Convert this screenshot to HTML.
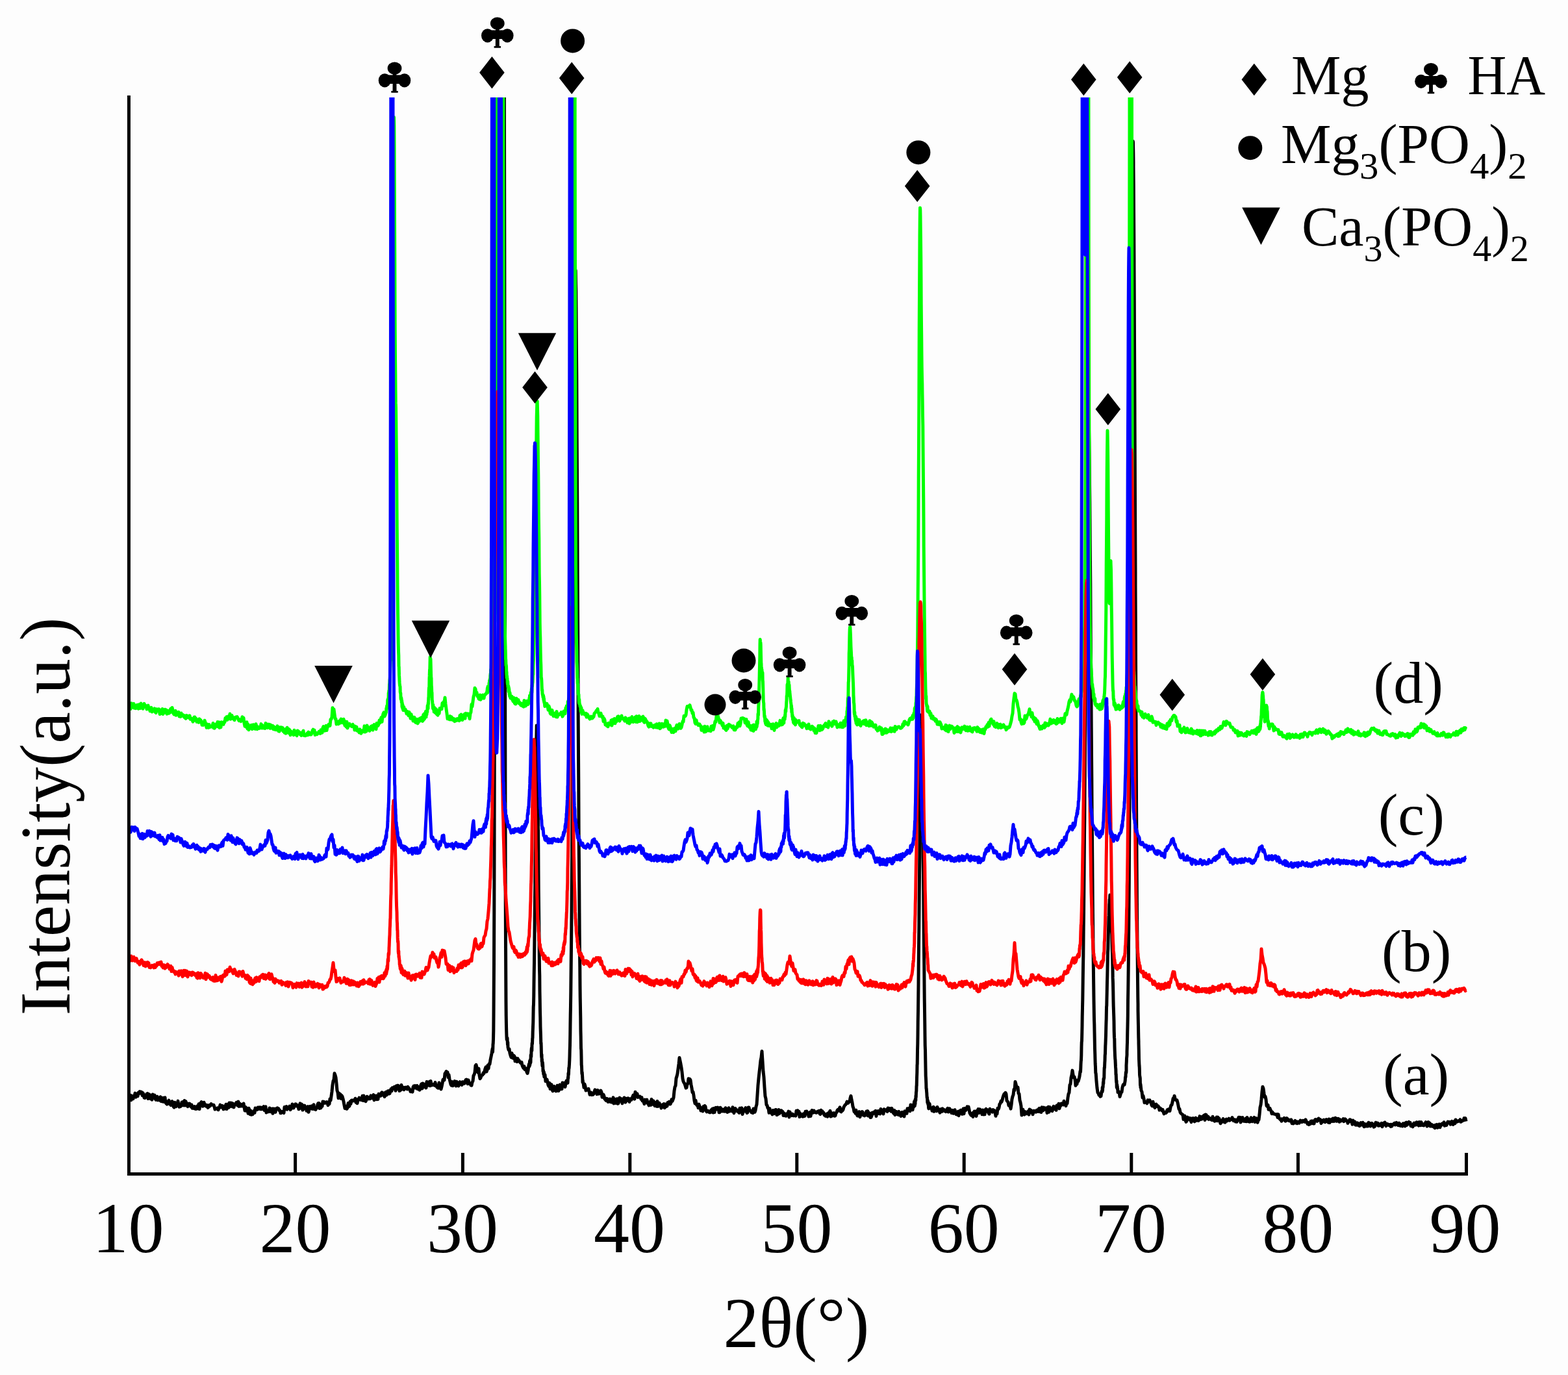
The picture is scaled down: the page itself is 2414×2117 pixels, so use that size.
<!DOCTYPE html>
<html><head><meta charset="utf-8"><title>XRD patterns</title>
<style>
html,body{margin:0;padding:0;background:#fdfdfd;}
svg{display:block;}
text{font-family:"Liberation Serif","Times New Roman",serif;fill:#000;}
</style></head><body>
<svg width="2414" height="2117" viewBox="0 0 2414 2117">
<rect width="2414" height="2117" fill="#fdfdfd"/>
<defs><clipPath id="pc"><rect x="190" y="150" width="2070" height="1655"/></clipPath>
</defs>

<g clip-path="url(#pc)" fill="none" stroke-width="5.0" stroke-linejoin="round" stroke-linecap="butt">
<path stroke="#000" d="M199.0,1690.6 200.0,1693.9 201.0,1686.2 202.0,1693.7 203.0,1687.1 204.0,1687.9 205.0,1691.8 206.0,1687.3 207.0,1688.2 208.0,1683.1 209.0,1689.2 210.0,1686.8 211.0,1684.1 212.0,1687.8 213.0,1682.4 214.0,1683.7 215.0,1680.6 216.0,1682.9 217.0,1681.1 218.0,1681.6 219.0,1686.6 220.0,1682.7 221.0,1685.0 222.0,1690.1 223.0,1690.5 224.0,1687.9 225.0,1686.1 226.0,1684.2 227.0,1683.6 228.0,1691.6 229.0,1688.6 230.0,1684.9 231.0,1689.8 232.0,1691.8 233.0,1690.2 234.0,1693.1 235.0,1685.0 236.0,1690.0 237.0,1688.9 238.0,1686.0 239.0,1691.5 240.0,1693.4 241.0,1691.3 242.0,1688.2 243.0,1693.9 244.0,1691.3 245.0,1691.8 246.0,1694.1 247.0,1688.8 248.0,1695.6 249.0,1694.3 250.0,1695.8 251.0,1690.2 252.0,1696.4 253.0,1690.2 254.0,1689.8 255.0,1697.6 256.0,1699.1 257.0,1700.1 258.0,1697.2 259.0,1696.0 260.0,1694.1 261.0,1699.7 262.0,1699.7 263.0,1701.6 264.0,1696.6 265.0,1695.7 266.0,1700.7 267.0,1703.7 268.0,1705.0 269.0,1697.2 270.0,1700.3 271.0,1703.8 272.0,1698.9 273.0,1700.8 274.0,1695.1 275.0,1701.7 276.0,1704.2 277.0,1702.9 278.0,1703.5 279.0,1701.0 280.0,1697.0 281.0,1701.7 282.0,1696.4 283.0,1701.9 284.0,1694.6 285.0,1701.9 286.0,1695.7 287.0,1698.7 288.0,1699.2 289.0,1703.7 290.0,1699.2 291.0,1701.6 292.0,1699.2 293.0,1702.4 294.0,1704.1 295.0,1701.0 296.0,1706.2 297.0,1703.5 298.0,1706.4 299.0,1705.7 300.0,1703.7 301.0,1707.4 302.0,1704.7 303.0,1707.2 304.0,1702.8 305.0,1703.9 306.0,1699.9 307.0,1707.6 308.0,1699.0 309.0,1698.7 310.0,1696.6 311.0,1698.2 312.0,1703.2 313.0,1702.7 314.0,1697.3 315.0,1700.2 316.0,1701.1 317.0,1703.1 318.0,1701.3 319.0,1702.7 320.0,1705.3 321.0,1704.5 322.0,1701.7 323.0,1703.0 324.0,1702.2 325.0,1699.6 326.0,1700.9 327.0,1700.9 328.0,1701.4 329.0,1701.2 330.0,1704.2 331.0,1708.0 332.0,1706.8 333.0,1707.1 334.0,1707.3 335.0,1705.9 336.0,1708.8 337.0,1706.2 338.0,1704.8 339.0,1701.1 340.0,1704.9 341.0,1703.1 342.0,1702.4 343.0,1705.4 344.0,1707.8 345.0,1703.2 346.0,1707.1 347.0,1704.2 348.0,1700.2 349.0,1707.5 350.0,1701.7 351.0,1700.2 352.0,1705.4 353.0,1697.9 354.0,1703.8 355.0,1698.0 356.0,1699.8 357.0,1698.3 358.0,1704.0 359.0,1699.2 360.0,1704.9 361.0,1701.0 362.0,1701.3 363.0,1700.0 364.0,1697.2 365.0,1697.4 366.0,1702.3 367.0,1696.1 368.0,1703.5 369.0,1702.3 370.0,1699.6 371.0,1703.1 372.0,1700.7 373.0,1701.7 374.0,1703.2 375.0,1699.0 376.0,1704.7 377.0,1710.0 378.0,1704.4 379.0,1710.2 380.0,1708.4 381.0,1706.4 382.0,1714.2 383.0,1706.2 384.0,1708.9 385.0,1715.7 386.0,1710.0 387.0,1716.3 388.0,1713.2 389.0,1715.6 390.0,1713.7 391.0,1710.3 392.0,1713.3 393.0,1706.1 394.0,1709.0 395.0,1707.9 396.0,1708.4 397.0,1704.9 398.0,1705.0 399.0,1707.3 400.0,1704.9 401.0,1707.8 402.0,1705.2 403.0,1707.6 404.0,1707.0 405.0,1706.4 406.0,1703.7 407.0,1709.5 408.0,1704.7 409.0,1704.0 410.0,1713.1 411.0,1709.7 412.0,1711.8 413.0,1710.4 414.0,1711.5 415.0,1706.0 416.0,1707.5 417.0,1711.8 418.0,1710.7 419.0,1707.0 420.0,1714.3 421.0,1706.9 422.0,1710.8 423.0,1707.2 424.0,1712.4 425.0,1708.1 426.0,1706.4 427.0,1705.8 428.0,1706.7 429.0,1707.0 430.0,1709.8 431.0,1709.6 432.0,1713.8 433.0,1713.5 434.0,1711.8 435.0,1711.4 436.0,1712.5 437.0,1713.5 438.0,1704.5 439.0,1704.7 440.0,1706.3 441.0,1703.6 442.0,1708.2 443.0,1704.6 444.0,1704.9 445.0,1705.2 446.0,1703.2 447.0,1708.6 448.0,1707.1 449.0,1706.2 450.0,1699.9 451.0,1703.6 452.0,1705.9 453.0,1701.3 454.0,1703.3 455.0,1699.8 456.0,1700.3 457.0,1701.7 458.0,1703.7 459.0,1703.8 460.0,1707.8 461.0,1702.1 462.0,1698.9 463.0,1706.3 464.0,1700.0 465.0,1700.6 466.0,1709.1 467.0,1707.6 468.0,1704.3 469.0,1702.2 470.0,1704.5 471.0,1704.7 472.0,1710.2 473.0,1706.1 474.0,1703.7 475.0,1712.2 476.0,1708.7 477.0,1703.6 478.0,1703.5 479.0,1706.3 480.0,1702.9 481.0,1707.4 482.0,1706.9 483.0,1700.8 484.0,1707.8 485.0,1706.8 486.0,1708.4 487.0,1705.8 488.0,1706.0 489.0,1700.4 490.0,1698.5 491.0,1698.4 492.0,1706.5 493.0,1702.8 494.0,1705.8 495.0,1700.0 496.0,1703.3 497.0,1695.9 498.0,1696.5 499.0,1696.4 500.0,1698.4 501.0,1698.2 502.0,1697.8 503.0,1696.6 504.0,1697.8 505.0,1701.7 506.0,1696.9 507.0,1699.6 508.0,1691.9 509.0,1694.2 510.0,1687.8 511.0,1680.6 512.0,1670.3 513.0,1664.4 514.0,1662.3 515.0,1652.6 516.0,1655.1 517.0,1658.8 518.0,1668.0 519.0,1678.9 520.0,1682.0 521.0,1690.8 522.0,1683.2 523.0,1686.9 524.0,1684.7 525.0,1691.5 526.0,1686.8 527.0,1688.2 528.0,1691.6 529.0,1696.0 530.0,1701.6 531.0,1706.5 532.0,1703.5 533.0,1703.1 534.0,1707.3 535.0,1705.5 536.0,1698.6 537.0,1703.7 538.0,1702.9 539.0,1696.0 540.0,1699.6 541.0,1694.2 542.0,1694.0 543.0,1695.2 544.0,1694.6 545.0,1693.6 546.0,1694.7 547.0,1691.2 548.0,1697.4 549.0,1692.9 550.0,1698.8 551.0,1694.0 552.0,1691.9 553.0,1690.2 554.0,1692.8 555.0,1691.2 556.0,1693.6 557.0,1691.8 558.0,1687.2 559.0,1694.4 560.0,1687.1 561.0,1694.6 562.0,1694.4 563.0,1695.7 564.0,1693.7 565.0,1688.3 566.0,1690.4 567.0,1690.4 568.0,1691.8 569.0,1689.2 570.0,1691.6 571.0,1686.9 572.0,1688.7 573.0,1690.6 574.0,1688.9 575.0,1685.6 576.0,1693.8 577.0,1690.6 578.0,1691.6 579.0,1687.0 580.0,1692.7 581.0,1691.4 582.0,1692.3 583.0,1684.2 584.0,1686.3 585.0,1685.0 586.0,1687.3 587.0,1683.2 588.0,1681.8 589.0,1685.1 590.0,1686.2 591.0,1683.0 592.0,1688.6 593.0,1682.3 594.0,1681.5 595.0,1686.1 596.0,1682.2 597.0,1679.9 598.0,1679.5 599.0,1684.1 600.0,1683.6 601.0,1679.8 602.0,1676.5 603.0,1679.8 604.0,1674.7 605.0,1674.8 606.0,1675.9 607.0,1673.5 608.0,1673.2 609.0,1679.3 610.0,1672.1 611.0,1676.7 612.0,1671.2 613.0,1671.5 614.0,1672.4 615.0,1679.6 616.0,1677.5 617.0,1678.3 618.0,1670.4 619.0,1676.9 620.0,1674.7 621.0,1674.3 622.0,1677.8 623.0,1674.3 624.0,1675.7 625.0,1674.1 626.0,1675.3 627.0,1677.0 628.0,1673.3 629.0,1675.2 630.0,1676.1 631.0,1677.8 632.0,1680.8 633.0,1679.0 634.0,1678.2 635.0,1681.2 636.0,1673.7 637.0,1672.1 638.0,1674.7 639.0,1671.6 640.0,1675.3 641.0,1675.3 642.0,1671.5 643.0,1676.7 644.0,1675.4 645.0,1673.7 646.0,1678.2 647.0,1676.7 648.0,1670.3 649.0,1668.8 650.0,1675.9 651.0,1668.1 652.0,1673.9 653.0,1669.2 654.0,1670.6 655.0,1671.6 656.0,1674.9 657.0,1665.4 658.0,1667.0 659.0,1671.1 660.0,1667.5 661.0,1665.6 662.0,1671.8 663.0,1664.4 664.0,1668.5 665.0,1670.9 666.0,1669.8 667.0,1669.6 668.0,1670.4 669.0,1671.1 670.0,1666.5 671.0,1670.9 672.0,1672.9 673.0,1674.0 674.0,1675.0 675.0,1675.2 676.0,1667.1 677.0,1670.5 678.0,1671.6 679.0,1677.0 680.0,1673.0 681.0,1668.0 682.0,1662.3 683.0,1661.5 684.0,1662.9 685.0,1652.7 686.0,1651.7 687.0,1649.6 688.0,1650.3 689.0,1650.9 690.0,1658.8 691.0,1654.7 692.0,1661.2 693.0,1665.5 694.0,1669.5 695.0,1671.0 696.0,1665.5 697.0,1671.7 698.0,1670.9 699.0,1668.3 700.0,1664.6 701.0,1665.7 702.0,1672.1 703.0,1665.2 704.0,1667.2 705.0,1667.2 706.0,1672.0 707.0,1667.8 708.0,1665.7 709.0,1669.2 710.0,1667.5 711.0,1670.5 712.0,1665.8 713.0,1668.7 714.0,1665.9 715.0,1668.1 716.0,1666.1 717.0,1662.8 718.0,1662.0 719.0,1663.1 720.0,1668.8 721.0,1662.9 722.0,1666.2 723.0,1668.3 724.0,1668.7 725.0,1671.1 726.0,1671.2 727.0,1666.3 728.0,1664.4 729.0,1656.1 730.0,1654.4 731.0,1651.3 732.0,1640.8 733.0,1639.4 734.0,1643.4 735.0,1647.4 736.0,1651.4 737.0,1645.3 738.0,1655.6 739.0,1660.8 740.0,1659.4 741.0,1656.5 742.0,1655.4 743.0,1655.1 744.0,1651.7 745.0,1652.7 746.0,1649.1 747.0,1645.4 748.0,1642.8 749.0,1650.1 750.0,1647.4 751.0,1640.2 752.0,1645.1 753.0,1637.9 754.0,1638.2 755.0,1631.8 756.0,1627.0 757.0,1621.9 757.5,1618.4 757.8,1616.7 758.0,1615.9 758.2,1614.3 758.5,1619.7 758.8,1614.0 759.0,1607.5 759.2,1607.0 759.5,1599.8 759.8,1587.3 760.0,1564.3 760.2,1532.1 760.5,1483.3 760.8,1402.5 761.0,1301.1 761.2,1174.7 761.5,1012.4 761.8,838.7 762.0,641.8 762.2,441.3 762.5,232.3 762.8,34.2 763.0,-50.0 763.2,-50.0 763.5,-50.0 763.8,-50.0 764.0,-50.0 764.2,-50.0 764.5,-50.0 764.8,-50.0 765.0,-50.0 765.2,-50.0 765.5,-50.0 765.8,-50.0 766.0,-50.0 766.2,-50.0 766.5,-50.0 766.8,-50.0 767.0,-50.0 767.2,-50.0 767.5,-50.0 767.8,-50.0 768.0,-50.0 768.2,-50.0 768.5,-50.0 768.8,-50.0 769.0,-50.0 769.2,-50.0 769.5,-50.0 769.8,-50.0 770.0,-50.0 770.2,-50.0 770.5,-50.0 770.8,-50.0 771.0,-50.0 771.2,-50.0 771.5,-50.0 771.8,-50.0 772.0,-50.0 772.2,-50.0 772.5,-50.0 772.8,-50.0 773.0,-50.0 773.2,-50.0 773.5,-50.0 773.8,-50.0 774.0,-50.0 774.2,-50.0 774.5,-50.0 774.8,-50.0 775.0,-50.0 775.2,-50.0 775.5,-50.0 775.8,-50.0 776.0,-50.0 776.2,-1.8 776.5,201.4 776.8,402.6 777.0,610.0 777.2,802.1 777.5,985.6 777.8,1145.7 778.0,1278.7 778.2,1378.0 778.5,1453.1 778.8,1510.4 779.0,1543.7 779.2,1563.3 779.5,1579.9 779.8,1590.8 780.0,1596.3 780.2,1600.7 780.5,1597.3 780.8,1598.1 781.0,1598.2 781.2,1602.9 781.5,1608.7 781.8,1604.5 782.0,1612.1 783.0,1616.4 784.0,1615.1 785.0,1621.5 786.0,1625.2 787.0,1628.0 788.0,1621.4 789.0,1628.7 790.0,1629.2 791.0,1625.1 792.0,1626.3 793.0,1633.8 794.0,1629.1 795.0,1629.4 796.0,1634.8 797.0,1629.7 798.0,1633.2 799.0,1632.7 800.0,1634.7 801.0,1636.0 802.0,1637.0 803.0,1635.4 804.0,1640.5 805.0,1642.8 806.0,1644.7 807.0,1641.7 808.0,1646.7 809.0,1645.7 810.0,1645.2 811.0,1650.7 812.0,1652.6 813.0,1648.4 814.0,1640.2 814.5,1638.0 814.8,1642.1 815.0,1641.0 815.2,1641.5 815.5,1633.7 815.8,1639.6 816.0,1634.7 816.2,1632.2 816.5,1631.3 816.8,1636.4 817.0,1634.6 817.2,1624.3 817.5,1624.6 817.8,1626.9 818.0,1618.3 818.2,1615.3 818.5,1613.0 818.8,1617.8 819.0,1609.2 819.2,1605.7 819.5,1607.4 819.8,1598.7 820.0,1598.0 820.2,1589.1 820.5,1581.6 820.8,1574.0 821.0,1562.0 821.2,1550.7 821.5,1546.2 821.8,1532.8 822.0,1514.2 822.2,1500.3 822.5,1482.9 822.8,1457.6 823.0,1438.7 823.2,1415.0 823.5,1382.1 823.8,1355.0 824.0,1332.3 824.2,1301.9 824.5,1267.1 824.8,1244.1 825.0,1216.3 825.2,1186.1 825.5,1162.5 825.8,1140.8 826.0,1129.0 826.2,1117.0 826.5,1118.0 826.8,1122.8 827.0,1132.1 827.2,1143.7 827.5,1169.0 827.8,1193.9 828.0,1214.6 828.2,1247.5 828.5,1278.5 828.8,1302.7 829.0,1339.7 829.2,1369.3 829.5,1394.6 829.8,1422.9 830.0,1442.0 830.2,1467.8 830.5,1491.5 830.8,1502.3 831.0,1526.7 831.2,1536.9 831.5,1556.8 831.8,1567.3 832.0,1580.7 832.2,1586.4 832.5,1594.6 832.8,1607.2 833.0,1605.4 833.2,1611.0 833.5,1623.9 833.8,1628.0 834.0,1623.5 834.2,1634.5 834.5,1630.6 834.8,1639.3 835.0,1641.1 835.2,1635.3 835.5,1637.2 835.8,1641.8 836.0,1649.3 836.2,1649.6 836.5,1647.8 836.8,1653.9 837.0,1650.3 837.2,1651.6 837.5,1650.8 837.8,1657.9 838.0,1657.4 838.2,1654.4 839.0,1654.7 840.0,1664.8 841.0,1661.6 842.0,1661.9 843.0,1666.1 844.0,1670.6 845.0,1672.6 846.0,1667.4 847.0,1676.4 848.0,1674.3 849.0,1669.7 850.0,1677.6 851.0,1679.8 852.0,1679.3 853.0,1672.5 854.0,1676.0 855.0,1677.2 856.0,1680.0 857.0,1675.6 858.0,1671.2 859.0,1679.5 860.0,1679.4 861.0,1674.6 862.0,1670.1 863.0,1676.9 864.0,1675.6 865.0,1676.7 866.0,1667.1 867.0,1671.4 868.0,1670.1 869.0,1667.3 870.0,1673.5 871.0,1668.5 872.0,1664.0 873.0,1663.7 874.0,1667.4 874.2,1663.9 874.5,1658.2 874.8,1660.3 875.0,1652.2 875.2,1655.3 875.5,1652.7 875.8,1643.9 876.0,1645.2 876.2,1643.0 876.5,1638.5 876.8,1632.3 877.0,1626.7 877.2,1617.7 877.5,1609.5 877.8,1593.2 878.0,1575.9 878.2,1563.0 878.5,1548.3 878.8,1527.2 879.0,1506.5 879.2,1487.3 879.5,1458.6 879.8,1429.8 880.0,1402.5 880.2,1369.4 880.5,1331.7 880.8,1286.4 881.0,1246.3 881.2,1202.1 881.5,1147.1 881.8,1097.5 882.0,1049.5 882.2,992.0 882.5,936.6 882.8,883.5 883.0,824.4 883.2,774.3 883.5,717.8 883.8,668.6 884.0,620.0 884.2,577.4 884.5,535.4 884.8,502.6 885.0,474.6 885.2,446.5 885.5,434.7 885.8,423.5 886.0,415.6 886.2,417.0 886.5,435.2 886.8,447.8 887.0,472.2 887.2,504.3 887.5,543.8 887.8,578.1 888.0,624.3 888.2,674.2 888.5,725.5 888.8,774.0 889.0,831.7 889.2,886.4 889.5,943.0 889.8,993.3 890.0,1048.1 890.2,1108.6 890.5,1157.3 890.8,1205.8 891.0,1252.5 891.2,1295.3 891.5,1330.2 891.8,1372.3 892.0,1405.9 892.2,1436.6 892.5,1466.1 892.8,1489.9 893.0,1518.1 893.2,1534.8 893.5,1551.2 893.8,1567.1 894.0,1587.2 894.2,1595.2 894.5,1614.0 894.8,1616.8 895.0,1626.1 895.2,1639.4 895.5,1641.6 895.8,1650.6 896.0,1653.6 896.2,1650.7 896.5,1655.4 896.8,1660.0 897.0,1666.5 897.2,1663.0 897.5,1666.2 897.8,1667.6 898.0,1667.1 899.0,1674.3 900.0,1669.2 901.0,1672.5 902.0,1679.0 903.0,1678.1 904.0,1678.3 905.0,1678.2 906.0,1676.3 907.0,1680.1 908.0,1685.4 909.0,1682.0 910.0,1682.0 911.0,1685.7 912.0,1684.3 913.0,1685.3 914.0,1684.1 915.0,1680.8 916.0,1677.9 917.0,1681.7 918.0,1679.6 919.0,1684.7 920.0,1678.5 921.0,1681.1 922.0,1684.2 923.0,1680.0 924.0,1682.7 925.0,1679.1 926.0,1681.5 927.0,1689.3 928.0,1687.4 929.0,1685.2 930.0,1687.7 931.0,1692.1 932.0,1693.1 933.0,1694.4 934.0,1691.4 935.0,1691.7 936.0,1696.5 937.0,1695.8 938.0,1696.1 939.0,1692.0 940.0,1692.9 941.0,1696.9 942.0,1692.5 943.0,1697.2 944.0,1689.8 945.0,1698.9 946.0,1691.9 947.0,1694.2 948.0,1698.4 949.0,1692.3 950.0,1691.8 951.0,1699.2 952.0,1698.7 953.0,1694.4 954.0,1690.1 955.0,1695.1 956.0,1691.7 957.0,1692.0 958.0,1698.9 959.0,1695.4 960.0,1693.8 961.0,1690.0 962.0,1692.6 963.0,1697.1 964.0,1691.3 965.0,1691.6 966.0,1694.3 967.0,1690.9 968.0,1693.7 969.0,1696.4 970.0,1691.7 971.0,1692.5 972.0,1693.2 973.0,1690.9 974.0,1688.4 975.0,1686.1 976.0,1690.0 977.0,1692.1 978.0,1681.2 979.0,1687.7 980.0,1687.3 981.0,1683.9 982.0,1689.5 983.0,1688.4 984.0,1688.3 985.0,1688.1 986.0,1689.6 987.0,1692.3 988.0,1689.7 989.0,1695.0 990.0,1694.6 991.0,1696.7 992.0,1699.6 993.0,1693.1 994.0,1695.8 995.0,1694.5 996.0,1693.2 997.0,1698.8 998.0,1698.8 999.0,1701.9 1000.0,1698.4 1001.0,1696.2 1002.0,1701.4 1003.0,1692.5 1004.0,1695.4 1005.0,1700.1 1006.0,1695.0 1007.0,1697.2 1008.0,1702.6 1009.0,1698.1 1010.0,1697.3 1011.0,1703.4 1012.0,1695.6 1013.0,1703.4 1014.0,1698.9 1015.0,1698.3 1016.0,1701.3 1017.0,1701.4 1018.0,1706.1 1019.0,1704.1 1020.0,1700.9 1021.0,1702.0 1022.0,1699.6 1023.0,1705.7 1024.0,1700.0 1025.0,1704.1 1026.0,1701.2 1027.0,1703.1 1028.0,1697.5 1029.0,1697.8 1030.0,1696.5 1031.0,1699.9 1032.0,1700.0 1033.0,1697.8 1034.0,1692.8 1035.0,1695.5 1036.0,1693.1 1037.0,1690.0 1038.0,1679.7 1039.0,1673.6 1040.0,1671.7 1041.0,1660.1 1042.0,1657.1 1043.0,1653.0 1044.0,1645.5 1045.0,1638.1 1046.0,1628.4 1047.0,1633.3 1048.0,1638.1 1049.0,1643.6 1050.0,1650.8 1051.0,1660.6 1052.0,1665.0 1053.0,1667.0 1054.0,1668.4 1055.0,1671.4 1056.0,1675.1 1057.0,1674.5 1058.0,1668.9 1059.0,1668.4 1060.0,1660.7 1061.0,1662.2 1062.0,1661.3 1063.0,1663.0 1064.0,1670.2 1065.0,1675.2 1066.0,1682.0 1067.0,1681.2 1068.0,1686.6 1069.0,1694.6 1070.0,1698.9 1071.0,1694.2 1072.0,1700.0 1073.0,1701.7 1074.0,1701.1 1075.0,1705.7 1076.0,1700.1 1077.0,1703.4 1078.0,1704.5 1079.0,1710.0 1080.0,1707.2 1081.0,1708.0 1082.0,1710.9 1083.0,1703.6 1084.0,1707.0 1085.0,1702.5 1086.0,1703.5 1087.0,1710.1 1088.0,1711.9 1089.0,1710.4 1090.0,1710.3 1091.0,1712.1 1092.0,1712.6 1093.0,1712.9 1094.0,1712.3 1095.0,1708.8 1096.0,1711.9 1097.0,1707.0 1098.0,1713.1 1099.0,1706.4 1100.0,1712.6 1101.0,1706.1 1102.0,1705.3 1103.0,1706.2 1104.0,1707.9 1105.0,1705.2 1106.0,1705.9 1107.0,1712.8 1108.0,1712.7 1109.0,1705.2 1110.0,1707.8 1111.0,1707.6 1112.0,1710.9 1113.0,1710.0 1114.0,1708.2 1115.0,1711.2 1116.0,1709.2 1117.0,1705.7 1118.0,1711.4 1119.0,1707.4 1120.0,1712.4 1121.0,1711.0 1122.0,1705.8 1123.0,1711.1 1124.0,1709.9 1125.0,1710.0 1126.0,1708.2 1127.0,1710.9 1128.0,1704.7 1129.0,1709.5 1130.0,1713.7 1131.0,1707.1 1132.0,1706.6 1133.0,1709.7 1134.0,1710.5 1135.0,1709.1 1136.0,1710.3 1137.0,1712.2 1138.0,1713.3 1139.0,1706.2 1140.0,1709.3 1141.0,1711.7 1142.0,1705.9 1143.0,1715.5 1144.0,1712.5 1145.0,1711.0 1146.0,1710.2 1147.0,1707.2 1148.0,1705.6 1149.0,1711.2 1150.0,1713.5 1151.0,1712.7 1152.0,1705.0 1153.0,1704.9 1154.0,1709.6 1155.0,1710.1 1156.0,1710.3 1157.0,1712.8 1158.0,1713.1 1159.0,1713.6 1160.0,1706.9 1161.0,1707.5 1162.0,1712.3 1163.0,1709.6 1164.0,1703.8 1165.0,1700.4 1166.0,1685.8 1167.0,1670.7 1168.0,1660.2 1169.0,1650.8 1170.0,1642.2 1171.0,1632.7 1172.0,1627.9 1173.0,1618.5 1174.0,1633.6 1175.0,1649.3 1176.0,1658.3 1177.0,1674.1 1178.0,1687.6 1179.0,1691.5 1180.0,1701.1 1181.0,1701.9 1182.0,1705.9 1183.0,1706.1 1184.0,1713.3 1185.0,1706.6 1186.0,1712.7 1187.0,1711.9 1188.0,1714.0 1189.0,1715.8 1190.0,1709.5 1191.0,1712.0 1192.0,1714.4 1193.0,1709.2 1194.0,1708.4 1195.0,1708.7 1196.0,1716.6 1197.0,1716.0 1198.0,1710.3 1199.0,1708.7 1200.0,1714.6 1201.0,1711.0 1202.0,1710.0 1203.0,1709.8 1204.0,1712.7 1205.0,1711.4 1206.0,1717.5 1207.0,1713.8 1208.0,1717.5 1209.0,1717.8 1210.0,1718.2 1211.0,1714.7 1212.0,1715.8 1213.0,1715.8 1214.0,1711.1 1215.0,1719.9 1216.0,1712.0 1217.0,1715.5 1218.0,1716.3 1219.0,1717.6 1220.0,1715.0 1221.0,1716.1 1222.0,1717.8 1223.0,1716.6 1224.0,1716.2 1225.0,1718.1 1226.0,1710.3 1227.0,1715.1 1228.0,1709.7 1229.0,1711.6 1230.0,1711.3 1231.0,1719.6 1232.0,1714.2 1233.0,1716.6 1234.0,1718.3 1235.0,1716.7 1236.0,1719.1 1237.0,1714.9 1238.0,1716.9 1239.0,1718.3 1240.0,1711.3 1241.0,1714.9 1242.0,1711.0 1243.0,1715.2 1244.0,1713.7 1245.0,1719.0 1246.0,1715.2 1247.0,1712.2 1248.0,1718.6 1249.0,1713.8 1250.0,1709.5 1251.0,1711.9 1252.0,1713.1 1253.0,1710.0 1254.0,1711.1 1255.0,1712.5 1256.0,1713.1 1257.0,1713.3 1258.0,1711.8 1259.0,1711.0 1260.0,1712.1 1261.0,1710.5 1262.0,1714.7 1263.0,1715.5 1264.0,1709.2 1265.0,1710.9 1266.0,1710.7 1267.0,1713.8 1268.0,1713.2 1269.0,1716.8 1270.0,1716.3 1271.0,1718.3 1272.0,1715.8 1273.0,1715.0 1274.0,1719.3 1275.0,1716.2 1276.0,1712.9 1277.0,1712.8 1278.0,1710.3 1279.0,1719.1 1280.0,1717.1 1281.0,1713.9 1282.0,1717.9 1283.0,1717.1 1284.0,1713.6 1285.0,1718.2 1286.0,1717.7 1287.0,1713.5 1288.0,1712.8 1289.0,1709.5 1290.0,1708.3 1291.0,1709.8 1292.0,1707.3 1293.0,1704.9 1294.0,1711.1 1295.0,1711.8 1296.0,1708.0 1297.0,1710.0 1298.0,1708.4 1299.0,1704.6 1300.0,1702.9 1301.0,1701.1 1302.0,1700.8 1303.0,1698.7 1304.0,1696.2 1305.0,1698.5 1306.0,1698.1 1307.0,1696.1 1308.0,1696.1 1309.0,1690.8 1310.0,1687.3 1311.0,1692.9 1312.0,1697.4 1313.0,1703.7 1314.0,1706.1 1315.0,1711.6 1316.0,1710.4 1317.0,1714.1 1318.0,1709.3 1319.0,1715.4 1320.0,1717.9 1321.0,1718.0 1322.0,1718.0 1323.0,1711.6 1324.0,1719.7 1325.0,1715.3 1326.0,1712.4 1327.0,1711.6 1328.0,1712.1 1329.0,1717.0 1330.0,1717.0 1331.0,1717.9 1332.0,1716.0 1333.0,1714.1 1334.0,1711.1 1335.0,1717.2 1336.0,1710.6 1337.0,1718.1 1338.0,1713.6 1339.0,1713.9 1340.0,1720.6 1341.0,1720.3 1342.0,1718.0 1343.0,1713.0 1344.0,1715.1 1345.0,1713.7 1346.0,1711.9 1347.0,1712.3 1348.0,1710.3 1349.0,1718.5 1350.0,1711.6 1351.0,1712.3 1352.0,1710.5 1353.0,1714.5 1354.0,1713.3 1355.0,1714.9 1356.0,1707.4 1357.0,1709.3 1358.0,1712.9 1359.0,1712.7 1360.0,1714.9 1361.0,1707.8 1362.0,1710.5 1363.0,1709.7 1364.0,1710.0 1365.0,1708.3 1366.0,1711.5 1367.0,1706.0 1368.0,1706.6 1369.0,1709.4 1370.0,1706.6 1371.0,1709.5 1372.0,1711.2 1373.0,1706.4 1374.0,1710.9 1375.0,1712.8 1376.0,1714.3 1377.0,1709.5 1378.0,1716.6 1379.0,1715.8 1380.0,1711.5 1381.0,1712.8 1382.0,1715.1 1383.0,1716.4 1384.0,1711.4 1385.0,1716.7 1386.0,1713.3 1387.0,1718.5 1388.0,1717.8 1389.0,1712.4 1390.0,1712.7 1391.0,1714.3 1392.0,1719.0 1393.0,1710.7 1394.0,1713.6 1395.0,1714.0 1396.0,1714.3 1397.0,1706.8 1398.0,1710.4 1399.0,1708.4 1400.0,1706.0 1401.0,1710.7 1402.0,1701.1 1403.0,1707.5 1404.0,1702.0 1405.0,1708.9 1406.0,1703.6 1406.5,1703.1 1406.8,1699.6 1407.0,1701.7 1407.2,1703.7 1407.5,1696.2 1407.8,1700.9 1408.0,1695.7 1408.2,1696.5 1408.5,1702.4 1408.8,1693.6 1409.0,1699.6 1409.2,1692.4 1409.5,1694.8 1409.8,1694.3 1410.0,1686.8 1410.2,1690.2 1410.5,1681.4 1410.8,1680.2 1411.0,1672.1 1411.2,1671.6 1411.5,1659.3 1411.8,1651.5 1412.0,1639.4 1412.2,1638.4 1412.5,1618.3 1412.8,1607.1 1413.0,1593.8 1413.2,1573.2 1413.5,1556.5 1413.8,1532.9 1414.0,1514.7 1414.2,1483.8 1414.5,1457.0 1414.8,1430.7 1415.0,1406.8 1415.2,1378.8 1415.5,1350.4 1415.8,1320.8 1416.0,1284.6 1416.2,1259.0 1416.5,1226.3 1416.8,1200.3 1417.0,1174.2 1417.2,1159.9 1417.5,1136.3 1417.8,1124.8 1418.0,1112.5 1418.2,1110.4 1418.5,1100.8 1418.8,1106.3 1419.0,1115.2 1419.2,1120.1 1419.5,1141.0 1419.8,1156.9 1420.0,1173.9 1420.2,1207.1 1420.5,1228.4 1420.8,1257.0 1421.0,1289.3 1421.2,1321.2 1421.5,1344.3 1421.8,1372.7 1422.0,1408.3 1422.2,1436.2 1422.5,1460.6 1422.8,1488.2 1423.0,1515.8 1423.2,1537.6 1423.5,1555.7 1423.8,1578.1 1424.0,1595.2 1424.2,1609.5 1424.5,1616.9 1424.8,1633.5 1425.0,1644.8 1425.2,1656.5 1425.5,1661.0 1425.8,1668.3 1426.0,1676.1 1426.2,1675.8 1426.5,1679.9 1426.8,1683.2 1427.0,1687.3 1427.2,1690.3 1427.5,1689.6 1427.8,1697.0 1428.0,1698.0 1428.2,1697.8 1428.5,1694.6 1428.8,1700.7 1429.0,1697.3 1429.2,1696.9 1429.5,1705.1 1429.8,1706.9 1430.0,1698.7 1430.2,1704.6 1431.0,1699.2 1432.0,1705.0 1433.0,1705.7 1434.0,1705.8 1435.0,1710.3 1436.0,1708.0 1437.0,1704.2 1438.0,1711.3 1439.0,1706.0 1440.0,1708.5 1441.0,1706.7 1442.0,1710.7 1443.0,1704.5 1444.0,1707.4 1445.0,1708.1 1446.0,1710.4 1447.0,1713.1 1448.0,1707.7 1449.0,1708.3 1450.0,1711.4 1451.0,1706.9 1452.0,1710.2 1453.0,1708.2 1454.0,1710.5 1455.0,1710.7 1456.0,1711.6 1457.0,1709.5 1458.0,1707.5 1459.0,1706.3 1460.0,1712.0 1461.0,1709.4 1462.0,1706.8 1463.0,1711.0 1464.0,1709.7 1465.0,1713.5 1466.0,1709.4 1467.0,1710.7 1468.0,1714.3 1469.0,1713.6 1470.0,1708.7 1471.0,1712.8 1472.0,1715.8 1473.0,1715.7 1474.0,1716.2 1475.0,1711.2 1476.0,1717.7 1477.0,1710.8 1478.0,1712.3 1479.0,1709.2 1480.0,1713.6 1481.0,1715.3 1482.0,1715.0 1483.0,1707.1 1484.0,1714.8 1485.0,1706.6 1486.0,1709.0 1487.0,1709.5 1488.0,1707.3 1489.0,1703.9 1490.0,1705.8 1491.0,1704.0 1492.0,1708.1 1493.0,1713.7 1494.0,1715.4 1495.0,1717.1 1496.0,1717.5 1497.0,1713.7 1498.0,1719.5 1499.0,1712.7 1500.0,1711.2 1501.0,1716.0 1502.0,1711.1 1503.0,1718.4 1504.0,1713.7 1505.0,1709.4 1506.0,1707.7 1507.0,1713.5 1508.0,1707.8 1509.0,1708.3 1510.0,1712.0 1511.0,1712.3 1512.0,1715.7 1513.0,1709.0 1514.0,1716.0 1515.0,1711.0 1516.0,1715.8 1517.0,1708.5 1518.0,1707.5 1519.0,1711.0 1520.0,1708.6 1521.0,1710.2 1522.0,1713.9 1523.0,1715.1 1524.0,1707.3 1525.0,1709.3 1526.0,1710.0 1527.0,1709.1 1528.0,1712.1 1529.0,1708.6 1530.0,1710.2 1531.0,1709.8 1532.0,1713.3 1533.0,1718.3 1534.0,1711.0 1535.0,1714.9 1536.0,1706.3 1537.0,1707.7 1538.0,1705.4 1539.0,1699.8 1540.0,1698.9 1541.0,1695.2 1542.0,1696.5 1543.0,1693.6 1544.0,1689.6 1545.0,1686.5 1546.0,1684.2 1547.0,1685.9 1548.0,1682.3 1549.0,1684.6 1550.0,1694.4 1551.0,1695.7 1552.0,1696.7 1553.0,1702.1 1554.0,1700.9 1555.0,1701.6 1556.0,1707.1 1557.0,1701.1 1558.0,1692.3 1559.0,1688.1 1560.0,1685.6 1561.0,1677.3 1562.0,1678.9 1563.0,1665.4 1564.0,1668.9 1565.0,1673.8 1566.0,1673.7 1567.0,1673.9 1568.0,1683.5 1569.0,1684.1 1570.0,1694.0 1571.0,1697.5 1572.0,1703.0 1573.0,1717.1 1574.0,1709.1 1575.0,1708.5 1576.0,1715.6 1577.0,1716.1 1578.0,1711.6 1579.0,1711.9 1580.0,1714.8 1581.0,1713.7 1582.0,1713.5 1583.0,1710.9 1584.0,1716.1 1585.0,1707.9 1586.0,1712.8 1587.0,1709.1 1588.0,1710.9 1589.0,1710.5 1590.0,1715.7 1591.0,1712.6 1592.0,1710.2 1593.0,1711.7 1594.0,1711.1 1595.0,1712.2 1596.0,1709.2 1597.0,1710.6 1598.0,1711.3 1599.0,1707.4 1600.0,1706.4 1601.0,1711.7 1602.0,1707.2 1603.0,1712.5 1604.0,1704.7 1605.0,1706.6 1606.0,1709.8 1607.0,1705.1 1608.0,1708.1 1609.0,1706.8 1610.0,1705.9 1611.0,1705.8 1612.0,1713.4 1613.0,1706.3 1614.0,1704.2 1615.0,1712.3 1616.0,1704.6 1617.0,1709.7 1618.0,1708.8 1619.0,1709.7 1620.0,1710.6 1621.0,1705.1 1622.0,1703.4 1623.0,1707.5 1624.0,1707.0 1625.0,1704.2 1626.0,1709.3 1627.0,1702.0 1628.0,1704.8 1629.0,1704.7 1630.0,1699.3 1631.0,1706.8 1632.0,1702.1 1633.0,1702.4 1634.0,1699.0 1635.0,1700.4 1636.0,1699.9 1637.0,1700.9 1638.0,1695.3 1639.0,1698.6 1640.0,1698.8 1641.0,1702.6 1642.0,1698.3 1643.0,1698.8 1644.0,1690.1 1645.0,1684.2 1646.0,1682.1 1647.0,1670.4 1648.0,1669.0 1649.0,1659.2 1650.0,1655.1 1651.0,1648.1 1652.0,1654.7 1653.0,1658.6 1654.0,1658.1 1655.0,1662.1 1656.0,1671.4 1657.0,1665.2 1658.0,1669.2 1659.0,1663.1 1660.0,1664.8 1661.0,1661.4 1662.0,1657.2 1663.0,1649.3 1663.5,1650.4 1663.8,1644.5 1664.0,1638.6 1664.2,1634.7 1664.5,1632.1 1664.8,1624.3 1665.0,1611.7 1665.2,1604.9 1665.5,1602.7 1665.8,1589.8 1666.0,1580.2 1666.2,1565.3 1666.5,1552.3 1666.8,1538.9 1667.0,1524.8 1667.2,1509.6 1667.5,1489.5 1667.8,1472.0 1668.0,1448.5 1668.2,1426.4 1668.5,1405.7 1668.8,1371.2 1669.0,1349.4 1669.2,1321.7 1669.5,1286.4 1669.8,1261.1 1670.0,1221.0 1670.2,1193.0 1670.5,1151.5 1670.8,1117.5 1671.0,1080.3 1671.2,1045.5 1671.5,1009.6 1671.8,967.5 1672.0,938.3 1672.2,901.1 1672.5,869.7 1672.8,829.7 1673.0,800.2 1673.2,774.5 1673.5,743.3 1673.8,716.1 1674.0,693.0 1674.2,677.5 1674.5,652.9 1674.8,648.7 1675.0,635.3 1675.2,633.0 1675.5,628.4 1675.8,633.8 1676.0,632.9 1676.2,645.2 1676.5,661.2 1676.8,678.9 1677.0,694.6 1677.2,713.6 1677.5,745.2 1677.8,772.6 1678.0,798.8 1678.2,831.1 1678.5,867.1 1678.8,899.3 1679.0,942.1 1679.2,979.7 1679.5,1014.9 1679.8,1053.3 1680.0,1086.1 1680.2,1120.3 1680.5,1162.0 1680.8,1197.1 1681.0,1230.8 1681.2,1259.1 1681.5,1290.3 1681.8,1326.2 1682.0,1353.1 1682.2,1382.1 1682.5,1410.2 1682.8,1432.5 1683.0,1462.3 1683.2,1478.4 1683.5,1501.3 1683.8,1524.1 1684.0,1539.4 1684.2,1551.8 1684.5,1569.5 1684.8,1577.7 1685.0,1588.7 1685.2,1598.6 1685.5,1614.2 1685.8,1623.4 1686.0,1631.1 1686.2,1638.0 1686.5,1643.0 1686.8,1652.2 1687.0,1652.1 1687.2,1653.0 1688.0,1664.6 1689.0,1675.2 1690.0,1682.2 1691.0,1683.2 1692.0,1686.1 1693.0,1684.7 1694.0,1688.3 1695.0,1687.6 1696.0,1680.3 1697.0,1680.9 1697.2,1674.3 1697.5,1679.5 1697.8,1672.7 1698.0,1674.4 1698.2,1672.2 1698.5,1665.8 1698.8,1668.4 1699.0,1660.9 1699.2,1662.3 1699.5,1660.3 1699.8,1659.8 1700.0,1649.1 1700.2,1643.7 1700.5,1644.0 1700.8,1636.0 1701.0,1633.1 1701.2,1625.0 1701.5,1622.4 1701.8,1610.7 1702.0,1607.1 1702.2,1602.0 1702.5,1594.1 1702.8,1580.7 1703.0,1573.6 1703.2,1568.5 1703.5,1551.0 1703.8,1547.7 1704.0,1536.8 1704.2,1528.6 1704.5,1513.0 1704.8,1502.3 1705.0,1492.2 1705.2,1480.3 1705.5,1466.7 1705.8,1461.1 1706.0,1450.1 1706.2,1441.7 1706.5,1433.2 1706.8,1421.5 1707.0,1411.7 1707.2,1409.4 1707.5,1403.8 1707.8,1392.0 1708.0,1390.9 1708.2,1384.8 1708.5,1385.2 1708.8,1378.1 1709.0,1385.5 1709.2,1385.3 1709.5,1379.9 1709.8,1387.1 1710.0,1388.2 1710.2,1391.9 1710.5,1403.7 1710.8,1410.1 1711.0,1415.6 1711.2,1423.9 1711.5,1434.7 1711.8,1438.7 1712.0,1449.9 1712.2,1458.0 1712.5,1470.8 1712.8,1479.4 1713.0,1492.1 1713.2,1505.9 1713.5,1513.6 1713.8,1527.8 1714.0,1540.0 1714.2,1548.9 1714.5,1556.9 1714.8,1565.9 1715.0,1572.4 1715.2,1587.4 1715.5,1597.2 1715.8,1599.5 1716.0,1611.1 1716.2,1617.2 1716.5,1625.1 1716.8,1630.5 1717.0,1631.7 1717.2,1636.1 1717.5,1642.9 1717.8,1646.4 1718.0,1654.6 1718.2,1653.6 1718.5,1662.7 1718.8,1666.9 1719.0,1663.8 1719.2,1673.9 1719.5,1674.9 1719.8,1670.1 1720.0,1675.9 1720.2,1672.3 1720.5,1677.4 1720.8,1676.2 1721.0,1681.8 1722.0,1680.2 1723.0,1681.2 1724.0,1688.5 1725.0,1685.2 1726.0,1682.3 1727.0,1681.3 1728.0,1674.1 1729.0,1670.6 1730.0,1669.3 1731.0,1670.2 1732.0,1665.3 1732.3,1662.9 1732.5,1658.8 1732.8,1657.9 1733.0,1658.3 1733.0,1656.7 1733.3,1651.3 1733.5,1650.4 1733.8,1651.8 1734.0,1649.0 1734.0,1640.2 1734.3,1635.2 1734.5,1629.4 1734.8,1626.4 1735.0,1624.1 1735.0,1619.7 1735.3,1610.0 1735.5,1605.0 1735.8,1587.8 1736.0,1580.1 1736.0,1579.6 1736.3,1564.6 1736.5,1540.8 1736.8,1523.6 1737.0,1507.8 1737.0,1507.0 1737.3,1482.3 1737.5,1455.1 1737.8,1423.5 1738.0,1397.3 1738.0,1393.4 1738.3,1359.4 1738.5,1315.8 1738.8,1273.2 1739.0,1234.3 1739.0,1225.2 1739.3,1176.6 1739.5,1128.1 1739.8,1076.4 1740.0,1027.3 1740.0,1014.2 1740.3,955.1 1740.5,899.7 1740.8,833.2 1741.0,779.6 1741.0,770.8 1741.3,708.1 1741.5,641.0 1741.8,578.7 1742.0,529.9 1742.0,518.0 1742.3,465.2 1742.5,411.3 1742.8,365.0 1743.0,322.3 1743.0,315.4 1743.3,283.3 1743.5,255.5 1743.8,233.4 1744.0,223.7 1744.0,225.2 1744.3,217.6 1744.5,219.3 1744.8,234.0 1745.0,249.0 1745.0,256.8 1745.3,285.5 1745.5,322.3 1745.8,367.3 1746.0,401.4 1746.0,407.7 1746.3,465.1 1746.5,522.8 1746.8,585.7 1747.0,635.8 1747.0,641.7 1747.3,711.4 1747.5,769.3 1747.8,836.8 1748.0,882.2 1748.0,901.5 1748.3,959.0 1748.5,1017.1 1748.8,1080.4 1749.0,1116.9 1749.0,1130.0 1749.3,1183.0 1749.5,1230.2 1749.8,1277.1 1750.0,1316.0 1750.0,1319.4 1750.3,1362.6 1750.5,1395.9 1750.8,1432.5 1751.0,1453.1 1751.0,1459.2 1751.3,1488.3 1751.5,1509.7 1751.8,1535.7 1752.0,1546.4 1752.0,1555.8 1752.3,1571.0 1752.5,1580.5 1752.8,1597.1 1753.0,1603.2 1753.0,1606.0 1753.3,1617.9 1753.5,1630.4 1753.8,1637.2 1754.0,1641.8 1754.0,1639.6 1754.3,1645.7 1754.5,1654.7 1754.8,1657.3 1755.0,1658.8 1755.0,1657.7 1755.3,1660.6 1755.5,1670.9 1755.8,1668.6 1756.0,1674.7 1756.0,1669.8 1757.0,1679.1 1758.0,1680.9 1759.0,1690.1 1760.0,1687.2 1761.0,1691.7 1762.0,1697.8 1763.0,1697.1 1764.0,1697.0 1765.0,1696.6 1766.0,1698.8 1767.0,1693.8 1768.0,1695.1 1769.0,1696.0 1770.0,1693.8 1771.0,1696.4 1772.0,1697.8 1773.0,1701.7 1774.0,1702.9 1775.0,1696.2 1776.0,1700.6 1777.0,1703.7 1778.0,1705.6 1779.0,1700.5 1780.0,1700.1 1781.0,1702.4 1782.0,1703.7 1783.0,1702.9 1784.0,1705.1 1785.0,1709.1 1786.0,1706.0 1787.0,1706.9 1788.0,1708.2 1789.0,1709.9 1790.0,1708.4 1791.0,1711.5 1792.0,1714.9 1793.0,1713.1 1794.0,1712.3 1795.0,1713.6 1796.0,1712.6 1797.0,1708.9 1798.0,1710.7 1799.0,1707.8 1800.0,1708.9 1801.0,1710.4 1802.0,1705.0 1803.0,1701.4 1804.0,1701.1 1805.0,1697.1 1806.0,1691.3 1807.0,1691.5 1808.0,1687.2 1809.0,1691.2 1810.0,1693.4 1811.0,1693.9 1812.0,1693.8 1813.0,1697.6 1814.0,1702.3 1815.0,1707.6 1816.0,1707.4 1817.0,1712.5 1818.0,1714.1 1819.0,1714.9 1820.0,1715.7 1821.0,1716.4 1822.0,1723.4 1823.0,1718.9 1824.0,1718.2 1825.0,1724.9 1826.0,1727.3 1827.0,1725.7 1828.0,1720.0 1829.0,1721.8 1830.0,1722.2 1831.0,1721.4 1832.0,1724.4 1833.0,1721.8 1834.0,1727.7 1835.0,1724.0 1836.0,1721.8 1837.0,1721.6 1838.0,1725.1 1839.0,1726.8 1840.0,1724.4 1841.0,1721.1 1842.0,1725.2 1843.0,1722.4 1844.0,1722.5 1845.0,1725.5 1846.0,1723.6 1847.0,1718.6 1848.0,1723.6 1849.0,1719.5 1850.0,1723.2 1851.0,1721.5 1852.0,1721.0 1853.0,1717.7 1854.0,1717.0 1855.0,1724.5 1856.0,1716.0 1857.0,1716.5 1858.0,1719.0 1859.0,1722.2 1860.0,1719.1 1861.0,1723.4 1862.0,1721.3 1863.0,1722.2 1864.0,1723.0 1865.0,1724.2 1866.0,1724.5 1867.0,1719.3 1868.0,1723.4 1869.0,1722.0 1870.0,1726.2 1871.0,1724.1 1872.0,1723.1 1873.0,1720.0 1874.0,1725.7 1875.0,1720.1 1876.0,1724.5 1877.0,1722.1 1878.0,1726.7 1879.0,1729.8 1880.0,1725.5 1881.0,1727.5 1882.0,1726.9 1883.0,1722.5 1884.0,1727.2 1885.0,1727.0 1886.0,1728.1 1887.0,1723.9 1888.0,1723.1 1889.0,1726.0 1890.0,1723.8 1891.0,1724.4 1892.0,1722.2 1893.0,1725.2 1894.0,1724.3 1895.0,1723.0 1896.0,1723.4 1897.0,1720.5 1898.0,1723.7 1899.0,1725.6 1900.0,1723.6 1901.0,1725.5 1902.0,1726.9 1903.0,1724.2 1904.0,1727.3 1905.0,1725.5 1906.0,1723.4 1907.0,1720.2 1908.0,1724.0 1909.0,1720.4 1910.0,1727.9 1911.0,1720.7 1912.0,1721.3 1913.0,1720.7 1914.0,1726.1 1915.0,1726.2 1916.0,1725.1 1917.0,1726.3 1918.0,1722.1 1919.0,1726.7 1920.0,1720.5 1921.0,1722.5 1922.0,1726.7 1923.0,1725.0 1924.0,1727.1 1925.0,1726.7 1926.0,1720.7 1927.0,1722.5 1928.0,1726.7 1929.0,1724.8 1930.0,1725.3 1931.0,1720.4 1932.0,1727.5 1933.0,1724.8 1934.0,1721.7 1935.0,1725.3 1936.0,1728.3 1937.0,1725.0 1938.0,1724.0 1939.0,1715.9 1940.0,1704.9 1941.0,1701.0 1942.0,1692.3 1943.0,1680.8 1944.0,1673.2 1945.0,1676.1 1946.0,1683.3 1947.0,1689.1 1948.0,1688.2 1949.0,1692.6 1950.0,1702.5 1951.0,1703.5 1952.0,1701.2 1953.0,1708.2 1954.0,1706.3 1955.0,1706.2 1956.0,1709.3 1957.0,1710.4 1958.0,1714.7 1959.0,1712.4 1960.0,1714.3 1961.0,1715.1 1962.0,1715.1 1963.0,1715.5 1964.0,1716.0 1965.0,1716.1 1966.0,1715.6 1967.0,1720.5 1968.0,1715.7 1969.0,1721.3 1970.0,1722.5 1971.0,1723.7 1972.0,1723.0 1973.0,1726.2 1974.0,1722.8 1975.0,1723.4 1976.0,1722.8 1977.0,1721.4 1978.0,1725.2 1979.0,1726.1 1980.0,1725.5 1981.0,1721.6 1982.0,1722.6 1983.0,1723.9 1984.0,1725.3 1985.0,1724.5 1986.0,1726.0 1987.0,1725.6 1988.0,1724.0 1989.0,1729.6 1990.0,1727.1 1991.0,1729.9 1992.0,1727.0 1993.0,1727.5 1994.0,1725.4 1995.0,1729.0 1996.0,1726.9 1997.0,1729.7 1998.0,1727.0 1999.0,1728.9 2000.0,1729.2 2001.0,1727.0 2002.0,1725.0 2003.0,1725.7 2004.0,1727.5 2005.0,1727.3 2006.0,1725.3 2007.0,1726.0 2008.0,1725.9 2009.0,1727.3 2010.0,1723.8 2011.0,1726.2 2012.0,1728.3 2013.0,1730.4 2014.0,1728.4 2015.0,1731.5 2016.0,1730.5 2017.0,1730.6 2018.0,1726.4 2019.0,1728.5 2020.0,1725.8 2021.0,1729.7 2022.0,1726.6 2023.0,1729.9 2024.0,1724.8 2025.0,1723.7 2026.0,1725.6 2027.0,1723.9 2028.0,1726.3 2029.0,1725.3 2030.0,1722.0 2031.0,1724.0 2032.0,1723.3 2033.0,1724.0 2034.0,1729.5 2035.0,1726.5 2036.0,1727.4 2037.0,1724.7 2038.0,1724.0 2039.0,1724.9 2040.0,1727.6 2041.0,1726.4 2042.0,1723.6 2043.0,1726.6 2044.0,1726.7 2045.0,1728.1 2046.0,1723.0 2047.0,1728.5 2048.0,1725.1 2049.0,1723.9 2050.0,1723.3 2051.0,1726.4 2052.0,1721.9 2053.0,1721.9 2054.0,1726.4 2055.0,1723.7 2056.0,1721.2 2057.0,1722.4 2058.0,1726.3 2059.0,1723.9 2060.0,1722.3 2061.0,1722.8 2062.0,1727.2 2063.0,1723.7 2064.0,1725.6 2065.0,1725.9 2066.0,1725.2 2067.0,1724.9 2068.0,1722.5 2069.0,1726.6 2070.0,1724.6 2071.0,1722.9 2072.0,1723.9 2073.0,1725.8 2074.0,1725.8 2075.0,1729.3 2076.0,1726.9 2077.0,1727.1 2078.0,1723.7 2079.0,1723.9 2080.0,1726.0 2081.0,1727.3 2082.0,1731.2 2083.0,1724.9 2084.0,1730.5 2085.0,1729.6 2086.0,1727.1 2087.0,1732.1 2088.0,1729.3 2089.0,1732.2 2090.0,1728.8 2091.0,1730.8 2092.0,1732.9 2093.0,1733.5 2094.0,1730.1 2095.0,1728.6 2096.0,1731.9 2097.0,1731.8 2098.0,1728.2 2099.0,1731.8 2100.0,1734.8 2101.0,1730.4 2102.0,1732.3 2103.0,1733.8 2104.0,1730.7 2105.0,1734.0 2106.0,1733.9 2107.0,1728.2 2108.0,1730.4 2109.0,1729.7 2110.0,1734.0 2111.0,1732.0 2112.0,1729.4 2113.0,1730.9 2114.0,1730.8 2115.0,1735.2 2116.0,1734.6 2117.0,1733.7 2118.0,1728.2 2119.0,1729.3 2120.0,1730.0 2121.0,1729.1 2122.0,1733.2 2123.0,1730.4 2124.0,1733.0 2125.0,1732.0 2126.0,1731.3 2127.0,1729.4 2128.0,1734.7 2129.0,1732.3 2130.0,1729.3 2131.0,1731.5 2132.0,1728.0 2133.0,1729.8 2134.0,1733.6 2135.0,1730.5 2136.0,1730.5 2137.0,1731.1 2138.0,1732.4 2139.0,1731.9 2140.0,1731.3 2141.0,1734.5 2142.0,1731.2 2143.0,1733.8 2144.0,1731.7 2145.0,1731.0 2146.0,1729.8 2147.0,1729.2 2148.0,1732.0 2149.0,1729.9 2150.0,1728.5 2151.0,1730.6 2152.0,1732.3 2153.0,1732.6 2154.0,1729.1 2155.0,1730.8 2156.0,1733.4 2157.0,1731.7 2158.0,1731.9 2159.0,1733.9 2160.0,1729.8 2161.0,1729.8 2162.0,1733.0 2163.0,1733.9 2164.0,1728.8 2165.0,1728.1 2166.0,1732.4 2167.0,1730.5 2168.0,1728.3 2169.0,1727.4 2170.0,1730.4 2171.0,1728.3 2172.0,1733.5 2173.0,1733.8 2174.0,1732.9 2175.0,1734.8 2176.0,1730.6 2177.0,1729.1 2178.0,1732.3 2179.0,1729.1 2180.0,1731.9 2181.0,1727.7 2182.0,1729.9 2183.0,1731.7 2184.0,1733.0 2185.0,1727.5 2186.0,1729.8 2187.0,1732.7 2188.0,1727.6 2189.0,1730.7 2190.0,1732.5 2191.0,1730.9 2192.0,1732.9 2193.0,1730.3 2194.0,1729.8 2195.0,1727.7 2196.0,1730.6 2197.0,1734.0 2198.0,1733.3 2199.0,1727.6 2200.0,1728.6 2201.0,1729.0 2202.0,1734.0 2203.0,1731.5 2204.0,1731.3 2205.0,1734.3 2206.0,1732.4 2207.0,1733.4 2208.0,1735.4 2209.0,1736.7 2210.0,1732.0 2211.0,1732.2 2212.0,1731.4 2213.0,1736.3 2214.0,1733.5 2215.0,1735.0 2216.0,1730.9 2217.0,1735.7 2218.0,1731.3 2219.0,1732.6 2220.0,1730.0 2221.0,1730.6 2222.0,1731.3 2223.0,1727.7 2224.0,1733.3 2225.0,1732.5 2226.0,1732.0 2227.0,1732.4 2228.0,1728.9 2229.0,1727.1 2230.0,1728.6 2231.0,1727.3 2232.0,1728.5 2233.0,1731.1 2234.0,1727.4 2235.0,1726.5 2236.0,1730.8 2237.0,1731.4 2238.0,1728.1 2239.0,1726.4 2240.0,1729.8 2241.0,1724.0 2242.0,1725.1 2243.0,1727.2 2244.0,1726.3 2245.0,1726.5 2246.0,1725.3 2247.0,1725.9 2248.0,1723.7 2249.0,1727.3 2250.0,1726.1 2251.0,1726.1 2252.0,1725.2 2253.0,1725.1 2254.0,1721.6 2255.0,1724.5 2256.0,1721.5 2257.0,1726.5"/>
<path stroke="#00ff00" d="M199.0,1091.7 200.0,1087.4 201.0,1091.5 202.0,1082.7 203.0,1087.5 204.0,1084.7 205.0,1089.3 206.0,1083.4 207.0,1090.3 208.0,1086.6 209.0,1090.6 210.0,1086.2 211.0,1085.4 212.0,1089.2 213.0,1091.2 214.0,1084.7 215.0,1090.4 216.0,1090.5 217.0,1083.0 218.0,1087.4 219.0,1089.2 220.0,1091.2 221.0,1088.5 222.0,1083.4 223.0,1086.8 224.0,1086.1 225.0,1087.0 226.0,1092.0 227.0,1087.2 228.0,1086.1 229.0,1089.8 230.0,1091.4 231.0,1094.7 232.0,1091.4 233.0,1089.4 234.0,1096.1 235.0,1092.2 236.0,1094.6 237.0,1092.7 238.0,1090.9 239.0,1096.3 240.0,1097.5 241.0,1091.7 242.0,1094.7 243.0,1093.0 244.0,1091.7 245.0,1092.0 246.0,1099.5 247.0,1099.0 248.0,1094.7 249.0,1097.8 250.0,1091.4 251.0,1099.4 252.0,1095.0 253.0,1097.2 254.0,1092.2 255.0,1093.3 256.0,1093.0 257.0,1099.3 258.0,1094.6 259.0,1094.6 260.0,1098.3 261.0,1097.5 262.0,1092.7 263.0,1091.0 264.0,1096.2 265.0,1089.5 266.0,1093.1 267.0,1098.3 268.0,1100.0 269.0,1094.9 270.0,1094.4 271.0,1101.3 272.0,1099.9 273.0,1096.9 274.0,1099.4 275.0,1096.3 276.0,1103.1 277.0,1101.8 278.0,1103.4 279.0,1098.0 280.0,1102.3 281.0,1100.2 282.0,1102.4 283.0,1101.5 284.0,1104.5 285.0,1105.3 286.0,1106.4 287.0,1101.5 288.0,1103.7 289.0,1102.4 290.0,1104.9 291.0,1105.0 292.0,1101.8 293.0,1107.4 294.0,1105.6 295.0,1106.7 296.0,1108.4 297.0,1111.2 298.0,1107.5 299.0,1104.0 300.0,1104.0 301.0,1109.3 302.0,1106.3 303.0,1111.4 304.0,1108.8 305.0,1108.1 306.0,1112.3 307.0,1106.9 308.0,1107.9 309.0,1108.8 310.0,1110.8 311.0,1116.2 312.0,1115.8 313.0,1116.3 314.0,1114.5 315.0,1109.2 316.0,1112.0 317.0,1115.2 318.0,1120.4 319.0,1115.0 320.0,1116.9 321.0,1120.4 322.0,1115.5 323.0,1119.6 324.0,1119.1 325.0,1118.9 326.0,1119.0 327.0,1117.8 328.0,1113.5 329.0,1120.9 330.0,1121.3 331.0,1120.1 332.0,1115.0 333.0,1117.2 334.0,1118.1 335.0,1111.6 336.0,1118.9 337.0,1111.7 338.0,1120.4 339.0,1113.5 340.0,1119.7 341.0,1111.7 342.0,1113.7 343.0,1114.8 344.0,1115.3 345.0,1111.4 346.0,1111.7 347.0,1105.5 348.0,1107.6 349.0,1103.6 350.0,1108.4 351.0,1105.7 352.0,1102.6 353.0,1106.5 354.0,1099.1 355.0,1107.3 356.0,1105.2 357.0,1101.5 358.0,1104.4 359.0,1106.7 360.0,1105.6 361.0,1108.8 362.0,1104.5 363.0,1104.0 364.0,1104.1 365.0,1103.6 366.0,1105.2 367.0,1108.0 368.0,1109.6 369.0,1107.9 370.0,1109.1 371.0,1110.5 372.0,1107.9 373.0,1103.7 374.0,1109.7 375.0,1105.3 376.0,1113.4 377.0,1118.2 378.0,1113.9 379.0,1119.2 380.0,1111.8 381.0,1122.0 382.0,1115.1 383.0,1123.8 384.0,1119.2 385.0,1119.9 386.0,1117.5 387.0,1116.3 388.0,1122.6 389.0,1122.0 390.0,1115.7 391.0,1119.7 392.0,1116.7 393.0,1122.4 394.0,1114.8 395.0,1119.6 396.0,1122.7 397.0,1119.0 398.0,1119.9 399.0,1121.4 400.0,1119.6 401.0,1120.6 402.0,1114.6 403.0,1121.0 404.0,1116.6 405.0,1121.0 406.0,1118.7 407.0,1119.2 408.0,1121.5 409.0,1113.5 410.0,1120.0 411.0,1115.1 412.0,1120.6 413.0,1115.1 414.0,1117.8 415.0,1115.4 416.0,1121.4 417.0,1116.3 418.0,1118.3 419.0,1121.2 420.0,1117.4 421.0,1122.8 422.0,1119.0 423.0,1123.1 424.0,1121.7 425.0,1123.7 426.0,1121.3 427.0,1117.9 428.0,1121.2 429.0,1125.9 430.0,1126.1 431.0,1119.7 432.0,1120.3 433.0,1119.9 434.0,1123.9 435.0,1120.4 436.0,1126.0 437.0,1122.9 438.0,1128.1 439.0,1122.7 440.0,1129.2 441.0,1123.3 442.0,1120.2 443.0,1122.1 444.0,1128.4 445.0,1122.7 446.0,1124.0 447.0,1131.8 448.0,1125.9 449.0,1128.5 450.0,1128.1 451.0,1127.7 452.0,1131.7 453.0,1124.2 454.0,1128.0 455.0,1128.5 456.0,1131.2 457.0,1132.6 458.0,1125.1 459.0,1125.6 460.0,1126.4 461.0,1127.5 462.0,1130.9 463.0,1130.7 464.0,1132.4 465.0,1127.9 466.0,1127.2 467.0,1125.1 468.0,1132.5 469.0,1132.6 470.0,1132.8 471.0,1131.1 472.0,1131.8 473.0,1128.9 474.0,1131.7 475.0,1127.1 476.0,1130.6 477.0,1130.9 478.0,1128.7 479.0,1131.0 480.0,1128.8 481.0,1124.8 482.0,1123.2 483.0,1125.8 484.0,1124.1 485.0,1131.5 486.0,1127.9 487.0,1128.7 488.0,1130.7 489.0,1129.2 490.0,1129.2 491.0,1126.3 492.0,1128.4 493.0,1129.3 494.0,1123.9 495.0,1126.5 496.0,1128.2 497.0,1120.5 498.0,1118.5 499.0,1122.1 500.0,1125.1 501.0,1121.0 502.0,1117.3 503.0,1124.6 504.0,1119.3 505.0,1118.7 506.0,1115.3 507.0,1116.3 508.0,1117.3 509.0,1107.6 510.0,1107.2 511.0,1104.0 512.0,1089.7 513.0,1093.4 514.0,1092.1 515.0,1099.7 516.0,1106.7 517.0,1107.0 518.0,1114.9 519.0,1110.8 520.0,1113.2 521.0,1114.7 522.0,1111.9 523.0,1109.6 524.0,1113.1 525.0,1106.9 526.0,1108.5 527.0,1112.8 528.0,1110.8 529.0,1107.2 530.0,1113.6 531.0,1116.9 532.0,1110.9 533.0,1118.9 534.0,1111.2 535.0,1120.9 536.0,1118.1 537.0,1115.2 538.0,1114.4 539.0,1117.1 540.0,1117.2 541.0,1118.2 542.0,1118.6 543.0,1115.2 544.0,1117.3 545.0,1117.4 546.0,1124.1 547.0,1118.3 548.0,1123.9 549.0,1119.3 550.0,1125.1 551.0,1123.4 552.0,1124.9 553.0,1127.9 554.0,1122.9 555.0,1126.9 556.0,1129.2 557.0,1126.6 558.0,1124.8 559.0,1125.3 560.0,1126.6 561.0,1117.8 562.0,1127.1 563.0,1122.2 564.0,1126.0 565.0,1116.9 566.0,1119.2 567.0,1121.5 568.0,1121.3 569.0,1125.3 570.0,1120.5 571.0,1118.7 572.0,1122.7 573.0,1117.6 574.0,1124.1 575.0,1117.2 576.0,1115.6 577.0,1120.4 578.0,1116.0 579.0,1122.7 580.0,1113.6 581.0,1116.7 582.0,1117.3 583.0,1115.2 584.0,1109.1 585.0,1112.8 586.0,1107.4 587.0,1104.6 588.0,1111.4 589.0,1103.1 590.0,1098.8 591.0,1096.9 592.0,1103.0 593.0,1101.0 594.0,1097.7 594.5,1096.6 594.8,1090.4 595.0,1092.8 595.2,1092.8 595.5,1087.1 595.8,1090.4 596.0,1090.3 596.2,1085.8 596.5,1085.3 596.8,1077.6 597.0,1078.9 597.2,1076.6 597.5,1075.6 597.8,1079.0 598.0,1077.2 598.2,1066.9 598.5,1069.3 598.8,1063.3 599.0,1065.1 599.2,1065.1 599.5,1053.6 599.8,1052.2 600.0,1047.1 600.2,1046.1 600.5,1041.8 600.8,1029.2 601.0,1024.3 601.2,1018.6 601.5,1016.5 601.8,1005.3 602.0,993.0 602.2,984.0 602.5,963.8 602.8,950.4 603.0,924.8 603.2,900.8 603.5,878.6 603.8,844.3 604.0,802.7 604.2,750.9 604.5,698.4 604.8,641.0 605.0,565.2 605.2,483.4 605.5,404.2 605.8,327.4 606.0,260.1 606.2,205.9 606.5,180.6 606.8,193.0 607.0,222.5 607.2,275.6 607.5,340.7 607.8,401.5 608.0,461.9 608.2,506.7 608.5,548.0 608.8,575.7 609.0,601.1 609.2,620.4 609.5,627.4 609.8,650.0 610.0,669.6 610.2,687.7 610.5,712.4 610.8,747.7 611.0,782.6 611.2,809.8 611.5,840.6 611.8,870.4 612.0,901.5 612.2,922.0 612.5,944.4 612.8,961.9 613.0,978.8 613.2,990.5 613.5,1002.7 613.8,1009.3 614.0,1026.0 614.2,1026.1 614.5,1039.4 614.8,1043.8 615.0,1048.8 615.2,1052.0 615.5,1055.5 615.8,1056.8 616.0,1057.2 616.2,1065.3 616.5,1067.1 616.8,1067.3 617.0,1074.7 617.2,1076.7 617.5,1073.5 617.8,1076.3 618.0,1075.0 618.2,1081.5 618.5,1077.9 618.8,1080.8 619.0,1088.4 619.2,1081.9 619.5,1090.0 619.8,1087.8 620.0,1085.1 620.2,1092.0 620.5,1091.1 620.8,1093.5 621.0,1090.3 621.2,1090.2 621.5,1088.1 621.8,1088.7 622.0,1093.6 623.0,1093.9 624.0,1092.0 625.0,1094.7 626.0,1099.0 627.0,1095.4 628.0,1095.9 629.0,1101.8 630.0,1096.4 631.0,1100.2 632.0,1106.2 633.0,1099.6 634.0,1104.4 635.0,1103.9 636.0,1110.0 637.0,1107.8 638.0,1104.4 639.0,1111.1 640.0,1112.5 641.0,1112.1 642.0,1107.3 643.0,1113.9 644.0,1112.0 645.0,1109.4 646.0,1106.4 647.0,1109.9 648.0,1105.4 649.0,1104.7 650.0,1109.5 650.5,1110.4 650.8,1107.8 651.0,1105.9 651.2,1109.4 651.5,1109.0 651.8,1100.4 652.0,1107.7 652.2,1108.1 652.5,1105.7 652.8,1103.6 653.0,1106.4 653.2,1098.9 653.5,1106.7 653.8,1103.1 654.0,1103.1 654.2,1103.7 654.5,1101.0 654.8,1099.1 655.0,1098.2 655.2,1096.8 655.5,1095.3 655.8,1103.4 656.0,1104.0 656.2,1100.8 656.5,1097.0 656.8,1096.4 657.0,1100.0 657.2,1096.4 657.5,1094.6 657.8,1096.4 658.0,1089.9 658.2,1086.3 658.5,1087.7 658.8,1091.0 659.0,1090.9 659.2,1082.1 659.5,1084.3 659.8,1073.9 660.0,1074.3 660.2,1064.0 660.5,1058.7 660.8,1058.4 661.0,1044.5 661.2,1040.9 661.5,1031.3 661.8,1030.0 662.0,1020.8 662.2,1011.5 662.5,1016.2 662.8,1014.3 663.0,1014.7 663.2,1022.6 663.5,1035.4 663.8,1045.2 664.0,1043.6 664.2,1055.3 664.5,1058.2 664.8,1068.1 665.0,1066.0 665.2,1077.4 665.5,1078.7 665.8,1082.3 666.0,1083.8 666.2,1087.2 666.5,1090.7 666.8,1084.9 667.0,1088.2 667.2,1087.8 667.5,1091.2 667.8,1093.4 668.0,1091.6 668.2,1096.1 668.5,1089.0 668.8,1090.5 669.0,1090.5 669.2,1090.8 669.5,1095.6 669.8,1096.9 670.0,1094.8 670.2,1097.6 670.5,1094.3 670.8,1097.0 671.0,1091.6 671.2,1094.4 671.5,1092.1 671.8,1098.5 672.0,1097.9 672.2,1099.5 672.5,1099.7 672.8,1097.0 673.0,1094.3 673.2,1096.3 673.5,1099.9 673.8,1100.6 674.0,1101.1 674.2,1095.0 675.0,1094.9 676.0,1098.6 677.0,1090.6 678.0,1092.4 679.0,1089.9 680.0,1091.7 681.0,1082.6 682.0,1086.9 683.0,1080.6 684.0,1081.3 685.0,1074.1 686.0,1083.8 687.0,1091.6 688.0,1098.5 689.0,1106.7 690.0,1105.9 691.0,1105.5 692.0,1107.7 693.0,1102.6 694.0,1107.9 695.0,1103.7 696.0,1107.8 697.0,1108.6 698.0,1106.2 699.0,1106.8 700.0,1110.6 701.0,1109.4 702.0,1107.4 703.0,1109.4 704.0,1106.5 705.0,1107.6 706.0,1106.6 707.0,1109.6 708.0,1101.6 709.0,1108.3 710.0,1099.9 711.0,1102.5 712.0,1108.5 713.0,1101.4 714.0,1102.0 715.0,1099.6 716.0,1106.2 717.0,1098.3 718.0,1100.1 719.0,1099.3 720.0,1098.8 721.0,1101.7 722.0,1100.5 723.0,1106.7 724.0,1098.7 725.0,1096.4 726.0,1084.4 727.0,1087.8 728.0,1080.4 729.0,1072.7 730.0,1069.2 731.0,1059.2 732.0,1060.8 733.0,1067.1 734.0,1066.2 735.0,1072.2 736.0,1071.9 737.0,1075.9 738.0,1076.5 739.0,1070.0 740.0,1077.2 741.0,1075.7 742.0,1071.2 743.0,1070.1 744.0,1071.3 745.0,1075.1 746.0,1069.8 747.0,1069.8 748.0,1068.1 749.0,1067.6 750.0,1063.7 750.4,1059.2 750.6,1066.7 750.9,1062.2 751.0,1057.0 751.1,1057.9 751.4,1064.6 751.6,1064.6 751.9,1059.6 752.0,1057.9 752.1,1058.1 752.4,1055.7 752.6,1056.3 752.9,1056.6 753.0,1051.4 753.1,1058.4 753.4,1050.6 753.6,1047.6 753.9,1051.0 754.0,1048.1 754.1,1051.5 754.4,1044.9 754.6,1046.6 754.9,1039.3 755.0,1045.0 755.1,1037.3 755.4,1040.9 755.6,1031.1 755.9,1032.7 756.0,1029.7 756.1,1033.2 756.4,1023.1 756.6,1020.9 756.9,1018.1 757.0,1008.0 757.1,1008.0 757.4,1005.3 757.6,991.3 757.9,981.2 758.0,981.9 758.1,977.4 758.4,963.4 758.6,941.9 758.9,913.9 759.0,899.5 759.1,881.2 759.4,830.2 759.6,765.3 759.9,673.0 760.0,626.3 760.1,541.6 760.4,385.7 760.6,181.2 760.9,-50.0 761.0,-50.0 761.1,-50.0 761.2,-50.0 761.4,-50.0 761.5,-50.0 761.6,-50.0 761.7,-50.0 761.9,-50.0 762.0,-50.0 762.0,-50.0 762.1,-50.0 762.2,-50.0 762.4,-50.0 762.5,-50.0 762.6,-50.0 762.7,-50.0 762.9,-50.0 763.0,-50.0 763.0,-50.0 763.1,-50.0 763.2,-50.0 763.4,-50.0 763.5,-50.0 763.6,-50.0 763.7,-50.0 763.9,-50.0 764.0,-25.9 764.0,27.6 764.1,169.0 764.2,212.8 764.4,367.3 764.5,400.3 764.6,535.3 764.7,562.9 764.9,653.4 765.0,679.2 765.0,692.1 765.1,745.4 765.2,767.5 765.4,810.3 765.5,825.2 765.6,862.2 765.7,870.3 765.9,896.0 766.0,892.7 766.0,904.0 766.1,916.0 766.2,918.0 766.4,927.8 766.5,936.6 766.6,940.3 766.7,944.9 766.9,947.2 767.0,950.0 767.0,955.8 767.1,951.4 767.2,957.9 767.4,952.5 767.5,961.1 767.6,959.0 767.7,956.3 767.9,961.0 768.0,960.6 768.0,962.4 768.1,959.3 768.2,959.7 768.4,953.5 768.5,957.2 768.6,953.0 768.7,948.5 768.9,940.1 769.0,945.0 769.0,937.8 769.1,934.6 769.2,925.4 769.4,915.7 769.5,911.9 769.6,900.2 769.7,891.4 769.9,870.2 770.0,859.0 770.0,850.4 770.1,823.1 770.2,811.8 770.4,765.0 770.5,748.2 770.6,680.7 770.7,654.5 770.9,556.1 771.0,534.9 771.0,507.2 771.1,406.9 771.2,367.0 771.4,212.4 771.5,166.2 771.6,-22.7 771.7,-50.0 771.9,-50.0 772.0,-50.0 772.0,-50.0 772.1,-50.0 772.2,-50.0 772.4,-50.0 772.5,-50.0 772.6,-50.0 772.7,-50.0 772.9,-50.0 773.0,-50.0 773.0,-50.0 773.1,-50.0 773.2,-50.0 773.4,-50.0 773.5,-50.0 773.6,-50.0 773.7,-50.0 773.9,-50.0 774.0,-50.0 774.0,-50.0 774.1,-50.0 774.2,-50.0 774.5,-50.0 774.7,-50.0 775.0,174.4 775.0,225.1 775.2,386.2 775.5,549.1 775.7,670.6 776.0,766.0 776.0,783.7 776.2,831.9 776.5,881.7 776.7,920.3 777.0,943.7 777.0,947.1 777.2,959.5 777.5,979.4 777.7,985.7 778.0,995.6 778.0,998.6 778.2,1001.3 778.5,1015.0 778.7,1015.5 779.0,1024.9 779.0,1024.4 779.2,1023.4 779.5,1026.0 779.7,1033.6 780.0,1039.8 780.0,1034.4 780.2,1043.7 780.5,1040.4 780.7,1044.5 781.0,1044.3 781.0,1045.3 781.2,1051.1 781.5,1053.9 781.7,1049.0 782.0,1058.0 782.0,1055.1 782.2,1057.1 782.5,1058.7 782.7,1055.9 783.0,1064.9 783.0,1064.5 783.2,1058.0 783.5,1060.2 783.7,1060.7 784.0,1063.9 784.0,1064.4 784.2,1069.7 784.5,1068.7 784.7,1072.0 785.0,1072.5 785.0,1066.6 786.0,1075.0 787.0,1075.2 788.0,1072.2 789.0,1077.4 790.0,1079.6 791.0,1074.2 792.0,1082.0 793.0,1083.5 794.0,1084.0 795.0,1075.3 796.0,1079.5 797.0,1077.7 798.0,1077.5 799.0,1083.0 800.0,1081.4 801.0,1084.2 802.0,1085.9 803.0,1083.1 804.0,1086.8 805.0,1087.3 806.0,1088.1 807.0,1078.6 808.0,1081.4 809.0,1087.1 810.0,1085.7 811.0,1079.2 812.0,1084.7 813.0,1084.6 814.0,1082.0 815.0,1074.3 815.2,1079.2 815.5,1070.9 815.8,1075.6 816.0,1074.9 816.2,1075.9 816.5,1070.9 816.8,1072.0 817.0,1070.3 817.2,1066.2 817.5,1067.7 817.8,1070.0 818.0,1068.9 818.2,1062.6 818.5,1059.7 818.8,1066.6 819.0,1062.7 819.2,1054.8 819.5,1057.0 819.8,1051.1 820.0,1051.7 820.2,1048.2 820.5,1039.3 820.8,1038.4 821.0,1025.2 821.2,1020.5 821.5,1014.5 821.8,1005.5 822.0,995.2 822.2,987.5 822.5,967.7 822.8,952.0 823.0,942.5 823.2,921.4 823.5,901.5 823.8,878.1 824.0,856.4 824.2,834.5 824.5,803.3 824.8,780.2 825.0,752.3 825.2,729.6 825.5,702.6 825.8,679.8 826.0,659.5 826.2,642.1 826.5,631.4 826.8,619.2 827.0,618.0 827.2,617.8 827.5,629.6 827.8,640.7 828.0,661.8 828.2,679.7 828.5,710.6 828.8,733.1 829.0,753.7 829.2,787.3 829.5,811.4 829.8,829.0 830.0,858.2 830.2,882.8 830.5,896.3 830.8,917.9 831.0,937.3 831.2,958.9 831.5,974.2 831.8,982.4 832.0,994.2 832.2,1004.8 832.5,1016.9 832.8,1023.9 833.0,1032.6 833.2,1043.0 833.5,1043.7 833.8,1047.3 834.0,1051.5 834.2,1057.0 834.5,1063.5 834.8,1062.0 835.0,1067.4 835.2,1069.1 835.5,1070.3 835.8,1071.4 836.0,1073.4 836.2,1073.7 836.5,1070.5 836.8,1077.1 837.0,1072.6 837.2,1079.3 837.5,1075.4 837.8,1081.8 838.0,1081.4 838.2,1080.4 838.5,1084.3 838.8,1087.4 839.0,1082.9 840.0,1085.1 841.0,1087.0 842.0,1083.4 843.0,1086.5 844.0,1093.2 845.0,1087.0 846.0,1089.8 847.0,1098.0 848.0,1099.4 849.0,1094.6 850.0,1093.4 851.0,1100.1 852.0,1102.4 853.0,1098.4 854.0,1102.4 855.0,1097.7 856.0,1103.7 857.0,1095.4 858.0,1104.1 859.0,1099.2 860.0,1099.7 861.0,1100.3 862.0,1098.9 863.0,1098.3 864.0,1096.7 865.0,1099.8 866.0,1103.2 867.0,1101.2 868.0,1095.0 869.0,1098.5 870.0,1098.7 871.0,1090.1 871.5,1092.1 871.8,1091.3 872.0,1092.2 872.2,1087.0 872.5,1090.2 872.8,1089.1 873.0,1091.3 873.2,1089.1 873.5,1089.8 873.8,1085.1 874.0,1085.7 874.2,1080.2 874.5,1084.2 874.8,1084.4 875.0,1080.7 875.2,1079.7 875.5,1075.8 875.8,1078.9 876.0,1074.8 876.2,1075.1 876.5,1064.3 876.8,1066.9 877.0,1059.9 877.2,1055.0 877.5,1052.2 877.8,1050.3 878.0,1039.9 878.2,1034.2 878.5,1034.4 878.8,1025.0 879.0,1017.1 879.2,1002.4 879.5,988.0 879.8,972.9 880.0,951.2 880.2,911.7 880.5,866.3 880.8,795.5 881.0,700.5 881.2,577.7 881.5,410.0 881.8,207.1 882.0,-40.2 882.2,-50.0 882.5,-50.0 882.8,-50.0 883.0,-50.0 883.2,-50.0 883.5,-50.0 883.8,-50.0 884.0,-50.0 884.2,-50.0 884.5,-50.0 884.8,-50.0 885.0,-43.2 885.2,205.8 885.5,409.7 885.8,577.7 886.0,698.1 886.2,795.3 886.5,869.3 886.8,911.4 887.0,951.6 887.2,976.2 887.5,989.1 887.8,1002.0 888.0,1019.0 888.2,1022.5 888.5,1030.0 888.8,1044.3 889.0,1044.9 889.2,1052.2 889.5,1053.1 889.8,1057.9 890.0,1067.8 890.2,1065.7 890.5,1068.9 890.8,1070.2 891.0,1069.3 891.2,1078.4 891.5,1082.8 891.8,1076.8 892.0,1081.7 892.2,1082.8 892.5,1084.7 892.8,1085.0 893.0,1087.5 893.2,1087.6 893.5,1088.7 893.8,1087.1 894.0,1093.5 894.2,1095.5 894.5,1092.7 894.8,1091.1 895.0,1089.8 895.2,1096.6 896.0,1099.4 897.0,1093.6 898.0,1098.5 899.0,1097.5 900.0,1100.2 901.0,1099.0 902.0,1098.3 903.0,1104.1 904.0,1099.5 905.0,1100.9 906.0,1103.9 907.0,1105.4 908.0,1107.0 909.0,1104.4 910.0,1103.1 911.0,1106.0 912.0,1105.9 913.0,1104.5 914.0,1103.4 915.0,1098.5 916.0,1097.5 917.0,1096.3 918.0,1094.3 919.0,1094.6 920.0,1091.5 921.0,1096.8 922.0,1099.1 923.0,1102.4 924.0,1100.8 925.0,1098.0 926.0,1102.8 927.0,1104.2 928.0,1102.9 929.0,1110.8 930.0,1106.1 931.0,1108.5 932.0,1115.8 933.0,1115.4 934.0,1117.4 935.0,1114.2 936.0,1118.7 937.0,1113.3 938.0,1113.8 939.0,1114.0 940.0,1115.8 941.0,1108.9 942.0,1116.9 943.0,1107.9 944.0,1114.0 945.0,1108.6 946.0,1106.6 947.0,1113.7 948.0,1108.1 949.0,1111.0 950.0,1105.4 951.0,1103.1 952.0,1102.8 953.0,1105.7 954.0,1110.1 955.0,1104.9 956.0,1105.8 957.0,1102.0 958.0,1106.8 959.0,1105.8 960.0,1106.3 961.0,1108.5 962.0,1110.2 963.0,1104.9 964.0,1106.9 965.0,1109.3 966.0,1112.8 967.0,1110.6 968.0,1106.3 969.0,1114.0 970.0,1105.8 971.0,1110.2 972.0,1111.4 973.0,1103.5 974.0,1110.1 975.0,1111.5 976.0,1108.6 977.0,1108.0 978.0,1104.0 979.0,1111.5 980.0,1102.7 981.0,1111.8 982.0,1109.9 983.0,1110.7 984.0,1102.5 985.0,1110.5 986.0,1109.5 987.0,1109.2 988.0,1104.4 989.0,1104.0 990.0,1103.2 991.0,1111.0 992.0,1112.3 993.0,1106.1 994.0,1107.9 995.0,1110.4 996.0,1110.8 997.0,1114.2 998.0,1117.5 999.0,1119.0 1000.0,1113.9 1001.0,1116.6 1002.0,1113.8 1003.0,1118.4 1004.0,1116.8 1005.0,1117.4 1006.0,1120.2 1007.0,1117.8 1008.0,1116.4 1009.0,1116.0 1010.0,1120.0 1011.0,1114.7 1012.0,1115.5 1013.0,1120.4 1014.0,1116.1 1015.0,1114.1 1016.0,1121.7 1017.0,1121.0 1018.0,1116.3 1019.0,1114.3 1020.0,1118.8 1021.0,1119.2 1022.0,1114.9 1023.0,1118.1 1024.0,1118.2 1025.0,1109.1 1026.0,1117.8 1027.0,1110.0 1028.0,1115.1 1029.0,1120.9 1030.0,1122.9 1031.0,1116.8 1032.0,1119.3 1033.0,1123.3 1034.0,1127.5 1035.0,1126.3 1036.0,1122.4 1037.0,1127.6 1038.0,1121.6 1039.0,1121.4 1040.0,1125.8 1041.0,1119.3 1042.0,1116.3 1043.0,1118.4 1044.0,1122.1 1045.0,1120.4 1046.0,1114.5 1047.0,1115.2 1048.0,1121.4 1049.0,1119.9 1050.0,1115.9 1051.0,1110.6 1052.0,1111.2 1053.0,1102.3 1054.0,1103.2 1055.0,1102.8 1056.0,1100.7 1057.0,1092.8 1058.0,1087.6 1059.0,1088.7 1060.0,1086.9 1061.0,1087.1 1062.0,1085.7 1063.0,1089.1 1064.0,1093.5 1065.0,1093.1 1066.0,1098.3 1067.0,1097.2 1068.0,1104.7 1069.0,1105.8 1070.0,1112.8 1071.0,1114.5 1072.0,1108.6 1073.0,1113.9 1074.0,1113.8 1075.0,1116.6 1076.0,1116.7 1077.0,1114.9 1078.0,1117.2 1079.0,1117.7 1080.0,1124.4 1081.0,1123.4 1082.0,1122.8 1083.0,1119.6 1084.0,1127.0 1085.0,1118.3 1086.0,1126.8 1087.0,1126.1 1088.0,1119.5 1089.0,1118.9 1090.0,1124.5 1091.0,1125.0 1092.0,1123.7 1093.0,1125.1 1094.0,1125.7 1095.0,1118.2 1096.0,1123.5 1097.0,1117.5 1098.0,1123.4 1099.0,1120.3 1100.0,1115.7 1101.0,1110.6 1102.0,1111.6 1103.0,1102.6 1104.0,1106.2 1105.0,1100.7 1106.0,1105.1 1107.0,1107.4 1108.0,1112.7 1109.0,1109.4 1110.0,1111.4 1111.0,1113.4 1112.0,1116.8 1113.0,1113.3 1114.0,1120.9 1115.0,1118.5 1116.0,1121.7 1117.0,1123.2 1118.0,1124.3 1119.0,1117.3 1120.0,1122.1 1121.0,1119.8 1122.0,1115.2 1123.0,1116.2 1124.0,1116.2 1125.0,1117.5 1126.0,1118.6 1127.0,1120.3 1128.0,1120.1 1129.0,1117.9 1130.0,1123.7 1131.0,1122.4 1132.0,1123.8 1133.0,1120.5 1134.0,1118.8 1135.0,1119.8 1136.0,1113.5 1137.0,1116.1 1138.0,1111.7 1139.0,1117.8 1140.0,1114.3 1141.0,1106.0 1142.0,1106.5 1143.0,1105.4 1144.0,1105.7 1145.0,1106.3 1146.0,1106.8 1147.0,1112.9 1148.0,1109.2 1149.0,1107.5 1150.0,1116.0 1151.0,1117.8 1152.0,1111.4 1153.0,1116.4 1154.0,1120.1 1155.0,1117.3 1156.0,1124.0 1157.0,1117.5 1158.0,1121.8 1158.5,1124.7 1158.8,1124.4 1159.0,1117.6 1159.2,1119.3 1159.5,1117.5 1159.8,1119.9 1160.0,1125.5 1160.2,1115.9 1160.5,1118.9 1160.8,1120.1 1161.0,1120.7 1161.2,1119.4 1161.5,1122.9 1161.8,1117.8 1162.0,1123.1 1162.2,1120.3 1162.5,1121.6 1162.8,1122.6 1163.0,1119.0 1163.2,1118.1 1163.5,1122.7 1163.8,1119.5 1164.0,1119.2 1164.2,1119.8 1164.5,1114.9 1164.8,1119.6 1165.0,1111.1 1165.2,1118.9 1165.5,1115.5 1165.8,1110.6 1166.0,1114.5 1166.2,1113.4 1166.5,1108.1 1166.8,1107.5 1167.0,1099.0 1167.2,1100.7 1167.5,1101.0 1167.8,1087.3 1168.0,1085.1 1168.2,1081.2 1168.5,1067.2 1168.8,1055.1 1169.0,1047.2 1169.2,1038.6 1169.5,1023.8 1169.8,1012.2 1170.0,991.9 1170.2,984.6 1170.5,987.3 1170.8,989.3 1171.0,989.7 1171.2,993.1 1171.5,1008.0 1171.8,1020.2 1172.0,1022.0 1172.2,1033.0 1172.5,1027.9 1172.8,1037.2 1173.0,1030.7 1173.2,1038.2 1173.5,1034.2 1173.8,1038.6 1174.0,1035.6 1174.2,1047.0 1174.5,1049.5 1174.8,1060.4 1175.0,1068.8 1175.2,1078.2 1175.5,1080.9 1175.8,1083.1 1176.0,1093.1 1176.2,1091.3 1176.5,1095.5 1176.8,1102.3 1177.0,1104.2 1177.2,1102.1 1177.5,1103.6 1177.8,1110.8 1178.0,1110.0 1178.2,1107.8 1178.5,1113.9 1178.8,1107.1 1179.0,1113.6 1179.2,1107.7 1179.5,1115.8 1179.8,1112.3 1180.0,1110.8 1180.2,1109.7 1180.5,1108.7 1180.8,1111.4 1181.0,1114.2 1181.2,1114.0 1181.5,1112.3 1181.8,1110.6 1182.0,1117.2 1182.2,1111.8 1183.0,1112.3 1184.0,1117.5 1185.0,1116.8 1186.0,1115.7 1187.0,1115.3 1188.0,1121.8 1189.0,1118.3 1190.0,1114.7 1191.0,1117.5 1192.0,1124.5 1193.0,1116.3 1194.0,1119.8 1195.0,1113.5 1196.0,1119.9 1197.0,1114.7 1198.0,1117.7 1199.0,1117.5 1200.0,1115.0 1201.0,1109.4 1201.2,1111.8 1201.5,1112.8 1201.8,1116.0 1202.0,1111.0 1202.2,1110.6 1202.5,1110.5 1202.8,1113.4 1203.0,1115.3 1203.2,1115.9 1203.5,1111.8 1203.8,1114.0 1204.0,1115.1 1204.2,1111.9 1204.5,1115.6 1204.8,1111.2 1205.0,1111.1 1205.2,1111.2 1205.5,1107.4 1205.8,1106.1 1206.0,1112.1 1206.2,1105.6 1206.5,1108.7 1206.8,1113.2 1207.0,1106.6 1207.2,1108.6 1207.5,1105.0 1207.8,1104.1 1208.0,1106.5 1208.2,1107.3 1208.5,1100.8 1208.8,1103.7 1209.0,1098.3 1209.2,1093.2 1209.5,1095.3 1209.8,1095.4 1210.0,1090.4 1210.2,1090.3 1210.5,1087.5 1210.8,1081.1 1211.0,1079.0 1211.2,1071.4 1211.5,1072.2 1211.8,1065.1 1212.0,1054.0 1212.2,1057.8 1212.5,1054.8 1212.8,1052.8 1213.0,1048.0 1213.2,1043.6 1213.5,1051.1 1213.8,1049.2 1214.0,1050.7 1214.2,1049.6 1214.5,1059.3 1214.8,1055.6 1215.0,1054.4 1215.2,1059.3 1215.5,1064.2 1215.8,1063.8 1216.0,1067.3 1216.2,1069.6 1216.5,1072.2 1216.8,1074.3 1217.0,1076.6 1217.2,1077.2 1217.5,1081.0 1217.8,1083.4 1218.0,1084.4 1218.2,1091.0 1218.5,1086.6 1218.8,1096.7 1219.0,1090.5 1219.2,1096.4 1219.5,1098.8 1219.8,1103.4 1220.0,1103.9 1220.2,1101.2 1220.5,1107.6 1220.8,1108.5 1221.0,1106.0 1221.2,1108.7 1221.5,1112.2 1221.8,1109.4 1222.0,1113.1 1222.2,1105.2 1222.5,1105.8 1222.8,1114.1 1223.0,1109.8 1223.2,1110.3 1223.5,1109.7 1223.8,1108.1 1224.0,1110.2 1224.2,1115.0 1224.5,1115.9 1224.8,1108.0 1225.0,1112.5 1226.0,1112.7 1227.0,1109.8 1228.0,1110.5 1229.0,1110.6 1230.0,1109.6 1231.0,1115.4 1232.0,1116.8 1233.0,1114.9 1234.0,1119.0 1235.0,1119.8 1236.0,1113.2 1237.0,1117.1 1238.0,1114.1 1239.0,1117.0 1240.0,1116.4 1241.0,1117.6 1242.0,1121.7 1243.0,1121.1 1244.0,1116.8 1245.0,1115.0 1246.0,1121.7 1247.0,1119.9 1248.0,1123.0 1249.0,1121.2 1250.0,1118.2 1251.0,1118.8 1252.0,1120.1 1253.0,1124.9 1254.0,1121.1 1255.0,1128.4 1256.0,1127.1 1257.0,1128.5 1258.0,1123.4 1259.0,1122.7 1260.0,1117.5 1261.0,1122.9 1262.0,1124.7 1263.0,1117.2 1264.0,1120.5 1265.0,1123.6 1266.0,1122.8 1267.0,1121.2 1268.0,1117.8 1269.0,1116.4 1270.0,1115.6 1271.0,1113.5 1272.0,1118.5 1273.0,1115.0 1274.0,1118.3 1275.0,1119.8 1276.0,1110.8 1277.0,1113.0 1278.0,1116.0 1279.0,1114.1 1280.0,1114.8 1281.0,1118.2 1282.0,1111.3 1283.0,1114.1 1284.0,1110.1 1285.0,1114.7 1286.0,1114.3 1287.0,1111.0 1288.0,1114.4 1289.0,1119.9 1290.0,1116.5 1291.0,1115.8 1292.0,1116.5 1293.0,1119.2 1294.0,1113.2 1295.0,1117.4 1296.0,1113.6 1296.5,1119.8 1296.8,1115.8 1297.0,1114.0 1297.2,1115.1 1297.5,1116.7 1297.8,1118.6 1298.0,1117.5 1298.2,1119.5 1298.5,1112.2 1298.8,1111.2 1299.0,1114.2 1299.2,1109.7 1299.5,1110.6 1299.8,1115.3 1300.0,1117.6 1300.2,1116.7 1300.5,1109.2 1300.8,1117.6 1301.0,1115.1 1301.2,1112.9 1301.5,1112.1 1301.8,1109.7 1302.0,1107.3 1302.2,1110.7 1302.5,1104.1 1302.8,1110.2 1303.0,1105.9 1303.2,1105.7 1303.5,1104.6 1303.8,1105.1 1304.0,1094.7 1304.2,1097.2 1304.5,1091.3 1304.8,1088.6 1305.0,1092.9 1305.2,1078.9 1305.5,1074.5 1305.8,1074.9 1306.0,1064.7 1306.2,1050.7 1306.5,1048.9 1306.8,1033.8 1307.0,1026.2 1307.2,1005.9 1307.5,999.9 1307.8,983.6 1308.0,974.6 1308.2,968.7 1308.5,965.7 1308.8,965.5 1309.0,967.6 1309.2,972.2 1309.5,979.1 1309.8,989.4 1310.0,995.8 1310.2,999.7 1310.5,1005.1 1310.8,1012.4 1311.0,1012.2 1311.2,1012.3 1311.5,1020.7 1311.8,1016.7 1312.0,1025.0 1312.2,1024.2 1312.5,1026.8 1312.8,1036.0 1313.0,1040.5 1313.2,1045.0 1313.5,1051.7 1313.8,1060.0 1314.0,1071.7 1314.2,1073.7 1314.5,1081.9 1314.8,1083.3 1315.0,1086.3 1315.2,1096.7 1315.5,1100.1 1315.8,1096.4 1316.0,1103.3 1316.2,1101.4 1316.5,1102.1 1316.8,1107.0 1317.0,1107.3 1317.2,1108.2 1317.5,1110.3 1317.8,1103.6 1318.0,1113.4 1318.2,1109.8 1318.5,1114.2 1318.8,1114.0 1319.0,1111.9 1319.2,1111.6 1319.5,1115.9 1319.8,1115.8 1320.0,1109.4 1320.2,1107.6 1321.0,1110.9 1322.0,1111.1 1323.0,1108.3 1324.0,1116.0 1325.0,1117.4 1326.0,1114.6 1327.0,1112.6 1328.0,1111.0 1329.0,1110.1 1330.0,1114.5 1331.0,1109.3 1332.0,1115.2 1333.0,1108.8 1334.0,1116.8 1335.0,1111.6 1336.0,1113.5 1337.0,1115.6 1338.0,1117.7 1339.0,1109.8 1340.0,1110.6 1341.0,1117.3 1342.0,1111.6 1343.0,1113.4 1344.0,1115.7 1345.0,1119.1 1346.0,1118.0 1347.0,1118.7 1348.0,1116.2 1349.0,1122.7 1350.0,1121.3 1351.0,1125.2 1352.0,1121.7 1353.0,1123.7 1354.0,1119.3 1355.0,1123.7 1356.0,1122.1 1357.0,1121.0 1358.0,1130.5 1359.0,1130.4 1360.0,1123.7 1361.0,1127.3 1362.0,1128.3 1363.0,1122.0 1364.0,1122.6 1365.0,1128.2 1366.0,1123.8 1367.0,1123.9 1368.0,1126.4 1369.0,1123.9 1370.0,1124.3 1371.0,1120.9 1372.0,1126.5 1373.0,1125.1 1374.0,1121.1 1375.0,1123.9 1376.0,1125.9 1377.0,1126.2 1378.0,1118.6 1379.0,1122.7 1380.0,1123.2 1381.0,1119.8 1382.0,1119.6 1383.0,1119.1 1384.0,1118.8 1385.0,1120.0 1386.0,1121.3 1387.0,1121.2 1388.0,1120.4 1389.0,1119.5 1390.0,1114.8 1391.0,1117.3 1392.0,1111.1 1393.0,1110.7 1394.0,1112.5 1395.0,1114.4 1396.0,1113.1 1397.0,1113.2 1398.0,1116.0 1399.0,1112.9 1400.0,1108.2 1401.0,1106.3 1402.0,1107.8 1403.0,1105.6 1404.0,1104.3 1404.5,1107.4 1404.8,1107.3 1405.0,1102.7 1405.2,1101.4 1405.5,1105.7 1405.8,1105.7 1406.0,1102.5 1406.2,1105.2 1406.5,1102.2 1406.8,1100.9 1407.0,1098.0 1407.2,1098.6 1407.5,1098.5 1407.8,1100.7 1408.0,1095.8 1408.2,1090.6 1408.5,1092.6 1408.8,1095.6 1409.0,1093.3 1409.2,1088.4 1409.5,1089.1 1409.8,1089.7 1410.0,1081.8 1410.2,1083.6 1410.5,1077.1 1410.8,1072.3 1411.0,1073.5 1411.2,1062.3 1411.5,1054.9 1411.8,1051.4 1412.0,1033.4 1412.2,1016.3 1412.5,996.9 1412.8,980.3 1413.0,952.8 1413.2,916.8 1413.5,882.8 1413.8,840.4 1414.0,795.5 1414.2,736.2 1414.5,683.5 1414.8,622.2 1415.0,564.2 1415.2,509.6 1415.5,455.4 1415.8,404.3 1416.0,362.8 1416.2,342.5 1416.5,319.9 1416.8,323.0 1417.0,332.1 1417.2,349.2 1417.5,370.6 1417.8,400.6 1418.0,431.5 1418.2,468.5 1418.5,498.8 1418.8,524.8 1419.0,547.0 1419.2,564.4 1419.5,580.7 1419.8,591.2 1420.0,607.1 1420.2,617.3 1420.5,639.9 1420.8,655.8 1421.0,685.7 1421.2,708.1 1421.5,742.6 1421.8,773.4 1422.0,803.6 1422.2,841.9 1422.5,872.5 1422.8,903.6 1423.0,926.8 1423.2,949.0 1423.5,970.5 1423.8,996.1 1424.0,1009.5 1424.2,1032.6 1424.5,1036.7 1424.8,1054.3 1425.0,1062.5 1425.2,1066.3 1425.5,1076.1 1425.8,1071.5 1426.0,1081.1 1426.2,1083.6 1426.5,1084.7 1426.8,1087.6 1427.0,1085.6 1427.2,1087.5 1427.5,1093.2 1427.8,1095.2 1428.0,1087.7 1428.2,1091.5 1429.0,1095.9 1430.0,1096.8 1431.0,1094.9 1432.0,1101.4 1433.0,1098.4 1434.0,1106.0 1435.0,1106.1 1436.0,1102.6 1437.0,1107.1 1438.0,1106.4 1439.0,1106.2 1440.0,1110.1 1441.0,1107.4 1442.0,1109.3 1443.0,1115.2 1444.0,1113.2 1445.0,1112.0 1446.0,1115.7 1447.0,1111.6 1448.0,1113.8 1449.0,1116.1 1450.0,1122.1 1451.0,1120.3 1452.0,1120.7 1453.0,1121.7 1454.0,1119.4 1455.0,1123.8 1456.0,1116.3 1457.0,1125.0 1458.0,1117.4 1459.0,1119.8 1460.0,1126.6 1461.0,1119.2 1462.0,1117.2 1463.0,1122.5 1464.0,1119.2 1465.0,1118.0 1466.0,1118.7 1467.0,1120.8 1468.0,1121.7 1469.0,1128.5 1470.0,1121.0 1471.0,1126.9 1472.0,1122.4 1473.0,1120.0 1474.0,1118.7 1475.0,1126.6 1476.0,1120.2 1477.0,1120.9 1478.0,1123.3 1479.0,1127.9 1480.0,1122.4 1481.0,1119.8 1482.0,1122.8 1483.0,1121.8 1484.0,1122.4 1485.0,1118.1 1486.0,1121.8 1487.0,1124.7 1488.0,1121.8 1489.0,1119.3 1490.0,1125.3 1491.0,1122.1 1492.0,1122.7 1493.0,1119.2 1494.0,1125.2 1495.0,1124.2 1496.0,1126.0 1497.0,1126.9 1498.0,1121.2 1499.0,1120.9 1500.0,1122.2 1501.0,1120.7 1502.0,1123.4 1503.0,1124.0 1504.0,1126.1 1505.0,1119.6 1506.0,1126.0 1507.0,1122.0 1508.0,1124.5 1509.0,1127.3 1510.0,1125.7 1511.0,1123.7 1512.0,1128.3 1513.0,1125.0 1514.0,1122.5 1515.0,1129.5 1516.0,1122.4 1517.0,1122.7 1518.0,1118.7 1519.0,1119.8 1520.0,1115.7 1521.0,1119.2 1522.0,1112.5 1523.0,1118.0 1524.0,1111.2 1525.0,1108.3 1526.0,1107.2 1527.0,1111.9 1528.0,1112.1 1529.0,1115.1 1530.0,1110.6 1531.0,1118.3 1532.0,1117.1 1533.0,1119.4 1534.0,1115.5 1535.0,1113.7 1536.0,1118.8 1537.0,1120.6 1538.0,1115.7 1539.0,1115.6 1540.0,1115.2 1541.0,1120.6 1542.0,1116.8 1543.0,1119.7 1544.0,1118.4 1545.0,1115.8 1546.0,1119.2 1547.0,1119.9 1548.0,1119.3 1549.0,1123.6 1550.0,1122.0 1551.0,1119.6 1552.0,1120.8 1553.0,1120.2 1554.0,1119.5 1555.0,1116.5 1556.0,1113.0 1557.0,1109.2 1558.0,1102.6 1559.0,1098.3 1560.0,1083.7 1561.0,1075.3 1562.0,1067.6 1563.0,1068.4 1564.0,1077.0 1565.0,1077.9 1566.0,1081.4 1567.0,1087.7 1568.0,1091.1 1569.0,1097.7 1570.0,1107.9 1571.0,1107.1 1572.0,1111.7 1573.0,1114.6 1574.0,1108.9 1575.0,1112.3 1576.0,1113.9 1577.0,1112.3 1578.0,1102.1 1579.0,1107.6 1580.0,1106.5 1581.0,1103.4 1582.0,1100.6 1583.0,1100.1 1584.0,1096.2 1585.0,1091.7 1586.0,1097.6 1587.0,1099.8 1588.0,1103.6 1589.0,1097.5 1590.0,1104.3 1591.0,1107.4 1592.0,1104.5 1593.0,1111.1 1594.0,1106.1 1595.0,1107.8 1596.0,1114.7 1597.0,1109.6 1598.0,1112.4 1599.0,1117.6 1600.0,1119.3 1601.0,1122.5 1602.0,1118.4 1603.0,1120.3 1604.0,1121.8 1605.0,1119.0 1606.0,1116.8 1607.0,1118.9 1608.0,1120.4 1609.0,1112.9 1610.0,1118.2 1611.0,1113.9 1612.0,1115.6 1613.0,1114.7 1614.0,1116.9 1615.0,1115.7 1616.0,1112.0 1617.0,1107.1 1618.0,1114.1 1619.0,1113.6 1620.0,1109.8 1621.0,1110.8 1622.0,1108.4 1623.0,1112.7 1624.0,1109.5 1625.0,1111.3 1626.0,1114.5 1627.0,1114.2 1628.0,1106.4 1629.0,1108.7 1630.0,1112.0 1631.0,1109.9 1632.0,1111.1 1633.0,1106.2 1634.0,1109.3 1635.0,1113.8 1636.0,1105.9 1637.0,1108.2 1638.0,1111.5 1639.0,1105.5 1640.0,1098.7 1641.0,1098.2 1642.0,1100.4 1643.0,1094.7 1644.0,1090.9 1645.0,1086.0 1646.0,1080.3 1647.0,1077.5 1648.0,1080.4 1649.0,1074.1 1650.0,1069.1 1651.0,1075.5 1652.0,1072.3 1653.0,1073.4 1654.0,1078.6 1655.0,1078.5 1656.0,1081.4 1657.0,1086.2 1658.0,1088.0 1659.0,1086.7 1660.0,1081.3 1661.0,1076.4 1662.0,1081.6 1662.2,1076.0 1662.5,1075.1 1662.8,1076.8 1663.0,1076.0 1663.2,1075.7 1663.5,1071.3 1663.8,1074.3 1664.0,1069.9 1664.2,1068.8 1664.5,1072.4 1664.8,1062.8 1665.0,1061.1 1665.2,1065.6 1665.5,1057.1 1665.8,1062.4 1666.0,1059.3 1666.2,1051.5 1666.5,1050.7 1666.8,1050.8 1667.0,1048.2 1667.2,1041.9 1667.5,1042.2 1667.8,1036.7 1668.0,1025.2 1668.2,1026.4 1668.5,1021.6 1668.8,1011.6 1669.0,1005.9 1669.2,994.2 1669.5,974.4 1669.8,964.0 1670.0,935.1 1670.2,906.0 1670.5,873.3 1670.8,818.0 1671.0,742.2 1671.2,651.8 1671.5,528.5 1671.8,376.5 1672.0,195.8 1672.2,-15.9 1672.5,-50.0 1672.8,-50.0 1673.0,-50.0 1673.2,-50.0 1673.5,-50.0 1673.8,-50.0 1674.0,-50.0 1674.2,-50.0 1674.5,-50.0 1674.8,-50.0 1675.0,-50.0 1675.2,-50.0 1675.5,-50.0 1675.8,-14.6 1676.0,197.6 1676.2,382.8 1676.5,533.9 1676.8,652.3 1677.0,747.8 1677.2,814.7 1677.5,870.4 1677.8,907.0 1678.0,939.7 1678.2,961.3 1678.5,980.5 1678.8,990.4 1679.0,1000.3 1679.2,1007.6 1679.5,1020.0 1679.8,1028.1 1680.0,1029.5 1680.2,1032.6 1680.5,1040.7 1680.8,1045.6 1681.0,1051.1 1681.2,1053.7 1681.5,1052.9 1681.8,1054.4 1682.0,1058.1 1682.2,1058.0 1682.5,1060.7 1682.8,1060.6 1683.0,1063.5 1683.2,1067.3 1683.5,1074.3 1683.8,1071.1 1684.0,1068.5 1684.2,1077.2 1684.5,1073.7 1684.8,1074.2 1685.0,1079.6 1685.2,1076.9 1685.5,1077.5 1685.8,1075.8 1686.0,1083.6 1687.0,1085.7 1688.0,1086.8 1689.0,1084.5 1690.0,1089.8 1691.0,1087.5 1692.0,1088.1 1693.0,1092.2 1693.2,1089.8 1693.5,1084.4 1693.8,1089.8 1694.0,1084.6 1694.2,1084.9 1694.5,1088.6 1694.8,1089.9 1695.0,1092.0 1695.2,1086.5 1695.5,1087.2 1695.8,1085.4 1696.0,1089.6 1696.2,1089.5 1696.5,1090.8 1696.8,1087.4 1697.0,1083.8 1697.2,1081.7 1697.5,1087.7 1697.8,1079.4 1698.0,1078.4 1698.2,1081.3 1698.5,1084.1 1698.8,1077.0 1699.0,1082.9 1699.2,1080.2 1699.5,1080.8 1699.8,1071.9 1700.0,1073.5 1700.2,1069.2 1700.5,1067.0 1700.8,1060.0 1701.0,1054.8 1701.2,1046.5 1701.5,1041.8 1701.8,1023.3 1702.0,1007.3 1702.2,988.0 1702.5,966.8 1702.8,939.3 1703.0,909.0 1703.2,871.7 1703.5,836.5 1703.8,800.1 1704.0,755.5 1704.2,725.4 1704.5,696.0 1704.8,675.7 1705.0,663.1 1705.2,672.5 1705.5,690.3 1705.8,715.2 1706.0,747.1 1706.2,781.3 1706.5,817.5 1706.8,850.0 1707.0,875.7 1707.2,897.0 1707.5,911.3 1707.8,924.3 1708.0,928.5 1708.2,929.1 1708.5,923.1 1708.8,913.2 1709.0,899.7 1709.2,890.3 1709.5,871.9 1709.8,869.8 1710.0,863.4 1710.2,869.6 1710.5,877.0 1710.8,896.2 1711.0,910.9 1711.2,934.8 1711.5,949.2 1711.8,974.9 1712.0,992.9 1712.2,1010.7 1712.5,1025.8 1712.8,1039.9 1713.0,1050.1 1713.2,1057.0 1713.5,1064.0 1713.8,1063.4 1714.0,1071.7 1714.2,1075.9 1714.5,1077.8 1714.8,1076.9 1715.0,1084.4 1715.2,1085.7 1715.5,1086.1 1715.8,1086.2 1716.0,1083.2 1716.2,1082.5 1716.5,1085.7 1716.8,1088.4 1717.0,1084.3 1718.0,1092.2 1719.0,1091.8 1720.0,1091.4 1721.0,1090.6 1722.0,1085.8 1723.0,1086.9 1724.0,1092.5 1725.0,1090.9 1726.0,1088.5 1727.0,1090.2 1728.0,1085.6 1728.7,1084.4 1729.0,1082.1 1729.0,1088.4 1729.2,1080.7 1729.5,1086.7 1729.7,1086.1 1730.0,1079.8 1730.0,1085.4 1730.2,1086.7 1730.5,1082.6 1730.7,1080.1 1731.0,1078.3 1731.0,1081.0 1731.2,1074.0 1731.5,1074.5 1731.7,1071.7 1732.0,1077.8 1732.0,1079.6 1732.2,1077.3 1732.5,1077.3 1732.7,1068.0 1733.0,1072.5 1733.0,1073.1 1733.2,1068.5 1733.5,1063.4 1733.7,1064.5 1734.0,1059.3 1734.0,1058.3 1734.2,1060.0 1734.5,1055.8 1734.7,1048.4 1735.0,1046.3 1735.0,1044.6 1735.2,1042.5 1735.5,1037.1 1735.7,1031.8 1736.0,1023.6 1736.0,1022.9 1736.2,1008.5 1736.5,1001.9 1736.7,984.4 1737.0,971.7 1737.0,961.7 1737.2,942.1 1737.5,908.3 1737.7,857.3 1738.0,794.0 1738.0,779.0 1738.2,696.7 1738.5,575.8 1738.7,411.7 1739.0,199.5 1739.0,156.6 1739.2,-40.8 1739.5,-50.0 1739.7,-50.0 1740.0,-50.0 1740.0,-50.0 1740.2,-50.0 1740.5,-50.0 1740.7,-50.0 1741.0,-50.0 1741.0,-50.0 1741.2,-50.0 1741.5,-50.0 1741.7,-50.0 1742.0,-50.0 1742.0,-50.0 1742.2,-39.5 1742.5,203.6 1742.7,410.2 1743.0,569.5 1743.0,605.2 1743.2,695.7 1743.5,796.6 1743.7,863.4 1744.0,912.0 1744.0,916.7 1744.2,947.4 1744.5,968.7 1744.7,990.8 1745.0,1006.4 1745.0,1004.7 1745.2,1017.3 1745.5,1020.8 1745.7,1032.7 1746.0,1035.7 1746.0,1038.8 1746.2,1038.8 1746.5,1045.7 1746.7,1054.1 1747.0,1060.9 1747.0,1059.4 1747.2,1056.7 1747.5,1061.4 1747.7,1067.5 1748.0,1063.4 1748.0,1070.4 1748.2,1066.1 1748.5,1075.3 1748.7,1074.4 1749.0,1078.8 1749.0,1080.9 1749.2,1077.1 1749.5,1079.7 1749.7,1080.2 1750.0,1079.1 1750.0,1083.3 1750.2,1083.4 1750.5,1084.1 1750.7,1087.3 1751.0,1089.6 1751.0,1088.9 1751.2,1089.8 1751.5,1090.8 1751.7,1088.5 1752.0,1087.5 1752.0,1086.9 1752.2,1091.6 1752.5,1094.3 1753.0,1092.9 1754.0,1095.0 1755.0,1094.9 1756.0,1095.7 1757.0,1101.1 1758.0,1096.2 1759.0,1103.8 1760.0,1100.9 1761.0,1105.3 1762.0,1102.8 1763.0,1099.2 1764.0,1102.2 1765.0,1103.2 1766.0,1105.1 1767.0,1101.3 1768.0,1100.6 1769.0,1107.2 1770.0,1108.6 1771.0,1109.1 1772.0,1105.5 1773.0,1103.1 1774.0,1106.0 1775.0,1112.3 1776.0,1110.5 1777.0,1111.9 1778.0,1111.4 1779.0,1111.2 1780.0,1116.5 1781.0,1113.2 1782.0,1113.8 1783.0,1112.0 1784.0,1113.9 1785.0,1115.3 1786.0,1114.4 1787.0,1119.2 1788.0,1117.4 1789.0,1115.9 1790.0,1120.8 1791.0,1117.4 1792.0,1117.2 1793.0,1121.5 1794.0,1119.1 1795.0,1122.2 1796.0,1122.5 1797.0,1113.9 1798.0,1116.4 1799.0,1117.7 1800.0,1111.1 1801.0,1115.7 1802.0,1108.0 1803.0,1109.0 1804.0,1109.4 1805.0,1104.2 1806.0,1103.2 1807.0,1101.5 1808.0,1101.5 1809.0,1102.6 1810.0,1103.8 1811.0,1111.4 1812.0,1109.9 1813.0,1118.1 1814.0,1116.7 1815.0,1118.0 1816.0,1116.4 1817.0,1126.1 1818.0,1125.5 1819.0,1127.7 1820.0,1124.5 1821.0,1122.0 1822.0,1123.1 1823.0,1119.9 1824.0,1126.2 1825.0,1128.0 1826.0,1127.6 1827.0,1123.0 1828.0,1121.5 1829.0,1126.0 1830.0,1127.9 1831.0,1126.9 1832.0,1124.8 1833.0,1128.6 1834.0,1122.0 1835.0,1123.8 1836.0,1129.7 1837.0,1129.9 1838.0,1125.7 1839.0,1128.1 1840.0,1126.3 1841.0,1127.2 1842.0,1129.4 1843.0,1124.6 1844.0,1124.8 1845.0,1130.6 1846.0,1129.2 1847.0,1124.8 1848.0,1132.8 1849.0,1132.7 1850.0,1125.0 1851.0,1125.3 1852.0,1131.0 1853.0,1125.1 1854.0,1127.6 1855.0,1125.3 1856.0,1130.6 1857.0,1129.2 1858.0,1128.6 1859.0,1128.4 1860.0,1132.1 1861.0,1128.1 1862.0,1126.6 1863.0,1131.3 1864.0,1126.5 1865.0,1129.7 1866.0,1132.0 1867.0,1128.5 1868.0,1129.6 1869.0,1127.2 1870.0,1130.0 1871.0,1125.6 1872.0,1127.5 1873.0,1123.9 1874.0,1124.1 1875.0,1125.0 1876.0,1121.3 1877.0,1123.1 1878.0,1123.2 1879.0,1118.5 1880.0,1120.0 1881.0,1121.1 1882.0,1118.3 1883.0,1116.2 1884.0,1111.5 1885.0,1113.2 1886.0,1116.2 1887.0,1116.6 1888.0,1110.5 1889.0,1111.1 1890.0,1113.1 1891.0,1113.1 1892.0,1114.5 1893.0,1113.5 1894.0,1116.7 1895.0,1119.6 1896.0,1119.3 1897.0,1119.6 1898.0,1120.6 1899.0,1124.2 1900.0,1123.8 1901.0,1123.5 1902.0,1128.0 1903.0,1128.1 1904.0,1128.2 1905.0,1125.3 1906.0,1132.9 1907.0,1130.6 1908.0,1127.8 1909.0,1132.1 1910.0,1128.1 1911.0,1128.3 1912.0,1129.4 1913.0,1131.9 1914.0,1130.8 1915.0,1133.0 1916.0,1132.5 1917.0,1129.4 1918.0,1130.9 1919.0,1133.4 1920.0,1126.6 1921.0,1128.8 1922.0,1127.4 1923.0,1128.5 1924.0,1130.8 1925.0,1128.9 1926.0,1128.0 1927.0,1125.4 1928.0,1125.7 1929.0,1128.4 1930.0,1124.8 1931.0,1128.6 1931.9,1124.7 1932.0,1127.9 1932.2,1125.9 1932.4,1123.8 1932.7,1125.0 1932.9,1124.5 1933.0,1123.9 1933.2,1126.0 1933.4,1128.3 1933.7,1124.3 1933.9,1123.3 1934.0,1130.5 1934.2,1129.9 1934.4,1127.5 1934.7,1124.0 1934.9,1125.6 1935.0,1121.7 1935.2,1124.8 1935.4,1123.3 1935.7,1126.3 1935.9,1124.8 1936.0,1124.3 1936.2,1120.6 1936.4,1121.3 1936.7,1123.0 1936.9,1126.6 1937.0,1126.2 1937.2,1121.6 1937.4,1123.3 1937.7,1124.1 1937.9,1121.6 1938.0,1125.9 1938.2,1122.1 1938.4,1121.7 1938.7,1121.8 1938.9,1123.8 1939.0,1122.1 1939.2,1120.7 1939.4,1121.9 1939.7,1117.8 1939.9,1122.8 1940.0,1118.5 1940.2,1116.3 1940.4,1120.7 1940.7,1113.4 1940.9,1114.0 1941.0,1110.2 1941.2,1108.8 1941.4,1108.1 1941.7,1102.5 1941.9,1102.5 1942.0,1101.0 1942.2,1094.1 1942.4,1090.4 1942.7,1083.4 1942.9,1078.4 1943.0,1073.1 1943.2,1069.7 1943.4,1068.9 1943.7,1066.5 1943.9,1065.8 1944.0,1066.6 1944.2,1067.3 1944.4,1070.6 1944.7,1072.7 1944.9,1079.9 1945.0,1076.3 1945.2,1079.2 1945.4,1085.5 1945.7,1093.3 1945.9,1100.3 1946.0,1102.5 1946.2,1098.9 1946.4,1104.2 1946.7,1105.0 1946.9,1103.8 1947.0,1105.0 1947.2,1111.2 1947.4,1109.6 1947.7,1103.5 1947.9,1101.9 1948.0,1104.8 1948.2,1106.6 1948.4,1104.2 1948.7,1102.1 1948.9,1099.1 1949.0,1092.5 1949.2,1090.8 1949.4,1090.3 1949.7,1086.1 1949.9,1091.1 1950.0,1088.6 1950.2,1092.5 1950.4,1087.9 1950.7,1095.2 1950.9,1099.8 1951.0,1094.5 1951.2,1097.1 1951.4,1103.8 1951.7,1108.5 1951.9,1110.8 1952.0,1112.1 1952.2,1109.2 1952.4,1115.0 1952.7,1110.8 1952.9,1118.0 1953.0,1117.9 1953.2,1117.1 1953.4,1114.8 1953.7,1118.0 1953.9,1115.3 1954.0,1117.6 1954.2,1121.9 1954.4,1119.8 1954.7,1118.1 1954.9,1116.7 1955.0,1117.9 1955.2,1115.0 1955.4,1115.0 1955.7,1116.3 1956.0,1117.2 1957.0,1117.5 1958.0,1114.8 1959.0,1114.9 1960.0,1117.6 1961.0,1124.9 1962.0,1118.9 1963.0,1123.8 1964.0,1121.9 1965.0,1122.8 1966.0,1123.5 1967.0,1124.2 1968.0,1123.6 1969.0,1130.1 1970.0,1130.6 1971.0,1127.2 1972.0,1130.6 1973.0,1127.7 1974.0,1130.9 1975.0,1134.2 1976.0,1134.3 1977.0,1132.5 1978.0,1134.1 1979.0,1135.0 1980.0,1135.9 1981.0,1137.2 1982.0,1130.4 1983.0,1130.5 1984.0,1134.6 1985.0,1130.0 1986.0,1136.6 1987.0,1135.5 1988.0,1131.7 1989.0,1132.0 1990.0,1131.0 1991.0,1133.6 1992.0,1135.2 1993.0,1134.5 1994.0,1134.9 1995.0,1130.6 1996.0,1131.9 1997.0,1135.1 1998.0,1133.6 1999.0,1132.9 2000.0,1134.2 2001.0,1136.4 2002.0,1130.9 2003.0,1135.0 2004.0,1130.3 2005.0,1131.1 2006.0,1134.7 2007.0,1131.4 2008.0,1128.0 2009.0,1128.1 2010.0,1130.7 2011.0,1130.5 2012.0,1130.3 2013.0,1134.3 2014.0,1129.5 2015.0,1129.7 2016.0,1127.4 2017.0,1129.3 2018.0,1127.8 2019.0,1130.0 2020.0,1131.6 2021.0,1128.1 2022.0,1128.1 2023.0,1127.7 2024.0,1127.3 2025.0,1129.0 2026.0,1125.5 2027.0,1124.0 2028.0,1126.4 2029.0,1128.7 2030.0,1124.6 2031.0,1122.9 2032.0,1122.6 2033.0,1126.8 2034.0,1127.7 2035.0,1123.5 2036.0,1126.8 2037.0,1122.1 2038.0,1124.3 2039.0,1127.7 2040.0,1124.2 2041.0,1125.6 2042.0,1130.3 2043.0,1128.5 2044.0,1128.4 2045.0,1125.6 2046.0,1126.8 2047.0,1128.0 2048.0,1130.5 2049.0,1130.3 2050.0,1132.6 2051.0,1137.1 2052.0,1133.0 2053.0,1133.8 2054.0,1135.0 2055.0,1132.7 2056.0,1133.1 2057.0,1131.8 2058.0,1130.7 2059.0,1131.9 2060.0,1133.6 2061.0,1129.1 2062.0,1133.1 2063.0,1131.5 2064.0,1126.5 2065.0,1128.0 2066.0,1129.5 2067.0,1127.4 2068.0,1128.8 2069.0,1130.6 2070.0,1127.6 2071.0,1127.2 2072.0,1123.9 2073.0,1127.7 2074.0,1126.3 2075.0,1121.9 2076.0,1125.5 2077.0,1123.7 2078.0,1126.9 2079.0,1124.9 2080.0,1123.5 2081.0,1129.3 2082.0,1127.4 2083.0,1125.4 2084.0,1131.3 2085.0,1130.6 2086.0,1127.3 2087.0,1128.8 2088.0,1130.0 2089.0,1128.6 2090.0,1130.3 2091.0,1125.7 2092.0,1132.2 2093.0,1130.6 2094.0,1130.0 2095.0,1132.8 2096.0,1130.5 2097.0,1130.8 2098.0,1131.5 2099.0,1132.0 2100.0,1127.8 2101.0,1132.7 2102.0,1133.7 2103.0,1128.6 2104.0,1131.2 2105.0,1132.4 2106.0,1127.2 2107.0,1129.9 2108.0,1130.4 2109.0,1128.5 2110.0,1124.7 2111.0,1122.7 2112.0,1121.3 2113.0,1121.9 2114.0,1122.8 2115.0,1121.0 2116.0,1122.8 2117.0,1124.8 2118.0,1125.8 2119.0,1123.8 2120.0,1124.4 2121.0,1129.0 2122.0,1127.2 2123.0,1125.1 2124.0,1129.6 2125.0,1130.7 2126.0,1128.7 2127.0,1129.6 2128.0,1131.7 2129.0,1131.6 2130.0,1126.8 2131.0,1125.7 2132.0,1125.6 2133.0,1128.2 2134.0,1125.6 2135.0,1130.8 2136.0,1130.4 2137.0,1131.0 2138.0,1131.8 2139.0,1132.6 2140.0,1133.0 2141.0,1133.3 2142.0,1130.2 2143.0,1131.3 2144.0,1129.5 2145.0,1130.1 2146.0,1133.0 2147.0,1132.6 2148.0,1130.5 2149.0,1136.1 2150.0,1135.1 2151.0,1134.7 2152.0,1135.3 2153.0,1131.0 2154.0,1130.6 2155.0,1128.1 2156.0,1131.8 2157.0,1133.3 2158.0,1132.5 2159.0,1128.8 2160.0,1131.7 2161.0,1130.3 2162.0,1130.9 2163.0,1133.5 2164.0,1131.9 2165.0,1133.1 2166.0,1129.9 2167.0,1129.4 2168.0,1134.0 2169.0,1135.6 2170.0,1135.4 2171.0,1130.4 2172.0,1132.3 2173.0,1130.3 2174.0,1130.2 2175.0,1132.2 2176.0,1126.9 2177.0,1129.9 2178.0,1128.4 2179.0,1122.8 2180.0,1125.8 2181.0,1126.8 2182.0,1125.3 2183.0,1119.7 2184.0,1120.1 2185.0,1120.6 2186.0,1118.1 2187.0,1120.5 2188.0,1114.0 2189.0,1118.0 2190.0,1119.1 2191.0,1118.4 2192.0,1114.8 2193.0,1120.9 2194.0,1116.1 2195.0,1117.5 2196.0,1118.0 2197.0,1124.9 2198.0,1121.8 2199.0,1124.5 2200.0,1121.6 2201.0,1126.3 2202.0,1123.3 2203.0,1123.4 2204.0,1126.7 2205.0,1126.7 2206.0,1129.2 2207.0,1127.6 2208.0,1126.6 2209.0,1130.2 2210.0,1130.6 2211.0,1130.4 2212.0,1132.7 2213.0,1128.5 2214.0,1133.0 2215.0,1131.8 2216.0,1132.0 2217.0,1132.8 2218.0,1131.9 2219.0,1129.3 2220.0,1131.0 2221.0,1132.2 2222.0,1127.8 2223.0,1128.0 2224.0,1131.0 2225.0,1131.0 2226.0,1134.7 2227.0,1134.0 2228.0,1130.9 2229.0,1134.8 2230.0,1130.2 2231.0,1130.5 2232.0,1132.7 2233.0,1134.3 2234.0,1131.5 2235.0,1131.4 2236.0,1131.6 2237.0,1130.5 2238.0,1128.6 2239.0,1131.5 2240.0,1130.4 2241.0,1132.0 2242.0,1126.3 2243.0,1126.2 2244.0,1131.5 2245.0,1130.0 2246.0,1127.1 2247.0,1125.4 2248.0,1124.3 2249.0,1128.1 2250.0,1122.5 2251.0,1125.2 2252.0,1125.1 2253.0,1121.6 2254.0,1120.7 2255.0,1123.6 2256.0,1120.6 2257.0,1122.3"/>
<path stroke="#ff0000" d="M199.0,1473.2 200.0,1473.7 201.0,1479.0 202.0,1472.0 203.0,1477.1 204.0,1479.0 205.0,1474.2 206.0,1473.5 207.0,1475.9 208.0,1479.6 209.0,1478.7 210.0,1475.6 211.0,1478.7 212.0,1482.1 213.0,1480.2 214.0,1482.8 215.0,1485.2 216.0,1482.6 217.0,1479.1 218.0,1477.9 219.0,1479.6 220.0,1482.5 221.0,1486.5 222.0,1486.3 223.0,1481.7 224.0,1487.9 225.0,1484.1 226.0,1486.7 227.0,1481.5 228.0,1481.9 229.0,1483.0 230.0,1489.5 231.0,1487.7 232.0,1489.8 233.0,1488.4 234.0,1486.3 235.0,1487.2 236.0,1487.5 237.0,1490.0 238.0,1485.4 239.0,1489.5 240.0,1485.8 241.0,1487.2 242.0,1482.8 243.0,1484.8 244.0,1482.4 245.0,1484.7 246.0,1481.9 247.0,1481.5 248.0,1481.1 249.0,1487.6 250.0,1485.0 251.0,1490.0 252.0,1489.5 253.0,1485.8 254.0,1491.1 255.0,1488.0 256.0,1489.5 257.0,1486.1 258.0,1484.7 259.0,1486.1 260.0,1486.8 261.0,1492.0 262.0,1488.1 263.0,1487.5 264.0,1495.6 265.0,1489.4 266.0,1493.5 267.0,1494.5 268.0,1496.6 269.0,1495.5 270.0,1500.0 271.0,1498.7 272.0,1496.6 273.0,1497.3 274.0,1497.2 275.0,1502.1 276.0,1495.0 277.0,1500.3 278.0,1499.5 279.0,1494.7 280.0,1497.2 281.0,1503.7 282.0,1502.5 283.0,1494.3 284.0,1496.9 285.0,1494.3 286.0,1501.7 287.0,1495.0 288.0,1495.3 289.0,1503.9 290.0,1499.4 291.0,1498.7 292.0,1497.1 293.0,1500.5 294.0,1500.9 295.0,1501.6 296.0,1497.0 297.0,1497.2 298.0,1497.9 299.0,1500.3 300.0,1499.7 301.0,1502.1 302.0,1499.1 303.0,1505.3 304.0,1506.0 305.0,1497.7 306.0,1499.6 307.0,1503.3 308.0,1505.8 309.0,1498.6 310.0,1499.7 311.0,1502.4 312.0,1504.2 313.0,1505.7 314.0,1505.8 315.0,1505.1 316.0,1498.3 317.0,1507.7 318.0,1504.5 319.0,1499.6 320.0,1501.3 321.0,1504.4 322.0,1502.3 323.0,1503.8 324.0,1507.2 325.0,1507.9 326.0,1505.9 327.0,1508.9 328.0,1504.6 329.0,1510.2 330.0,1506.9 331.0,1510.4 332.0,1501.6 333.0,1510.0 334.0,1507.9 335.0,1509.6 336.0,1505.1 337.0,1508.5 338.0,1505.9 339.0,1503.8 340.0,1503.3 341.0,1511.2 342.0,1507.9 343.0,1502.2 344.0,1501.0 345.0,1501.5 346.0,1503.2 347.0,1494.9 348.0,1501.3 349.0,1500.5 350.0,1493.1 351.0,1496.4 352.0,1492.6 353.0,1495.6 354.0,1489.0 355.0,1492.2 356.0,1492.7 357.0,1494.7 358.0,1496.3 359.0,1499.0 360.0,1493.1 361.0,1492.5 362.0,1494.8 363.0,1496.9 364.0,1501.5 365.0,1499.7 366.0,1500.3 367.0,1502.9 368.0,1495.9 369.0,1496.0 370.0,1497.8 371.0,1497.0 372.0,1500.5 373.0,1503.2 374.0,1495.6 375.0,1499.9 376.0,1502.3 377.0,1501.4 378.0,1506.3 379.0,1505.2 380.0,1507.6 381.0,1501.5 382.0,1503.4 383.0,1503.5 384.0,1512.1 385.0,1513.9 386.0,1505.9 387.0,1514.7 388.0,1514.1 389.0,1515.7 390.0,1509.7 391.0,1513.5 392.0,1508.2 393.0,1505.8 394.0,1511.5 395.0,1504.8 396.0,1510.2 397.0,1505.7 398.0,1507.5 399.0,1510.6 400.0,1503.7 401.0,1505.5 402.0,1504.0 403.0,1501.4 404.0,1504.0 405.0,1500.4 406.0,1506.5 407.0,1504.3 408.0,1501.0 409.0,1507.4 410.0,1501.7 411.0,1504.6 412.0,1505.2 413.0,1500.9 414.0,1498.6 415.0,1507.2 416.0,1507.7 417.0,1500.3 418.0,1499.9 419.0,1503.9 420.0,1506.5 421.0,1511.4 422.0,1512.1 423.0,1513.3 424.0,1507.1 425.0,1511.4 426.0,1510.6 427.0,1509.7 428.0,1509.9 429.0,1511.4 430.0,1513.3 431.0,1510.9 432.0,1511.8 433.0,1510.5 434.0,1516.2 435.0,1515.4 436.0,1512.5 437.0,1514.7 438.0,1513.6 439.0,1515.3 440.0,1517.5 441.0,1512.4 442.0,1515.7 443.0,1511.8 444.0,1518.9 445.0,1515.9 446.0,1512.3 447.0,1513.3 448.0,1513.0 449.0,1513.6 450.0,1515.5 451.0,1520.7 452.0,1517.6 453.0,1515.4 454.0,1517.0 455.0,1515.8 456.0,1520.2 457.0,1513.6 458.0,1516.0 459.0,1516.2 460.0,1514.0 461.0,1519.5 462.0,1514.7 463.0,1515.6 464.0,1513.0 465.0,1520.2 466.0,1515.9 467.0,1518.4 468.0,1514.2 469.0,1511.6 470.0,1514.3 471.0,1519.0 472.0,1518.8 473.0,1514.0 474.0,1518.9 475.0,1510.4 476.0,1514.5 477.0,1512.3 478.0,1514.1 479.0,1512.2 480.0,1519.2 481.0,1513.6 482.0,1520.3 483.0,1512.0 484.0,1515.2 485.0,1515.8 486.0,1519.2 487.0,1515.7 488.0,1517.7 489.0,1514.3 490.0,1516.6 491.0,1521.0 492.0,1515.8 493.0,1519.4 494.0,1516.9 495.0,1516.4 496.0,1516.3 497.0,1523.1 498.0,1522.4 499.0,1519.7 500.0,1518.6 501.0,1520.4 502.0,1518.1 503.0,1519.7 504.0,1518.5 505.0,1513.1 506.0,1513.2 507.0,1511.3 508.0,1508.0 509.0,1507.6 510.0,1503.6 511.0,1495.6 512.0,1489.3 513.0,1482.2 514.0,1492.1 515.0,1495.8 516.0,1493.8 517.0,1504.5 518.0,1511.6 519.0,1511.1 520.0,1506.5 521.0,1508.0 522.0,1507.4 523.0,1506.0 524.0,1509.8 525.0,1513.3 526.0,1511.9 527.0,1510.8 528.0,1511.5 529.0,1509.8 530.0,1505.3 531.0,1511.1 532.0,1507.5 533.0,1514.2 534.0,1508.5 535.0,1507.3 536.0,1514.4 537.0,1508.6 538.0,1516.5 539.0,1513.2 540.0,1516.5 541.0,1509.7 542.0,1514.6 543.0,1515.8 544.0,1510.7 545.0,1516.0 546.0,1512.0 547.0,1513.8 548.0,1515.3 549.0,1518.0 550.0,1513.0 551.0,1513.2 552.0,1518.8 553.0,1517.6 554.0,1514.0 555.0,1511.4 556.0,1515.1 557.0,1512.5 558.0,1510.1 559.0,1515.1 560.0,1508.7 561.0,1514.1 562.0,1511.8 563.0,1511.9 564.0,1511.9 565.0,1512.4 566.0,1513.1 567.0,1514.3 568.0,1508.4 569.0,1507.6 570.0,1515.3 571.0,1509.0 572.0,1509.6 573.0,1515.1 574.0,1517.3 575.0,1516.4 576.0,1513.9 577.0,1512.3 578.0,1518.5 579.0,1515.9 580.0,1513.7 581.0,1506.4 582.0,1507.2 583.0,1504.6 584.0,1512.2 585.0,1505.1 586.0,1503.3 587.0,1506.6 588.0,1502.4 589.0,1504.5 590.0,1506.7 591.0,1505.3 592.0,1497.8 593.0,1502.6 594.0,1495.1 594.2,1495.9 594.5,1493.8 594.8,1499.5 595.0,1492.3 595.2,1496.8 595.5,1494.6 595.8,1494.2 596.0,1487.5 596.2,1489.8 596.5,1492.1 596.8,1486.4 597.0,1480.4 597.2,1476.8 597.5,1477.6 597.8,1479.6 598.0,1469.9 598.2,1467.5 598.5,1470.2 598.8,1467.6 599.0,1459.1 599.2,1456.1 599.5,1447.1 599.8,1442.0 600.0,1439.2 600.2,1429.8 600.5,1425.2 600.8,1414.9 601.0,1413.9 601.2,1402.1 601.5,1387.9 601.8,1379.1 602.0,1376.1 602.2,1361.3 602.5,1349.4 602.8,1336.7 603.0,1332.2 603.2,1319.7 603.5,1311.5 603.8,1294.6 604.0,1289.1 604.2,1280.0 604.5,1269.8 604.8,1260.0 605.0,1249.5 605.2,1239.9 605.5,1241.4 605.8,1233.2 606.0,1232.7 606.2,1236.7 606.5,1236.5 606.8,1243.6 607.0,1253.0 607.2,1254.0 607.5,1268.3 607.8,1279.8 608.0,1280.7 608.2,1295.5 608.5,1309.0 608.8,1320.3 609.0,1326.9 609.2,1343.2 609.5,1349.8 609.8,1359.1 610.0,1372.5 610.2,1383.2 610.5,1394.0 610.8,1401.2 611.0,1404.4 611.2,1417.2 611.5,1421.9 611.8,1432.6 612.0,1432.1 612.2,1443.9 612.5,1450.5 612.8,1448.9 613.0,1452.9 613.2,1465.2 613.5,1468.2 613.8,1464.3 614.0,1473.8 614.2,1471.4 614.5,1475.9 614.8,1477.5 615.0,1478.3 615.2,1485.2 615.5,1484.4 615.8,1488.6 616.0,1487.4 616.2,1491.6 616.5,1489.7 616.8,1489.7 617.0,1491.3 617.2,1486.6 617.5,1494.3 617.8,1488.9 618.0,1497.6 619.0,1491.1 620.0,1499.1 621.0,1500.6 622.0,1499.0 623.0,1495.1 624.0,1502.2 625.0,1497.7 626.0,1497.8 627.0,1502.2 628.0,1506.0 629.0,1498.1 630.0,1502.6 631.0,1505.9 632.0,1503.0 633.0,1509.2 634.0,1506.9 635.0,1501.7 636.0,1502.5 637.0,1501.6 638.0,1504.6 639.0,1508.5 640.0,1500.3 641.0,1500.1 642.0,1500.6 643.0,1503.2 644.0,1501.2 645.0,1501.3 646.0,1498.3 647.0,1505.3 648.0,1501.6 649.0,1505.4 650.0,1496.1 651.0,1499.5 652.0,1496.9 653.0,1500.1 654.0,1497.4 655.0,1494.5 656.0,1489.5 657.0,1492.3 658.0,1493.9 659.0,1490.9 660.0,1489.3 661.0,1482.2 662.0,1476.8 663.0,1471.9 664.0,1473.8 665.0,1470.7 666.0,1466.4 667.0,1469.8 668.0,1468.9 669.0,1475.1 670.0,1475.1 671.0,1473.4 672.0,1479.3 673.0,1482.5 674.0,1480.6 675.0,1488.9 676.0,1484.3 677.0,1474.7 678.0,1472.2 679.0,1466.9 680.0,1473.6 681.0,1463.0 682.0,1466.6 683.0,1463.6 684.0,1463.9 685.0,1469.2 686.0,1474.7 687.0,1484.3 688.0,1484.9 689.0,1484.1 690.0,1493.4 691.0,1490.0 692.0,1486.6 693.0,1495.8 694.0,1492.8 695.0,1491.0 696.0,1488.7 697.0,1494.8 698.0,1489.9 699.0,1497.7 700.0,1495.6 701.0,1494.9 702.0,1495.2 703.0,1495.5 704.0,1490.7 705.0,1493.4 706.0,1485.7 707.0,1489.9 708.0,1489.9 709.0,1484.4 710.0,1482.8 711.0,1489.9 712.0,1489.1 713.0,1481.0 714.0,1484.8 715.0,1480.0 716.0,1479.9 717.0,1486.8 718.0,1483.9 719.0,1484.4 720.0,1479.6 721.0,1483.8 722.0,1482.2 723.0,1478.4 724.0,1479.6 725.0,1476.2 726.0,1479.5 727.0,1469.0 728.0,1465.4 729.0,1463.0 730.0,1455.2 731.0,1447.9 732.0,1445.6 733.0,1453.8 734.0,1454.0 735.0,1459.1 736.0,1460.6 737.0,1461.2 738.0,1457.9 739.0,1459.8 740.0,1453.1 741.0,1452.3 742.0,1457.5 743.0,1453.3 744.0,1452.9 745.0,1443.5 746.0,1441.4 747.0,1440.1 748.0,1433.5 749.0,1430.0 750.0,1418.5 751.0,1414.5 752.0,1403.5 753.0,1390.9 754.0,1368.1 754.2,1367.6 754.5,1356.4 754.8,1353.3 755.0,1350.7 755.2,1340.2 755.5,1332.3 755.8,1322.8 756.0,1315.9 756.2,1306.6 756.5,1299.3 756.8,1288.3 757.0,1275.7 757.2,1262.6 757.5,1258.2 757.8,1241.9 758.0,1223.9 758.2,1210.1 758.5,1198.2 758.8,1178.4 759.0,1167.9 759.2,1146.4 759.5,1129.4 759.8,1109.6 760.0,1084.9 760.2,1071.1 760.5,1048.1 760.8,1018.8 761.0,1000.0 761.2,974.6 761.5,947.6 761.8,923.3 762.0,896.1 762.2,872.8 762.5,845.0 762.8,816.3 763.0,792.0 763.2,766.2 763.5,746.4 763.8,721.6 764.0,696.8 764.2,677.1 764.5,659.2 764.8,639.6 765.0,624.3 765.2,623.1 765.5,608.2 765.8,603.0 766.0,605.2 766.2,610.0 766.5,606.0 766.8,616.9 767.0,632.6 767.2,639.6 767.5,657.0 767.8,679.2 768.0,702.3 768.2,718.2 768.5,744.4 768.8,771.3 769.0,795.9 769.2,820.7 769.5,851.6 769.8,877.3 770.0,895.3 770.2,922.4 770.5,949.1 770.8,970.9 771.0,996.4 771.2,1024.4 771.5,1050.4 771.8,1066.4 772.0,1086.3 772.2,1111.1 772.5,1128.2 772.8,1144.2 773.0,1162.7 773.2,1187.2 773.5,1195.5 773.8,1215.1 774.0,1227.5 774.2,1244.5 774.5,1254.6 774.8,1264.1 775.0,1275.4 775.2,1286.4 775.5,1296.7 775.8,1306.8 776.0,1316.0 776.2,1327.2 776.5,1334.5 776.8,1337.4 777.0,1347.5 777.2,1358.1 777.5,1363.2 777.8,1362.6 778.0,1365.7 779.0,1384.8 780.0,1397.6 781.0,1410.4 782.0,1426.3 783.0,1433.0 784.0,1435.3 785.0,1441.8 786.0,1448.3 787.0,1452.0 788.0,1455.7 789.0,1459.1 790.0,1460.4 791.0,1457.5 792.0,1464.8 793.0,1466.5 794.0,1462.9 795.0,1464.6 796.0,1470.3 797.0,1468.9 798.0,1473.6 799.0,1468.8 800.0,1473.0 801.0,1473.6 802.0,1469.2 803.0,1471.5 804.0,1472.7 805.0,1472.0 806.0,1468.4 807.0,1468.6 808.0,1470.1 809.0,1465.7 810.0,1467.7 810.2,1465.1 810.5,1464.8 810.8,1461.1 811.0,1465.9 811.2,1458.1 811.5,1465.5 811.8,1461.1 812.0,1462.9 812.2,1457.9 812.5,1454.3 812.8,1453.1 813.0,1457.0 813.2,1452.3 813.5,1448.8 813.8,1445.1 814.0,1443.4 814.2,1443.6 814.5,1441.3 814.8,1441.7 815.0,1431.5 815.2,1429.8 815.5,1421.5 815.8,1417.3 816.0,1414.2 816.2,1411.0 816.5,1397.9 816.8,1390.7 817.0,1386.8 817.2,1375.8 817.5,1362.4 817.8,1357.0 818.0,1348.6 818.2,1334.6 818.5,1324.0 818.8,1306.9 819.0,1287.8 819.2,1276.5 819.5,1257.6 819.8,1236.7 820.0,1222.6 820.2,1212.1 820.5,1193.9 820.8,1177.6 821.0,1167.5 821.2,1157.0 821.5,1144.2 821.8,1141.9 822.0,1143.2 822.2,1138.6 822.5,1147.1 822.8,1150.6 823.0,1162.4 823.2,1180.3 823.5,1190.5 823.8,1210.5 824.0,1226.0 824.2,1242.1 824.5,1253.5 824.8,1272.5 825.0,1292.7 825.2,1305.5 825.5,1313.7 825.8,1331.7 826.0,1343.6 826.2,1355.6 826.5,1365.3 826.8,1379.4 827.0,1385.8 827.2,1398.2 827.5,1407.1 827.8,1413.9 828.0,1419.1 828.2,1416.8 828.5,1421.1 828.8,1426.6 829.0,1433.4 829.2,1434.8 829.5,1436.8 829.8,1448.0 830.0,1445.7 830.2,1445.7 830.5,1450.5 830.8,1456.8 831.0,1455.7 831.2,1459.7 831.5,1454.1 831.8,1461.9 832.0,1459.2 832.2,1460.0 832.5,1461.4 832.8,1462.1 833.0,1465.7 833.2,1462.1 833.5,1465.1 833.8,1465.9 834.0,1468.9 835.0,1470.5 836.0,1467.6 837.0,1476.5 838.0,1476.0 839.0,1471.8 840.0,1475.9 841.0,1480.2 842.0,1480.3 843.0,1475.7 844.0,1475.4 845.0,1483.1 846.0,1482.2 847.0,1483.3 848.0,1481.8 849.0,1486.8 850.0,1481.0 851.0,1486.7 852.0,1486.1 853.0,1484.3 854.0,1482.0 855.0,1484.8 856.0,1482.2 857.0,1481.6 858.0,1479.3 859.0,1483.8 860.0,1477.2 861.0,1479.3 862.0,1477.3 863.0,1480.6 864.0,1470.1 865.0,1471.5 866.0,1465.0 867.0,1468.5 867.2,1458.7 867.5,1465.0 867.8,1460.5 868.0,1454.1 868.2,1454.6 868.5,1451.9 868.8,1451.7 869.0,1454.1 869.2,1448.9 869.5,1451.9 869.8,1449.8 870.0,1441.2 870.2,1437.0 870.5,1439.2 870.8,1432.5 871.0,1428.1 871.2,1430.1 871.5,1422.6 871.8,1415.3 872.0,1413.1 872.2,1406.9 872.5,1402.9 872.8,1392.1 873.0,1385.2 873.2,1372.7 873.5,1369.1 873.8,1358.4 874.0,1337.6 874.2,1331.1 874.5,1318.4 874.8,1301.3 875.0,1283.3 875.2,1258.7 875.5,1245.8 875.8,1217.8 876.0,1198.4 876.2,1172.5 876.5,1144.3 876.8,1119.7 877.0,1091.5 877.2,1058.1 877.5,1030.8 877.8,1009.3 878.0,982.0 878.2,966.1 878.5,945.5 878.8,937.1 879.0,935.2 879.2,937.1 879.5,947.9 879.8,960.4 880.0,978.6 880.2,1003.2 880.5,1027.6 880.8,1057.2 881.0,1086.3 881.2,1119.5 881.5,1142.6 881.8,1170.2 882.0,1198.2 882.2,1217.5 882.5,1239.1 882.8,1262.5 883.0,1284.7 883.2,1297.1 883.5,1317.1 883.8,1329.4 884.0,1342.8 884.2,1355.4 884.5,1365.1 884.8,1372.9 885.0,1381.2 885.2,1388.0 885.5,1403.9 885.8,1407.4 886.0,1415.0 886.2,1414.8 886.5,1421.5 886.8,1425.9 887.0,1425.5 887.2,1433.7 887.5,1437.2 887.8,1439.0 888.0,1441.0 888.2,1442.9 888.5,1443.2 888.8,1450.5 889.0,1448.1 889.2,1448.9 889.5,1458.7 889.8,1459.3 890.0,1455.7 890.2,1458.3 890.5,1456.7 890.8,1465.6 891.0,1460.1 892.0,1469.1 893.0,1471.1 894.0,1467.1 895.0,1469.5 896.0,1475.8 897.0,1473.1 898.0,1483.3 899.0,1484.6 900.0,1481.8 901.0,1479.3 902.0,1479.3 903.0,1479.2 904.0,1483.9 905.0,1480.3 906.0,1481.5 907.0,1486.9 908.0,1488.0 909.0,1484.4 910.0,1487.0 911.0,1484.9 912.0,1480.5 913.0,1478.5 914.0,1476.6 915.0,1481.3 916.0,1476.7 917.0,1479.1 918.0,1474.6 919.0,1477.4 920.0,1474.8 921.0,1474.5 922.0,1478.1 923.0,1480.2 924.0,1474.9 925.0,1484.4 926.0,1479.7 927.0,1485.7 928.0,1487.2 929.0,1491.6 930.0,1488.8 931.0,1495.3 932.0,1498.1 933.0,1495.7 934.0,1499.0 935.0,1497.4 936.0,1501.2 937.0,1502.5 938.0,1499.2 939.0,1494.3 940.0,1502.6 941.0,1499.0 942.0,1494.9 943.0,1499.8 944.0,1497.3 945.0,1494.3 946.0,1496.4 947.0,1499.1 948.0,1496.5 949.0,1494.7 950.0,1493.9 951.0,1496.3 952.0,1499.9 953.0,1496.7 954.0,1496.8 955.0,1500.4 956.0,1498.7 957.0,1502.1 958.0,1500.2 959.0,1501.6 960.0,1497.7 961.0,1500.8 962.0,1502.6 963.0,1492.6 964.0,1496.7 965.0,1498.9 966.0,1493.3 967.0,1491.2 968.0,1495.5 969.0,1491.4 970.0,1493.3 971.0,1493.4 972.0,1500.8 973.0,1495.4 974.0,1504.0 975.0,1501.3 976.0,1500.7 977.0,1498.7 978.0,1501.5 979.0,1501.2 980.0,1506.5 981.0,1503.3 982.0,1499.3 983.0,1507.9 984.0,1508.7 985.0,1510.3 986.0,1503.6 987.0,1505.6 988.0,1508.4 989.0,1502.9 990.0,1506.0 991.0,1505.0 992.0,1510.9 993.0,1503.4 994.0,1512.2 995.0,1503.9 996.0,1513.3 997.0,1508.9 998.0,1507.0 999.0,1509.7 1000.0,1515.5 1001.0,1508.7 1002.0,1515.5 1003.0,1516.4 1004.0,1510.2 1005.0,1514.5 1006.0,1514.1 1007.0,1517.6 1008.0,1510.1 1009.0,1512.3 1010.0,1513.7 1011.0,1508.4 1012.0,1509.3 1013.0,1514.3 1014.0,1512.7 1015.0,1512.8 1016.0,1515.8 1017.0,1509.6 1018.0,1515.8 1019.0,1509.6 1020.0,1514.7 1021.0,1512.7 1022.0,1512.8 1023.0,1511.8 1024.0,1513.2 1025.0,1509.0 1026.0,1513.5 1027.0,1507.7 1028.0,1512.8 1029.0,1516.6 1030.0,1516.9 1031.0,1509.7 1032.0,1516.7 1033.0,1513.7 1034.0,1512.8 1035.0,1512.6 1036.0,1514.2 1037.0,1513.6 1038.0,1519.1 1039.0,1517.0 1040.0,1511.1 1041.0,1517.4 1042.0,1516.6 1043.0,1520.9 1044.0,1514.1 1045.0,1518.3 1046.0,1514.8 1047.0,1510.2 1048.0,1507.4 1049.0,1513.4 1050.0,1503.7 1051.0,1504.1 1052.0,1504.0 1053.0,1499.8 1054.0,1499.9 1055.0,1493.9 1056.0,1496.7 1057.0,1492.7 1058.0,1490.6 1059.0,1490.7 1060.0,1480.1 1061.0,1483.1 1062.0,1482.3 1063.0,1486.0 1064.0,1490.8 1065.0,1495.0 1066.0,1491.7 1067.0,1499.6 1068.0,1501.2 1069.0,1500.2 1070.0,1505.6 1071.0,1502.7 1072.0,1509.4 1073.0,1510.6 1074.0,1505.8 1075.0,1512.0 1076.0,1511.5 1077.0,1510.4 1078.0,1511.9 1079.0,1514.8 1080.0,1516.9 1081.0,1517.0 1082.0,1518.0 1083.0,1513.2 1084.0,1510.7 1085.0,1512.9 1086.0,1515.6 1087.0,1513.5 1088.0,1517.9 1089.0,1513.0 1090.0,1513.9 1091.0,1514.5 1092.0,1519.8 1093.0,1515.0 1094.0,1510.9 1095.0,1517.0 1096.0,1517.6 1097.0,1514.6 1098.0,1506.5 1099.0,1513.9 1100.0,1507.1 1101.0,1512.5 1102.0,1512.4 1103.0,1511.1 1104.0,1504.4 1105.0,1507.2 1106.0,1503.9 1107.0,1509.5 1108.0,1502.0 1109.0,1505.6 1110.0,1508.0 1111.0,1509.5 1112.0,1506.6 1113.0,1503.2 1114.0,1511.1 1115.0,1506.6 1116.0,1509.4 1117.0,1504.8 1118.0,1508.7 1119.0,1515.3 1120.0,1513.6 1121.0,1514.0 1122.0,1513.2 1123.0,1510.2 1124.0,1511.4 1125.0,1518.5 1126.0,1510.8 1127.0,1516.7 1128.0,1514.1 1129.0,1516.6 1130.0,1510.1 1131.0,1508.8 1132.0,1511.9 1133.0,1508.3 1134.0,1512.3 1135.0,1513.4 1136.0,1503.3 1137.0,1503.3 1138.0,1501.1 1139.0,1502.5 1140.0,1499.7 1141.0,1502.7 1142.0,1499.0 1143.0,1499.1 1144.0,1503.2 1145.0,1503.7 1146.0,1497.6 1147.0,1499.7 1148.0,1503.4 1149.0,1503.0 1150.0,1499.7 1151.0,1508.3 1152.0,1509.5 1153.0,1506.7 1154.0,1503.5 1155.0,1510.0 1156.0,1504.0 1157.0,1503.7 1158.0,1507.7 1158.5,1507.4 1158.8,1513.0 1159.0,1505.8 1159.2,1504.6 1159.5,1506.8 1159.8,1510.7 1160.0,1508.7 1160.2,1502.2 1160.5,1503.0 1160.8,1510.0 1161.0,1506.0 1161.2,1504.4 1161.5,1500.8 1161.8,1502.3 1162.0,1499.9 1162.2,1507.3 1162.5,1508.0 1162.8,1503.8 1163.0,1505.9 1163.2,1499.7 1163.5,1501.2 1163.8,1503.1 1164.0,1503.3 1164.2,1501.7 1164.5,1495.7 1164.8,1503.6 1165.0,1496.4 1165.2,1499.7 1165.5,1500.9 1165.8,1493.0 1166.0,1494.6 1166.2,1495.5 1166.5,1497.6 1166.8,1493.5 1167.0,1488.8 1167.2,1489.4 1167.5,1484.4 1167.8,1476.8 1168.0,1473.6 1168.2,1472.4 1168.5,1466.1 1168.8,1456.2 1169.0,1445.8 1169.2,1433.7 1169.5,1429.6 1169.8,1413.9 1170.0,1409.1 1170.2,1404.7 1170.5,1400.9 1170.8,1401.3 1171.0,1402.4 1171.2,1418.4 1171.5,1431.9 1171.8,1436.0 1172.0,1451.5 1172.2,1457.8 1172.5,1468.3 1172.8,1473.9 1173.0,1475.2 1173.2,1481.4 1173.5,1481.7 1173.8,1484.7 1174.0,1489.3 1174.2,1495.9 1174.5,1494.4 1174.8,1500.1 1175.0,1499.0 1175.2,1502.6 1175.5,1501.9 1175.8,1499.8 1176.0,1497.1 1176.2,1501.4 1176.5,1501.7 1176.8,1498.6 1177.0,1498.8 1177.2,1507.3 1177.5,1506.3 1177.8,1501.6 1178.0,1498.4 1178.2,1501.0 1178.5,1504.2 1178.8,1508.0 1179.0,1499.8 1179.2,1507.2 1179.5,1509.1 1179.8,1509.6 1180.0,1506.5 1180.2,1508.5 1180.5,1507.3 1180.8,1502.1 1181.0,1504.5 1181.2,1511.4 1181.5,1503.5 1181.8,1503.9 1182.0,1507.8 1182.2,1510.2 1183.0,1505.6 1184.0,1508.1 1185.0,1513.2 1186.0,1512.8 1187.0,1506.2 1188.0,1513.0 1189.0,1508.6 1190.0,1516.6 1191.0,1514.8 1192.0,1516.6 1193.0,1513.5 1194.0,1509.2 1195.0,1510.8 1196.0,1509.2 1197.0,1514.9 1198.0,1515.4 1199.0,1510.3 1200.0,1513.4 1201.0,1507.1 1202.0,1509.0 1203.0,1508.0 1204.0,1508.7 1205.0,1503.9 1206.0,1503.7 1207.0,1500.2 1208.0,1502.1 1209.0,1497.3 1210.0,1499.7 1211.0,1492.8 1212.0,1485.9 1213.0,1481.6 1214.0,1483.6 1215.0,1481.4 1216.0,1472.0 1217.0,1478.3 1218.0,1485.8 1219.0,1488.0 1220.0,1482.7 1221.0,1488.7 1222.0,1494.8 1223.0,1495.0 1224.0,1492.6 1225.0,1498.2 1226.0,1499.6 1227.0,1500.7 1228.0,1507.6 1229.0,1506.6 1230.0,1510.0 1231.0,1509.2 1232.0,1512.3 1233.0,1508.2 1234.0,1513.7 1235.0,1510.2 1236.0,1513.6 1237.0,1507.9 1238.0,1514.4 1239.0,1510.0 1240.0,1515.8 1241.0,1509.7 1242.0,1510.5 1243.0,1512.0 1244.0,1516.2 1245.0,1514.6 1246.0,1509.9 1247.0,1512.0 1248.0,1515.2 1249.0,1515.7 1250.0,1514.5 1251.0,1510.7 1252.0,1516.8 1253.0,1512.0 1254.0,1515.3 1255.0,1516.0 1256.0,1515.1 1257.0,1509.6 1258.0,1510.6 1259.0,1516.0 1260.0,1515.4 1261.0,1517.2 1262.0,1515.2 1263.0,1515.5 1264.0,1517.5 1265.0,1516.9 1266.0,1511.0 1267.0,1516.0 1268.0,1516.2 1269.0,1507.9 1270.0,1511.1 1271.0,1511.6 1272.0,1511.4 1273.0,1514.8 1274.0,1506.2 1275.0,1506.9 1276.0,1514.3 1277.0,1509.6 1278.0,1510.9 1279.0,1507.5 1280.0,1514.9 1281.0,1509.7 1282.0,1504.5 1283.0,1513.0 1284.0,1510.9 1285.0,1508.3 1286.0,1506.8 1287.0,1508.1 1288.0,1516.6 1289.0,1510.0 1290.0,1511.5 1291.0,1515.3 1292.0,1509.9 1293.0,1516.5 1294.0,1512.9 1295.0,1510.0 1296.0,1504.3 1297.0,1501.9 1298.0,1503.8 1299.0,1503.5 1300.0,1497.3 1301.0,1498.3 1302.0,1488.2 1303.0,1491.8 1304.0,1484.4 1305.0,1482.6 1306.0,1478.1 1307.0,1484.9 1308.0,1475.2 1309.0,1473.9 1310.0,1474.2 1311.0,1473.1 1312.0,1480.1 1313.0,1476.2 1314.0,1479.0 1315.0,1482.7 1316.0,1492.2 1317.0,1494.2 1318.0,1498.2 1319.0,1498.2 1320.0,1495.5 1321.0,1503.2 1322.0,1501.6 1323.0,1501.8 1324.0,1504.2 1325.0,1509.3 1326.0,1509.4 1327.0,1512.4 1328.0,1512.7 1329.0,1514.2 1330.0,1514.6 1331.0,1516.6 1332.0,1516.2 1333.0,1516.1 1334.0,1513.1 1335.0,1512.5 1336.0,1518.1 1337.0,1516.4 1338.0,1517.3 1339.0,1512.9 1340.0,1509.6 1341.0,1517.2 1342.0,1512.4 1343.0,1518.3 1344.0,1511.8 1345.0,1512.4 1346.0,1512.5 1347.0,1512.2 1348.0,1519.2 1349.0,1512.4 1350.0,1515.2 1351.0,1517.9 1352.0,1518.4 1353.0,1519.7 1354.0,1518.1 1355.0,1514.6 1356.0,1514.2 1357.0,1520.5 1358.0,1516.0 1359.0,1514.6 1360.0,1515.8 1361.0,1514.5 1362.0,1520.6 1363.0,1515.5 1364.0,1519.1 1365.0,1517.4 1366.0,1519.2 1367.0,1523.2 1368.0,1519.1 1369.0,1516.5 1370.0,1521.9 1371.0,1518.0 1372.0,1517.2 1373.0,1522.2 1374.0,1516.5 1375.0,1517.5 1376.0,1519.1 1377.0,1522.9 1378.0,1523.0 1379.0,1519.6 1380.0,1515.6 1381.0,1515.7 1382.0,1516.5 1383.0,1524.9 1384.0,1519.8 1385.0,1520.6 1386.0,1522.6 1387.0,1520.1 1388.0,1516.4 1389.0,1520.8 1390.0,1515.3 1391.0,1516.0 1392.0,1512.6 1393.0,1518.2 1394.0,1519.0 1395.0,1513.8 1396.0,1510.5 1397.0,1512.5 1398.0,1509.7 1399.0,1509.3 1400.0,1511.8 1401.0,1510.1 1402.0,1508.1 1403.0,1503.3 1404.0,1500.2 1405.0,1492.4 1405.2,1489.3 1405.5,1483.5 1405.8,1487.8 1406.0,1479.6 1406.2,1481.4 1406.5,1477.9 1406.8,1469.3 1407.0,1466.8 1407.2,1460.6 1407.5,1457.2 1407.8,1452.1 1408.0,1435.5 1408.2,1436.4 1408.5,1421.9 1408.8,1412.3 1409.0,1407.7 1409.2,1392.2 1409.5,1382.8 1409.8,1366.2 1410.0,1351.5 1410.2,1341.0 1410.5,1322.8 1410.8,1314.1 1411.0,1289.0 1411.2,1271.9 1411.5,1261.6 1411.8,1236.1 1412.0,1220.0 1412.2,1194.7 1412.5,1180.9 1412.8,1159.2 1413.0,1141.5 1413.2,1120.1 1413.5,1099.7 1413.8,1078.6 1414.0,1059.8 1414.2,1043.4 1414.5,1021.7 1414.8,1008.3 1415.0,987.6 1415.2,980.9 1415.5,966.1 1415.8,951.6 1416.0,943.1 1416.2,936.2 1416.5,928.0 1416.8,928.3 1417.0,926.8 1417.2,927.6 1417.5,929.9 1417.8,933.0 1418.0,945.8 1418.2,951.8 1418.5,959.1 1418.8,978.7 1419.0,986.0 1419.2,1007.3 1419.5,1023.1 1419.8,1043.9 1420.0,1061.8 1420.2,1076.2 1420.5,1097.7 1420.8,1113.7 1421.0,1137.3 1421.2,1156.0 1421.5,1177.6 1421.8,1196.8 1422.0,1221.8 1422.2,1238.9 1422.5,1260.0 1422.8,1273.5 1423.0,1290.3 1423.2,1312.7 1423.5,1322.5 1423.8,1334.6 1424.0,1351.1 1424.2,1369.6 1424.5,1379.1 1424.8,1393.8 1425.0,1404.5 1425.2,1416.9 1425.5,1419.3 1425.8,1436.2 1426.0,1437.7 1426.2,1446.6 1426.5,1457.6 1426.8,1457.1 1427.0,1463.2 1427.2,1466.0 1427.5,1467.9 1427.8,1475.2 1428.0,1475.0 1428.2,1478.4 1428.5,1484.3 1428.8,1486.1 1429.0,1493.7 1430.0,1495.4 1431.0,1497.5 1432.0,1498.9 1433.0,1506.3 1434.0,1505.8 1435.0,1505.3 1436.0,1501.4 1437.0,1505.5 1438.0,1501.0 1439.0,1500.9 1440.0,1503.2 1441.0,1500.2 1442.0,1500.2 1443.0,1503.9 1444.0,1507.2 1445.0,1502.1 1446.0,1508.4 1447.0,1502.4 1448.0,1505.5 1449.0,1505.3 1450.0,1508.9 1451.0,1507.4 1452.0,1507.5 1453.0,1503.2 1454.0,1504.7 1455.0,1506.0 1456.0,1509.8 1457.0,1512.1 1458.0,1514.5 1459.0,1514.7 1460.0,1516.1 1461.0,1518.5 1462.0,1518.3 1463.0,1513.9 1464.0,1515.9 1465.0,1515.1 1466.0,1521.1 1467.0,1520.4 1468.0,1514.8 1469.0,1516.0 1470.0,1514.1 1471.0,1520.5 1472.0,1519.9 1473.0,1519.0 1474.0,1517.6 1475.0,1516.6 1476.0,1516.0 1477.0,1512.5 1478.0,1516.0 1479.0,1517.0 1480.0,1517.5 1481.0,1511.1 1482.0,1518.9 1483.0,1516.3 1484.0,1515.8 1485.0,1511.2 1486.0,1514.1 1487.0,1515.5 1488.0,1510.7 1489.0,1514.7 1490.0,1513.9 1491.0,1515.8 1492.0,1514.6 1493.0,1516.8 1494.0,1519.4 1495.0,1517.0 1496.0,1512.4 1497.0,1513.3 1498.0,1517.4 1499.0,1518.7 1500.0,1521.4 1501.0,1519.6 1502.0,1520.2 1503.0,1516.8 1504.0,1525.1 1505.0,1522.8 1506.0,1526.8 1507.0,1525.6 1508.0,1526.1 1509.0,1522.0 1510.0,1515.5 1511.0,1518.6 1512.0,1519.8 1513.0,1516.6 1514.0,1514.5 1515.0,1521.2 1516.0,1520.8 1517.0,1514.5 1518.0,1512.6 1519.0,1519.2 1520.0,1517.9 1521.0,1513.0 1522.0,1511.7 1523.0,1511.6 1524.0,1514.4 1525.0,1515.9 1526.0,1514.7 1527.0,1509.4 1528.0,1511.5 1529.0,1514.3 1530.0,1515.4 1531.0,1512.1 1532.0,1513.1 1533.0,1515.5 1534.0,1515.8 1535.0,1516.8 1536.0,1515.0 1537.0,1510.0 1538.0,1511.3 1539.0,1514.0 1540.0,1511.2 1541.0,1517.0 1542.0,1510.4 1543.0,1516.3 1544.0,1510.2 1545.0,1516.3 1546.0,1515.9 1547.0,1518.1 1548.0,1514.6 1549.0,1516.7 1550.0,1516.1 1551.0,1510.8 1552.0,1512.4 1553.0,1508.3 1554.0,1509.2 1555.0,1515.2 1556.0,1508.6 1557.0,1510.3 1558.0,1501.3 1559.0,1495.0 1560.0,1477.1 1561.0,1468.9 1562.0,1451.5 1563.0,1466.7 1564.0,1468.3 1565.0,1480.4 1566.0,1492.3 1567.0,1498.1 1568.0,1503.8 1569.0,1506.5 1570.0,1505.0 1571.0,1503.6 1572.0,1510.8 1573.0,1513.8 1574.0,1509.5 1575.0,1513.1 1576.0,1517.6 1577.0,1513.1 1578.0,1514.0 1579.0,1513.3 1580.0,1509.8 1581.0,1516.2 1582.0,1512.9 1583.0,1512.5 1584.0,1511.5 1585.0,1511.7 1586.0,1507.5 1587.0,1510.9 1588.0,1500.9 1589.0,1502.6 1590.0,1501.0 1591.0,1503.6 1592.0,1505.5 1593.0,1506.9 1594.0,1508.4 1595.0,1508.8 1596.0,1504.5 1597.0,1505.0 1598.0,1505.6 1599.0,1501.3 1600.0,1505.9 1601.0,1508.8 1602.0,1504.1 1603.0,1507.0 1604.0,1506.1 1605.0,1506.6 1606.0,1509.6 1607.0,1510.6 1608.0,1507.0 1609.0,1512.6 1610.0,1512.3 1611.0,1515.8 1612.0,1513.3 1613.0,1507.0 1614.0,1508.3 1615.0,1515.4 1616.0,1508.1 1617.0,1508.3 1618.0,1510.7 1619.0,1513.9 1620.0,1511.2 1621.0,1507.0 1622.0,1511.2 1623.0,1516.7 1624.0,1510.0 1625.0,1514.2 1626.0,1510.7 1627.0,1507.6 1628.0,1510.3 1629.0,1511.1 1630.0,1514.0 1631.0,1506.3 1632.0,1512.2 1633.0,1504.5 1634.0,1505.0 1635.0,1505.7 1636.0,1509.3 1637.0,1501.7 1638.0,1499.9 1639.0,1496.1 1640.0,1496.5 1641.0,1499.0 1642.0,1498.4 1643.0,1494.1 1644.0,1497.3 1645.0,1487.3 1646.0,1492.2 1647.0,1488.4 1648.0,1488.1 1649.0,1484.1 1650.0,1480.4 1651.0,1477.6 1652.0,1475.2 1653.0,1478.5 1654.0,1482.7 1655.0,1474.7 1656.0,1481.2 1657.0,1478.2 1658.0,1474.2 1659.0,1470.9 1660.0,1469.2 1661.0,1473.1 1661.2,1468.5 1661.5,1471.6 1661.8,1463.3 1662.0,1459.8 1662.2,1461.6 1662.5,1455.3 1662.8,1456.0 1663.0,1453.9 1663.2,1454.6 1663.5,1447.1 1663.8,1435.6 1664.0,1430.8 1664.2,1424.2 1664.5,1422.9 1664.8,1416.7 1665.0,1408.2 1665.2,1402.0 1665.5,1386.0 1665.8,1377.5 1666.0,1368.9 1666.2,1354.5 1666.5,1337.5 1666.8,1319.9 1667.0,1304.4 1667.2,1294.9 1667.5,1269.8 1667.8,1250.0 1668.0,1237.4 1668.2,1215.0 1668.5,1193.2 1668.8,1173.2 1669.0,1147.3 1669.2,1125.4 1669.5,1101.2 1669.8,1077.5 1670.0,1060.0 1670.2,1034.9 1670.5,1014.7 1670.8,996.4 1671.0,978.0 1671.2,962.0 1671.5,945.6 1671.8,927.5 1672.0,914.5 1672.2,910.1 1672.5,898.8 1672.8,896.3 1673.0,899.7 1673.2,893.7 1673.5,900.6 1673.8,906.6 1674.0,919.2 1674.2,931.2 1674.5,942.9 1674.8,965.8 1675.0,979.8 1675.2,994.7 1675.5,1021.0 1675.8,1040.4 1676.0,1059.0 1676.2,1085.2 1676.5,1108.3 1676.8,1127.2 1677.0,1155.6 1677.2,1175.6 1677.5,1191.5 1677.8,1213.6 1678.0,1233.1 1678.2,1258.5 1678.5,1273.2 1678.8,1294.7 1679.0,1312.7 1679.2,1323.8 1679.5,1348.0 1679.8,1361.4 1680.0,1374.4 1680.2,1380.1 1680.5,1391.3 1680.8,1399.6 1681.0,1416.8 1681.2,1423.7 1681.5,1425.2 1681.8,1430.7 1682.0,1443.9 1682.2,1444.5 1682.5,1450.0 1682.8,1458.1 1683.0,1462.0 1683.2,1462.6 1683.5,1468.5 1683.8,1467.9 1684.0,1469.6 1684.2,1473.1 1684.5,1474.4 1684.8,1473.7 1685.0,1479.4 1686.0,1482.8 1687.0,1481.0 1688.0,1486.4 1689.0,1487.0 1690.0,1488.4 1691.0,1488.9 1692.0,1489.9 1693.0,1487.6 1694.0,1487.1 1695.0,1489.5 1695.2,1481.8 1695.5,1487.4 1695.8,1481.2 1696.0,1480.7 1696.2,1487.9 1696.5,1480.1 1696.8,1479.9 1697.0,1485.9 1697.2,1481.0 1697.5,1481.2 1697.8,1482.2 1698.0,1479.8 1698.2,1480.9 1698.5,1476.9 1698.8,1478.8 1699.0,1471.5 1699.2,1467.3 1699.5,1469.4 1699.8,1467.4 1700.0,1462.0 1700.2,1450.6 1700.5,1448.3 1700.8,1443.6 1701.0,1435.4 1701.2,1429.6 1701.5,1421.7 1701.8,1408.1 1702.0,1398.7 1702.2,1381.0 1702.5,1367.6 1702.8,1355.5 1703.0,1332.9 1703.2,1319.1 1703.5,1300.9 1703.8,1279.3 1704.0,1264.6 1704.2,1246.0 1704.5,1225.5 1704.8,1204.2 1705.0,1187.4 1705.2,1173.7 1705.5,1155.5 1705.8,1146.2 1706.0,1134.7 1706.2,1118.8 1706.5,1115.8 1706.8,1111.7 1707.0,1110.3 1707.2,1112.8 1707.5,1115.8 1707.8,1118.9 1708.0,1130.1 1708.2,1145.6 1708.5,1160.4 1708.8,1171.3 1709.0,1189.7 1709.2,1204.6 1709.5,1228.3 1709.8,1248.2 1710.0,1260.4 1710.2,1286.6 1710.5,1299.8 1710.8,1318.1 1711.0,1335.7 1711.2,1356.0 1711.5,1366.1 1711.8,1383.4 1712.0,1398.2 1712.2,1407.5 1712.5,1418.4 1712.8,1428.6 1713.0,1436.5 1713.2,1438.9 1713.5,1448.3 1713.8,1453.3 1714.0,1456.7 1714.2,1466.2 1714.5,1465.3 1714.8,1468.9 1715.0,1470.7 1715.2,1475.1 1715.5,1477.7 1715.8,1483.7 1716.0,1477.8 1716.2,1485.1 1716.5,1481.5 1716.8,1488.0 1717.0,1484.4 1717.2,1486.9 1717.5,1487.6 1717.8,1489.7 1718.0,1490.2 1718.2,1488.2 1718.5,1488.3 1718.8,1487.6 1719.0,1487.7 1720.0,1492.3 1721.0,1486.9 1722.0,1490.1 1723.0,1486.2 1724.0,1489.6 1725.0,1484.7 1726.0,1482.2 1727.0,1482.5 1728.0,1482.2 1729.0,1477.1 1730.0,1474.4 1730.2,1476.2 1730.5,1473.1 1730.8,1478.3 1731.0,1473.4 1731.2,1473.5 1731.5,1472.8 1731.8,1467.8 1732.0,1468.6 1732.2,1463.0 1732.5,1456.1 1732.8,1456.3 1733.0,1450.8 1733.2,1445.4 1733.5,1439.5 1733.8,1435.8 1734.0,1427.5 1734.2,1417.8 1734.5,1402.2 1734.8,1395.5 1735.0,1383.2 1735.2,1364.2 1735.5,1354.1 1735.8,1331.0 1736.0,1316.1 1736.2,1291.2 1736.5,1267.3 1736.8,1244.4 1737.0,1218.4 1737.2,1185.4 1737.5,1159.6 1737.8,1123.6 1738.0,1093.2 1738.2,1061.0 1738.5,1023.9 1738.8,996.4 1739.0,959.1 1739.2,921.0 1739.5,892.2 1739.8,856.1 1740.0,824.5 1740.2,796.4 1740.5,769.0 1740.8,745.5 1741.0,732.2 1741.2,708.6 1741.5,701.3 1741.8,694.6 1742.0,692.2 1742.2,698.6 1742.5,697.2 1742.8,715.4 1743.0,724.6 1743.2,744.0 1743.5,770.4 1743.8,798.2 1744.0,827.4 1744.2,857.3 1744.5,896.3 1744.8,928.9 1745.0,961.1 1745.2,999.3 1745.5,1028.2 1745.8,1067.6 1746.0,1097.1 1746.2,1125.9 1746.5,1165.2 1746.8,1188.7 1747.0,1216.5 1747.2,1244.6 1747.5,1274.2 1747.8,1297.5 1748.0,1320.4 1748.2,1334.6 1748.5,1352.1 1748.8,1375.4 1749.0,1384.5 1749.2,1396.7 1749.5,1414.1 1749.8,1419.0 1750.0,1431.5 1750.2,1435.9 1750.5,1446.5 1750.8,1450.3 1751.0,1459.7 1751.2,1459.4 1751.5,1461.5 1751.8,1467.9 1752.0,1468.1 1752.2,1472.6 1752.5,1474.7 1752.8,1477.2 1753.0,1478.3 1753.2,1481.4 1753.5,1485.5 1753.8,1481.6 1754.0,1488.9 1755.0,1486.5 1756.0,1494.7 1757.0,1496.7 1758.0,1496.9 1759.0,1498.0 1760.0,1495.5 1761.0,1503.8 1762.0,1501.8 1763.0,1498.7 1764.0,1498.6 1765.0,1505.7 1766.0,1503.7 1767.0,1506.7 1768.0,1507.0 1769.0,1500.7 1770.0,1509.3 1771.0,1508.9 1772.0,1507.6 1773.0,1509.0 1774.0,1511.0 1775.0,1515.5 1776.0,1511.2 1777.0,1510.7 1778.0,1512.1 1779.0,1517.0 1780.0,1515.5 1781.0,1515.7 1782.0,1521.2 1783.0,1518.0 1784.0,1514.9 1785.0,1516.7 1786.0,1518.6 1787.0,1523.1 1788.0,1515.8 1789.0,1520.2 1790.0,1521.4 1791.0,1515.9 1792.0,1522.3 1793.0,1515.8 1794.0,1514.0 1795.0,1520.1 1796.0,1520.3 1797.0,1516.9 1798.0,1514.9 1799.0,1512.5 1800.0,1519.9 1801.0,1512.7 1802.0,1512.9 1803.0,1506.6 1804.0,1505.4 1805.0,1499.9 1806.0,1496.1 1807.0,1498.2 1808.0,1496.5 1809.0,1503.2 1810.0,1508.3 1811.0,1508.5 1812.0,1511.3 1813.0,1517.0 1814.0,1517.1 1815.0,1521.5 1816.0,1515.7 1817.0,1522.1 1818.0,1516.0 1819.0,1516.5 1820.0,1518.7 1821.0,1517.8 1822.0,1517.7 1823.0,1515.4 1824.0,1515.4 1825.0,1521.9 1826.0,1523.3 1827.0,1523.3 1828.0,1519.9 1829.0,1517.9 1830.0,1520.5 1831.0,1521.8 1832.0,1521.4 1833.0,1522.7 1834.0,1521.0 1835.0,1523.7 1836.0,1524.8 1837.0,1522.8 1838.0,1522.9 1839.0,1525.6 1840.0,1523.5 1841.0,1519.0 1842.0,1527.1 1843.0,1526.7 1844.0,1520.6 1845.0,1520.6 1846.0,1526.9 1847.0,1523.5 1848.0,1526.2 1849.0,1525.7 1850.0,1526.4 1851.0,1522.4 1852.0,1526.2 1853.0,1523.9 1854.0,1522.2 1855.0,1522.6 1856.0,1527.1 1857.0,1522.2 1858.0,1527.6 1859.0,1526.8 1860.0,1524.4 1861.0,1522.3 1862.0,1528.4 1863.0,1521.5 1864.0,1527.5 1865.0,1521.9 1866.0,1526.6 1867.0,1518.7 1868.0,1519.4 1869.0,1526.2 1870.0,1520.5 1871.0,1520.6 1872.0,1522.6 1873.0,1522.4 1874.0,1520.1 1875.0,1524.7 1876.0,1518.2 1877.0,1518.1 1878.0,1524.6 1879.0,1519.9 1880.0,1516.5 1881.0,1516.1 1882.0,1518.2 1883.0,1518.4 1884.0,1522.1 1885.0,1518.3 1886.0,1518.5 1887.0,1518.3 1888.0,1515.7 1889.0,1515.7 1890.0,1519.3 1891.0,1518.6 1892.0,1516.9 1893.0,1515.3 1894.0,1522.0 1895.0,1519.7 1896.0,1525.3 1897.0,1525.3 1898.0,1525.5 1899.0,1524.2 1900.0,1526.4 1901.0,1529.2 1902.0,1527.4 1903.0,1524.5 1904.0,1526.1 1905.0,1523.0 1906.0,1522.9 1907.0,1525.5 1908.0,1527.0 1909.0,1525.6 1910.0,1522.2 1911.0,1521.2 1912.0,1526.3 1913.0,1521.8 1914.0,1526.2 1915.0,1526.3 1916.0,1520.4 1917.0,1528.4 1918.0,1528.3 1919.0,1521.6 1920.0,1523.1 1921.0,1527.9 1922.0,1522.7 1923.0,1523.6 1924.0,1521.5 1925.0,1527.1 1926.0,1523.9 1927.0,1527.8 1928.0,1528.5 1929.0,1525.4 1930.0,1523.6 1931.0,1521.4 1932.0,1527.3 1933.0,1526.4 1934.0,1515.9 1935.0,1519.3 1936.0,1512.0 1937.0,1510.5 1938.0,1502.7 1939.0,1494.9 1940.0,1483.4 1941.0,1477.3 1942.0,1461.0 1943.0,1470.1 1944.0,1475.2 1945.0,1482.1 1946.0,1484.1 1947.0,1487.2 1948.0,1490.9 1949.0,1500.2 1950.0,1512.6 1951.0,1509.9 1952.0,1516.7 1953.0,1516.5 1954.0,1514.3 1955.0,1517.5 1956.0,1513.4 1957.0,1513.4 1958.0,1517.9 1959.0,1517.9 1960.0,1515.8 1961.0,1519.2 1962.0,1515.9 1963.0,1517.1 1964.0,1524.7 1965.0,1522.9 1966.0,1526.8 1967.0,1526.7 1968.0,1527.0 1969.0,1530.5 1970.0,1531.0 1971.0,1527.2 1972.0,1526.7 1973.0,1526.5 1974.0,1530.1 1975.0,1526.3 1976.0,1527.5 1977.0,1523.7 1978.0,1526.1 1979.0,1531.2 1980.0,1532.1 1981.0,1533.2 1982.0,1528.0 1983.0,1530.3 1984.0,1530.0 1985.0,1532.8 1986.0,1529.2 1987.0,1533.0 1988.0,1529.0 1989.0,1530.5 1990.0,1528.7 1991.0,1528.6 1992.0,1533.3 1993.0,1534.4 1994.0,1531.9 1995.0,1534.1 1996.0,1532.1 1997.0,1533.1 1998.0,1529.9 1999.0,1529.3 2000.0,1532.9 2001.0,1529.9 2002.0,1535.2 2003.0,1535.1 2004.0,1530.9 2005.0,1534.1 2006.0,1532.6 2007.0,1534.2 2008.0,1528.7 2009.0,1529.7 2010.0,1530.7 2011.0,1535.2 2012.0,1530.7 2013.0,1531.9 2014.0,1532.9 2015.0,1535.4 2016.0,1534.1 2017.0,1529.3 2018.0,1531.1 2019.0,1534.4 2020.0,1530.2 2021.0,1528.7 2022.0,1527.9 2023.0,1529.4 2024.0,1531.1 2025.0,1532.8 2026.0,1531.6 2027.0,1531.0 2028.0,1524.8 2029.0,1524.5 2030.0,1526.6 2031.0,1529.1 2032.0,1527.6 2033.0,1530.7 2034.0,1527.8 2035.0,1530.1 2036.0,1527.2 2037.0,1525.3 2038.0,1525.2 2039.0,1527.4 2040.0,1525.1 2041.0,1525.2 2042.0,1523.6 2043.0,1528.6 2044.0,1527.3 2045.0,1524.8 2046.0,1526.6 2047.0,1528.2 2048.0,1528.9 2049.0,1529.6 2050.0,1524.5 2051.0,1528.3 2052.0,1527.2 2053.0,1528.7 2054.0,1530.4 2055.0,1531.7 2056.0,1526.6 2057.0,1526.7 2058.0,1532.6 2059.0,1529.6 2060.0,1527.3 2061.0,1532.0 2062.0,1531.8 2063.0,1531.4 2064.0,1535.8 2065.0,1534.7 2066.0,1531.7 2067.0,1533.9 2068.0,1533.5 2069.0,1529.1 2070.0,1528.4 2071.0,1529.7 2072.0,1530.3 2073.0,1532.0 2074.0,1530.7 2075.0,1529.4 2076.0,1527.1 2077.0,1528.4 2078.0,1526.1 2079.0,1523.3 2080.0,1524.1 2081.0,1526.3 2082.0,1526.7 2083.0,1529.8 2084.0,1528.9 2085.0,1529.0 2086.0,1525.3 2087.0,1528.6 2088.0,1526.0 2089.0,1529.8 2090.0,1526.3 2091.0,1527.1 2092.0,1526.6 2093.0,1529.4 2094.0,1530.3 2095.0,1532.6 2096.0,1529.3 2097.0,1529.0 2098.0,1529.1 2099.0,1532.7 2100.0,1530.0 2101.0,1532.5 2102.0,1531.5 2103.0,1529.7 2104.0,1528.8 2105.0,1531.6 2106.0,1531.8 2107.0,1528.0 2108.0,1529.9 2109.0,1531.6 2110.0,1526.5 2111.0,1525.7 2112.0,1529.9 2113.0,1526.6 2114.0,1528.6 2115.0,1529.9 2116.0,1525.7 2117.0,1527.5 2118.0,1526.2 2119.0,1529.3 2120.0,1526.3 2121.0,1526.7 2122.0,1528.3 2123.0,1525.6 2124.0,1529.9 2125.0,1526.3 2126.0,1529.7 2127.0,1531.2 2128.0,1525.2 2129.0,1527.7 2130.0,1528.2 2131.0,1530.5 2132.0,1528.1 2133.0,1530.4 2134.0,1527.7 2135.0,1529.9 2136.0,1532.2 2137.0,1528.9 2138.0,1528.9 2139.0,1528.3 2140.0,1529.4 2141.0,1529.9 2142.0,1530.5 2143.0,1531.9 2144.0,1529.1 2145.0,1530.4 2146.0,1529.5 2147.0,1532.3 2148.0,1532.1 2149.0,1533.8 2150.0,1533.3 2151.0,1530.1 2152.0,1532.5 2153.0,1530.4 2154.0,1531.7 2155.0,1534.0 2156.0,1531.9 2157.0,1535.0 2158.0,1529.9 2159.0,1534.9 2160.0,1531.6 2161.0,1532.2 2162.0,1529.0 2163.0,1530.6 2164.0,1528.9 2165.0,1533.9 2166.0,1531.3 2167.0,1535.2 2168.0,1534.7 2169.0,1531.3 2170.0,1529.6 2171.0,1530.5 2172.0,1529.5 2173.0,1535.1 2174.0,1529.9 2175.0,1534.3 2176.0,1529.5 2177.0,1531.7 2178.0,1528.3 2179.0,1528.9 2180.0,1528.7 2181.0,1529.8 2182.0,1531.3 2183.0,1533.2 2184.0,1532.3 2185.0,1528.6 2186.0,1530.7 2187.0,1530.3 2188.0,1532.0 2189.0,1528.0 2190.0,1530.4 2191.0,1528.4 2192.0,1531.8 2193.0,1527.6 2194.0,1529.1 2195.0,1524.6 2196.0,1528.9 2197.0,1527.2 2198.0,1523.8 2199.0,1527.7 2200.0,1523.8 2201.0,1527.3 2202.0,1529.7 2203.0,1527.2 2204.0,1528.1 2205.0,1529.3 2206.0,1524.9 2207.0,1525.0 2208.0,1526.1 2209.0,1531.2 2210.0,1530.7 2211.0,1531.3 2212.0,1529.5 2213.0,1530.3 2214.0,1529.0 2215.0,1531.0 2216.0,1530.8 2217.0,1527.3 2218.0,1529.1 2219.0,1530.8 2220.0,1532.9 2221.0,1529.5 2222.0,1534.1 2223.0,1534.1 2224.0,1529.5 2225.0,1532.5 2226.0,1533.1 2227.0,1532.6 2228.0,1531.9 2229.0,1527.6 2230.0,1532.1 2231.0,1528.1 2232.0,1525.9 2233.0,1524.7 2234.0,1528.2 2235.0,1527.3 2236.0,1528.1 2237.0,1526.4 2238.0,1528.9 2239.0,1528.9 2240.0,1526.4 2241.0,1524.0 2242.0,1523.4 2243.0,1526.4 2244.0,1524.2 2245.0,1523.4 2246.0,1527.4 2247.0,1522.5 2248.0,1524.3 2249.0,1525.9 2250.0,1522.5 2251.0,1522.0 2252.0,1523.1 2253.0,1522.9 2254.0,1521.3 2255.0,1523.2 2256.0,1525.6 2257.0,1524.5"/>
<path stroke="#0000ff" d="M199.0,1275.0 200.0,1275.9 201.0,1281.4 202.0,1278.9 203.0,1273.4 204.0,1277.0 205.0,1277.5 206.0,1273.7 207.0,1279.5 208.0,1273.4 209.0,1275.4 210.0,1276.0 211.0,1275.8 212.0,1279.1 213.0,1282.8 214.0,1287.4 215.0,1284.1 216.0,1290.6 217.0,1290.8 218.0,1286.6 219.0,1283.3 220.0,1291.6 221.0,1284.2 222.0,1284.3 223.0,1289.6 224.0,1286.7 225.0,1285.4 226.0,1287.1 227.0,1279.6 228.0,1285.9 229.0,1282.3 230.0,1279.4 231.0,1285.6 232.0,1288.2 233.0,1280.5 234.0,1284.2 235.0,1281.8 236.0,1286.7 237.0,1286.4 238.0,1282.1 239.0,1287.9 240.0,1286.9 241.0,1287.6 242.0,1289.4 243.0,1286.3 244.0,1290.2 245.0,1292.4 246.0,1285.7 247.0,1294.1 248.0,1290.3 249.0,1292.0 250.0,1289.4 251.0,1295.4 252.0,1292.3 253.0,1299.6 254.0,1295.6 255.0,1298.5 256.0,1295.1 257.0,1295.2 258.0,1288.5 259.0,1286.4 260.0,1289.2 261.0,1289.5 262.0,1287.5 263.0,1291.0 264.0,1284.0 265.0,1291.1 266.0,1285.1 267.0,1293.7 268.0,1291.0 269.0,1291.0 270.0,1294.6 271.0,1293.5 272.0,1294.5 273.0,1288.2 274.0,1291.7 275.0,1289.2 276.0,1290.5 277.0,1290.9 278.0,1297.1 279.0,1291.3 280.0,1293.9 281.0,1296.3 282.0,1300.2 283.0,1302.3 284.0,1300.4 285.0,1296.1 286.0,1300.1 287.0,1302.8 288.0,1298.1 289.0,1304.5 290.0,1302.0 291.0,1304.1 292.0,1305.1 293.0,1305.1 294.0,1303.6 295.0,1304.3 296.0,1301.1 297.0,1303.4 298.0,1299.4 299.0,1303.4 300.0,1304.4 301.0,1307.2 302.0,1304.2 303.0,1301.2 304.0,1306.3 305.0,1303.3 306.0,1308.1 307.0,1305.4 308.0,1305.8 309.0,1311.3 310.0,1306.8 311.0,1307.5 312.0,1308.0 313.0,1310.1 314.0,1306.3 315.0,1309.6 316.0,1312.1 317.0,1307.3 318.0,1307.1 319.0,1307.6 320.0,1306.0 321.0,1304.3 322.0,1303.8 323.0,1304.8 324.0,1300.6 325.0,1302.1 326.0,1300.3 327.0,1300.0 328.0,1303.8 329.0,1301.1 330.0,1305.7 331.0,1306.3 332.0,1302.2 333.0,1305.6 334.0,1306.3 335.0,1309.1 336.0,1302.3 337.0,1301.9 338.0,1303.9 339.0,1301.8 340.0,1303.4 341.0,1299.3 342.0,1296.9 343.0,1302.4 344.0,1294.7 345.0,1293.2 346.0,1292.7 347.0,1291.6 348.0,1289.8 349.0,1290.9 350.0,1293.1 351.0,1284.6 352.0,1286.3 353.0,1287.9 354.0,1291.1 355.0,1294.0 356.0,1286.7 357.0,1291.9 358.0,1296.7 359.0,1290.3 360.0,1296.5 361.0,1293.6 362.0,1298.8 363.0,1299.8 364.0,1295.7 365.0,1289.9 366.0,1290.7 367.0,1294.5 368.0,1298.7 369.0,1292.5 370.0,1297.9 371.0,1295.6 372.0,1294.5 373.0,1299.9 374.0,1298.0 375.0,1299.5 376.0,1304.5 377.0,1303.8 378.0,1308.2 379.0,1306.7 380.0,1304.3 381.0,1308.7 382.0,1313.3 383.0,1310.2 384.0,1314.7 385.0,1305.6 386.0,1308.5 387.0,1314.1 388.0,1314.0 389.0,1312.5 390.0,1313.6 391.0,1316.1 392.0,1313.6 393.0,1312.0 394.0,1312.1 395.0,1313.3 396.0,1309.0 397.0,1311.0 398.0,1309.3 399.0,1310.2 400.0,1305.9 401.0,1300.1 402.0,1305.1 403.0,1307.9 404.0,1304.7 405.0,1304.0 406.0,1301.6 407.0,1300.4 408.0,1302.2 409.0,1293.6 410.0,1298.5 411.0,1295.8 412.0,1293.1 413.0,1282.1 414.0,1279.1 415.0,1284.0 416.0,1283.8 417.0,1287.0 418.0,1293.4 419.0,1300.4 420.0,1300.4 421.0,1306.5 422.0,1309.7 423.0,1310.8 424.0,1304.9 425.0,1313.3 426.0,1310.1 427.0,1310.2 428.0,1312.9 429.0,1310.6 430.0,1316.8 431.0,1312.0 432.0,1316.8 433.0,1313.4 434.0,1318.8 435.0,1321.5 436.0,1321.1 437.0,1313.9 438.0,1318.9 439.0,1321.5 440.0,1315.4 441.0,1317.8 442.0,1320.4 443.0,1320.6 444.0,1317.6 445.0,1319.6 446.0,1319.6 447.0,1316.9 448.0,1320.6 449.0,1320.7 450.0,1322.4 451.0,1320.6 452.0,1318.6 453.0,1318.6 454.0,1322.5 455.0,1314.2 456.0,1313.7 457.0,1312.5 458.0,1321.0 459.0,1322.9 460.0,1316.5 461.0,1317.3 462.0,1316.1 463.0,1319.6 464.0,1318.3 465.0,1321.5 466.0,1315.3 467.0,1321.7 468.0,1317.6 469.0,1321.1 470.0,1320.8 471.0,1321.8 472.0,1317.7 473.0,1319.0 474.0,1317.5 475.0,1313.6 476.0,1316.9 477.0,1321.5 478.0,1321.8 479.0,1314.4 480.0,1322.1 481.0,1319.6 482.0,1318.6 483.0,1318.8 484.0,1325.0 485.0,1326.5 486.0,1323.0 487.0,1321.0 488.0,1322.2 489.0,1325.8 490.0,1324.5 491.0,1316.3 492.0,1318.1 493.0,1324.1 494.0,1320.2 495.0,1321.2 496.0,1323.1 497.0,1321.5 498.0,1322.0 499.0,1319.9 500.0,1316.7 501.0,1315.6 502.0,1319.1 503.0,1306.1 504.0,1308.7 505.0,1307.4 506.0,1297.7 507.0,1292.2 508.0,1292.5 509.0,1288.6 510.0,1286.2 511.0,1284.9 512.0,1295.6 513.0,1292.4 514.0,1305.1 515.0,1301.4 516.0,1315.2 517.0,1312.7 518.0,1316.2 519.0,1308.5 520.0,1312.3 521.0,1313.7 522.0,1312.6 523.0,1313.7 524.0,1307.5 525.0,1309.0 526.0,1311.0 527.0,1305.0 528.0,1313.6 529.0,1310.7 530.0,1309.9 531.0,1309.8 532.0,1314.7 533.0,1309.7 534.0,1312.0 535.0,1313.1 536.0,1313.2 537.0,1318.1 538.0,1316.7 539.0,1320.2 540.0,1318.9 541.0,1316.1 542.0,1317.0 543.0,1316.2 544.0,1317.4 545.0,1321.4 546.0,1322.5 547.0,1318.8 548.0,1319.4 549.0,1324.3 550.0,1326.4 551.0,1318.2 552.0,1318.4 553.0,1325.5 554.0,1322.5 555.0,1321.1 556.0,1322.9 557.0,1323.6 558.0,1316.1 559.0,1324.8 560.0,1324.6 561.0,1319.2 562.0,1319.3 563.0,1316.7 564.0,1319.7 565.0,1315.4 566.0,1318.3 567.0,1321.6 568.0,1317.8 569.0,1319.7 570.0,1313.3 571.0,1320.1 572.0,1312.3 573.0,1312.9 574.0,1317.5 575.0,1313.3 576.0,1310.5 577.0,1310.1 578.0,1315.9 579.0,1307.5 580.0,1306.7 581.0,1314.6 582.0,1312.0 583.0,1307.5 584.0,1306.0 585.0,1311.7 586.0,1310.4 587.0,1308.6 588.0,1306.0 589.0,1304.0 590.0,1307.2 591.0,1300.8 591.4,1295.5 591.6,1294.9 591.9,1299.5 592.0,1300.0 592.1,1298.5 592.4,1299.0 592.6,1294.5 592.9,1293.9 593.0,1292.7 593.1,1293.1 593.4,1290.9 593.6,1294.6 593.9,1287.2 594.0,1287.5 594.1,1291.5 594.4,1287.4 594.6,1285.1 594.9,1289.7 595.0,1287.7 595.1,1280.7 595.4,1278.3 595.6,1279.8 595.9,1278.4 596.0,1275.9 596.1,1276.4 596.4,1274.4 596.6,1272.9 596.9,1263.8 597.0,1266.4 597.1,1258.3 597.4,1253.8 597.6,1248.6 597.9,1243.3 598.0,1247.6 598.1,1240.2 598.4,1234.1 598.6,1225.9 598.9,1214.4 599.0,1207.2 599.1,1200.6 599.4,1192.3 599.6,1167.8 599.9,1141.7 600.0,1127.7 600.1,1108.6 600.4,1055.6 600.6,977.6 600.9,876.6 601.0,825.2 601.1,739.6 601.4,561.6 601.6,340.0 601.9,78.3 602.0,-37.8 602.1,-50.0 602.4,-50.0 602.6,-50.0 602.9,-50.0 603.0,-50.0 603.1,-50.0 603.4,-50.0 603.6,-50.0 603.9,-50.0 604.0,-50.0 604.1,-50.0 604.4,-50.0 604.6,-50.0 604.9,69.8 605.0,186.7 605.1,334.1 605.4,557.3 605.6,738.7 605.9,878.4 606.0,921.9 606.1,974.4 606.4,1050.9 606.6,1107.7 606.9,1141.7 607.0,1151.6 607.1,1164.5 607.4,1186.4 607.6,1207.5 607.9,1210.8 608.0,1219.5 608.1,1228.3 608.4,1234.5 608.6,1237.9 608.9,1247.4 609.0,1245.2 609.1,1252.7 609.4,1255.5 609.6,1265.1 609.9,1268.3 610.0,1268.3 610.1,1265.8 610.4,1272.0 610.6,1276.3 610.9,1272.9 611.0,1275.4 611.1,1273.9 611.4,1276.5 611.6,1284.4 611.9,1280.1 612.0,1285.7 612.1,1281.0 612.4,1287.2 612.6,1289.7 612.9,1292.6 613.0,1288.4 613.1,1289.4 613.4,1290.9 613.6,1294.6 613.9,1296.8 614.0,1290.4 614.1,1293.0 614.4,1291.1 614.6,1293.3 614.9,1298.3 615.0,1300.5 615.1,1301.2 616.0,1294.2 617.0,1299.4 618.0,1305.1 619.0,1302.7 620.0,1302.3 621.0,1306.9 622.0,1308.9 623.0,1303.1 624.0,1307.4 625.0,1304.4 626.0,1305.4 627.0,1309.7 628.0,1307.2 629.0,1312.9 630.0,1309.2 631.0,1308.2 632.0,1311.9 633.0,1308.4 634.0,1306.3 635.0,1315.0 636.0,1307.4 637.0,1306.6 638.0,1310.3 639.0,1305.9 640.0,1313.4 641.0,1305.9 642.0,1305.6 643.0,1313.7 644.0,1309.2 645.0,1313.1 646.0,1312.7 647.0,1309.7 648.0,1302.0 649.0,1306.1 650.0,1299.1 651.0,1297.0 652.0,1304.0 653.0,1296.8 654.0,1299.4 655.0,1276.3 656.0,1258.5 657.0,1236.2 658.0,1219.1 659.0,1193.9 660.0,1207.2 661.0,1228.7 662.0,1247.5 663.0,1268.1 664.0,1288.6 665.0,1291.5 666.0,1288.8 667.0,1292.3 668.0,1295.4 669.0,1294.0 670.0,1293.9 671.0,1294.2 672.0,1302.3 673.0,1304.6 674.0,1305.6 675.0,1307.0 676.0,1303.6 677.0,1296.1 678.0,1301.6 679.0,1295.7 680.0,1294.6 681.0,1286.8 682.0,1291.0 683.0,1286.0 684.0,1297.1 685.0,1297.7 686.0,1299.2 687.0,1303.9 688.0,1301.8 689.0,1303.6 690.0,1299.8 691.0,1301.2 692.0,1301.0 693.0,1300.2 694.0,1303.0 695.0,1299.7 696.0,1299.0 697.0,1301.9 698.0,1306.7 699.0,1303.1 700.0,1300.3 701.0,1298.8 702.0,1297.3 703.0,1300.7 704.0,1302.9 705.0,1304.1 706.0,1299.7 707.0,1303.2 708.0,1302.6 709.0,1303.7 710.0,1300.0 711.0,1302.3 712.0,1300.3 713.0,1305.3 714.0,1301.5 715.0,1306.3 716.0,1303.9 717.0,1306.2 718.0,1302.0 719.0,1298.7 720.0,1301.6 721.0,1299.8 722.0,1299.7 723.0,1294.8 724.0,1296.9 725.0,1293.8 726.0,1290.6 727.0,1280.1 728.0,1269.1 729.0,1263.8 730.0,1277.8 731.0,1288.6 732.0,1280.8 733.0,1282.4 734.0,1282.7 735.0,1284.5 736.0,1283.0 737.0,1282.7 738.0,1277.4 739.0,1278.9 740.0,1277.5 741.0,1282.4 742.0,1281.4 743.0,1276.0 744.0,1280.3 745.0,1272.0 746.0,1268.7 747.0,1270.1 747.2,1272.5 747.5,1273.7 747.8,1268.7 748.0,1263.9 748.2,1266.9 748.5,1261.0 748.8,1268.7 749.0,1262.2 749.2,1259.2 749.5,1258.3 749.8,1263.2 750.0,1262.0 750.2,1254.2 750.5,1260.6 750.8,1257.4 751.0,1249.8 751.2,1245.7 751.5,1243.4 751.8,1243.1 752.0,1238.3 752.2,1235.3 752.5,1231.7 752.8,1233.8 753.0,1221.3 753.2,1224.9 753.5,1214.3 753.8,1211.6 754.0,1202.8 754.2,1199.0 754.5,1181.6 754.8,1170.6 755.0,1157.5 755.2,1137.2 755.5,1108.4 755.8,1070.6 756.0,1015.6 756.2,945.8 756.5,847.4 756.8,711.1 757.0,529.8 757.2,315.0 757.5,51.5 757.8,-50.0 758.0,-50.0 758.2,-50.0 758.5,-50.0 758.8,-50.0 759.0,-50.0 759.2,-50.0 759.5,-50.0 759.8,-50.0 760.0,-50.0 760.2,-50.0 760.5,31.8 760.8,293.6 761.0,511.6 761.2,691.0 761.5,826.6 761.8,925.7 762.0,1001.1 762.2,1049.4 762.5,1084.8 762.8,1108.8 763.0,1124.9 763.2,1132.8 763.5,1141.1 763.8,1152.1 764.0,1152.3 764.2,1156.5 764.5,1159.2 764.8,1159.0 765.0,1153.2 765.2,1149.4 765.5,1141.5 765.8,1138.1 766.0,1125.9 766.2,1103.3 766.5,1080.2 766.8,1044.6 767.0,998.5 767.2,923.3 767.5,829.4 767.8,689.4 768.0,518.2 768.2,299.1 768.5,41.3 768.8,-50.0 769.0,-50.0 769.2,-50.0 769.5,-50.0 769.8,-50.0 770.0,-50.0 770.2,-50.0 770.5,-50.0 770.8,-50.0 771.0,-50.0 771.2,-50.0 771.5,49.1 771.8,303.7 772.0,527.2 772.2,708.3 772.5,841.6 772.8,943.8 773.0,1016.7 773.2,1066.6 773.5,1105.8 773.8,1138.3 774.0,1158.4 774.2,1169.2 774.5,1185.1 774.8,1196.9 775.0,1204.8 775.2,1204.2 775.5,1211.7 775.8,1224.8 776.0,1223.2 776.2,1232.5 776.5,1234.4 776.8,1240.5 777.0,1236.2 777.2,1246.8 777.5,1248.7 777.8,1245.5 778.0,1251.7 778.2,1247.0 778.5,1257.5 778.8,1255.1 779.0,1259.9 779.2,1261.6 779.5,1255.7 779.8,1265.0 780.0,1259.3 780.2,1260.5 780.5,1265.1 780.8,1263.9 781.0,1268.0 781.2,1263.6 781.5,1268.3 781.8,1270.4 782.0,1272.8 783.0,1270.0 784.0,1271.3 785.0,1276.2 786.0,1278.1 787.0,1282.4 788.0,1279.6 789.0,1278.4 790.0,1277.3 791.0,1281.9 792.0,1281.1 793.0,1276.0 794.0,1278.4 795.0,1276.6 796.0,1279.6 797.0,1277.8 798.0,1275.8 799.0,1279.5 800.0,1281.2 801.0,1277.0 802.0,1281.8 803.0,1274.2 804.0,1272.9 804.2,1279.2 804.5,1278.3 804.8,1279.4 805.0,1280.8 805.2,1276.9 805.5,1279.2 805.8,1276.9 806.0,1275.3 806.2,1275.1 806.5,1279.2 806.8,1272.9 807.0,1273.5 807.2,1274.4 807.5,1276.2 807.8,1269.9 808.0,1274.8 808.2,1269.1 808.5,1271.6 808.8,1271.3 809.0,1272.7 809.2,1272.1 809.5,1271.2 809.8,1264.6 810.0,1267.0 810.2,1269.7 810.5,1265.8 810.8,1268.2 811.0,1265.2 811.2,1264.3 811.5,1264.0 811.8,1266.0 812.0,1255.2 812.2,1254.3 812.5,1251.4 812.8,1251.6 813.0,1246.4 813.2,1253.5 813.5,1242.5 813.8,1243.3 814.0,1243.3 814.2,1236.6 814.5,1230.7 814.8,1227.6 815.0,1223.6 815.2,1217.1 815.5,1213.4 815.8,1206.4 816.0,1195.7 816.2,1196.5 816.5,1189.5 816.8,1175.9 817.0,1162.1 817.2,1160.0 817.5,1142.5 817.8,1129.6 818.0,1114.4 818.2,1104.9 818.5,1085.4 818.8,1063.4 819.0,1044.2 819.2,1023.3 819.5,1000.6 819.8,979.3 820.0,957.2 820.2,922.6 820.5,904.2 820.8,878.3 821.0,845.6 821.2,826.8 821.5,800.7 821.8,775.5 822.0,746.8 822.2,730.4 822.5,716.7 822.8,700.9 823.0,686.0 823.2,687.5 823.5,682.0 823.8,682.6 824.0,690.7 824.2,698.7 824.5,714.8 824.8,729.3 825.0,759.1 825.2,773.6 825.5,800.2 825.8,825.2 826.0,852.8 826.2,878.1 826.5,909.7 826.8,929.7 827.0,964.0 827.2,984.4 827.5,1015.0 827.8,1032.7 828.0,1052.8 828.2,1081.1 828.5,1094.5 828.8,1118.4 829.0,1137.2 829.2,1146.7 829.5,1161.8 829.8,1176.5 830.0,1191.1 830.2,1201.5 830.5,1206.9 830.8,1216.9 831.0,1227.3 831.2,1227.6 831.5,1240.8 831.8,1245.3 832.0,1243.0 832.2,1250.8 832.5,1255.2 832.8,1257.5 833.0,1255.3 833.2,1257.5 833.5,1261.2 833.8,1262.7 834.0,1267.5 834.2,1271.4 834.5,1271.8 834.8,1276.0 835.0,1273.4 835.2,1275.2 836.0,1275.1 837.0,1286.6 838.0,1287.5 839.0,1292.7 840.0,1293.8 841.0,1287.7 842.0,1294.3 843.0,1294.0 844.0,1297.5 845.0,1291.6 846.0,1297.6 847.0,1297.2 848.0,1294.9 849.0,1292.2 850.0,1297.7 851.0,1291.6 852.0,1294.4 853.0,1291.1 854.0,1293.8 855.0,1292.5 856.0,1295.0 857.0,1294.9 858.0,1295.1 859.0,1292.1 860.0,1295.5 861.0,1294.9 862.0,1293.4 863.0,1294.7 864.0,1295.6 865.0,1289.5 866.0,1292.2 866.8,1287.3 867.0,1284.7 867.0,1284.8 867.3,1285.9 867.5,1281.8 867.8,1286.7 868.0,1280.9 868.0,1283.1 868.3,1284.1 868.5,1283.3 868.8,1281.1 869.0,1280.9 869.0,1281.5 869.3,1279.8 869.5,1277.2 869.8,1280.1 870.0,1272.1 870.0,1271.5 870.3,1271.3 870.5,1268.8 870.8,1274.2 871.0,1268.2 871.0,1271.0 871.3,1265.6 871.5,1260.2 871.8,1263.4 872.0,1261.0 872.0,1252.9 872.3,1255.9 872.5,1249.9 872.8,1242.6 873.0,1240.3 873.0,1243.7 873.3,1232.8 873.5,1230.7 873.8,1223.0 874.0,1216.7 874.0,1211.2 874.3,1208.2 874.5,1193.7 874.8,1180.3 875.0,1165.2 875.0,1157.8 875.3,1134.5 875.5,1093.4 875.8,1045.1 876.0,983.0 876.0,964.0 876.3,865.2 876.5,728.6 876.8,556.7 877.0,376.3 877.0,334.3 877.3,61.8 877.5,-50.0 877.8,-50.0 878.0,-50.0 878.0,-50.0 878.3,-50.0 878.5,-50.0 878.8,-50.0 879.0,-50.0 879.0,-50.0 879.3,-50.0 879.5,-50.0 879.8,-50.0 880.0,-50.0 880.0,-50.0 880.3,64.6 880.5,328.8 880.8,548.6 881.0,696.7 881.0,731.2 881.3,865.7 881.5,973.1 881.8,1047.1 882.0,1090.0 882.0,1098.8 882.3,1131.6 882.5,1162.8 882.8,1175.2 883.0,1186.5 883.0,1189.4 883.3,1203.9 883.5,1217.8 883.8,1219.9 884.0,1229.0 884.0,1232.9 884.3,1240.9 884.5,1243.4 884.8,1245.2 885.0,1247.7 885.0,1252.5 885.3,1260.1 885.5,1264.1 885.8,1264.6 886.0,1262.2 886.0,1261.2 886.3,1262.8 886.5,1266.7 886.8,1271.2 887.0,1268.8 887.0,1273.4 887.3,1272.9 887.5,1279.6 887.8,1278.1 888.0,1281.9 888.0,1277.6 888.3,1280.5 888.5,1284.4 888.8,1277.8 889.0,1287.5 889.0,1284.9 889.3,1290.1 889.5,1284.2 889.8,1287.2 890.0,1289.6 890.0,1288.7 890.3,1290.0 890.5,1293.4 891.0,1287.2 892.0,1294.1 893.0,1293.6 894.0,1299.7 895.0,1301.2 896.0,1297.8 897.0,1298.2 898.0,1303.5 899.0,1304.5 900.0,1303.0 901.0,1304.7 902.0,1305.7 903.0,1302.1 904.0,1301.5 905.0,1299.6 906.0,1303.4 907.0,1301.6 908.0,1305.7 909.0,1303.0 910.0,1303.3 911.0,1299.7 912.0,1293.9 913.0,1293.1 914.0,1292.5 915.0,1291.8 916.0,1297.8 917.0,1297.0 918.0,1296.1 919.0,1298.0 920.0,1303.3 921.0,1299.8 922.0,1304.8 923.0,1310.5 924.0,1312.5 925.0,1310.7 926.0,1313.0 927.0,1313.3 928.0,1317.8 929.0,1315.2 930.0,1316.2 931.0,1318.7 932.0,1315.7 933.0,1308.8 934.0,1308.7 935.0,1313.4 936.0,1314.7 937.0,1310.2 938.0,1311.8 939.0,1305.7 940.0,1304.2 941.0,1310.8 942.0,1310.1 943.0,1305.8 944.0,1308.7 945.0,1306.3 946.0,1306.3 947.0,1304.1 948.0,1305.6 949.0,1308.8 950.0,1304.5 951.0,1308.5 952.0,1311.1 953.0,1302.5 954.0,1304.9 955.0,1306.6 956.0,1309.1 957.0,1308.9 958.0,1314.3 959.0,1307.8 960.0,1308.9 961.0,1306.7 962.0,1307.5 963.0,1311.1 964.0,1306.1 965.0,1314.1 966.0,1311.6 967.0,1304.5 968.0,1310.9 969.0,1303.6 970.0,1307.0 971.0,1304.5 972.0,1303.5 973.0,1307.3 974.0,1310.7 975.0,1303.5 976.0,1304.3 977.0,1307.4 978.0,1312.1 979.0,1306.0 980.0,1310.1 981.0,1306.3 982.0,1304.9 983.0,1307.4 984.0,1302.1 985.0,1305.3 986.0,1302.1 987.0,1308.1 988.0,1313.7 989.0,1305.8 990.0,1306.8 991.0,1312.2 992.0,1317.0 993.0,1314.7 994.0,1319.7 995.0,1314.9 996.0,1322.4 997.0,1315.7 998.0,1322.2 999.0,1318.0 1000.0,1323.1 1001.0,1316.0 1002.0,1319.2 1003.0,1324.9 1004.0,1323.5 1005.0,1320.6 1006.0,1319.9 1007.0,1325.1 1008.0,1318.3 1009.0,1318.5 1010.0,1317.2 1011.0,1323.2 1012.0,1325.7 1013.0,1317.9 1014.0,1324.4 1015.0,1324.5 1016.0,1318.7 1017.0,1322.0 1018.0,1321.9 1019.0,1317.0 1020.0,1326.1 1021.0,1318.6 1022.0,1318.1 1023.0,1324.7 1024.0,1323.3 1025.0,1325.7 1026.0,1324.0 1027.0,1319.1 1028.0,1322.2 1029.0,1326.6 1030.0,1320.4 1031.0,1319.7 1032.0,1326.0 1033.0,1318.1 1034.0,1320.9 1035.0,1326.6 1036.0,1324.8 1037.0,1317.9 1038.0,1317.2 1039.0,1321.0 1040.0,1321.7 1041.0,1323.2 1042.0,1317.5 1043.0,1319.8 1044.0,1320.0 1045.0,1319.1 1046.0,1322.6 1047.0,1321.6 1048.0,1318.3 1049.0,1318.7 1050.0,1311.4 1051.0,1311.2 1052.0,1309.4 1053.0,1302.4 1054.0,1296.4 1055.0,1292.9 1056.0,1296.5 1057.0,1294.1 1058.0,1290.8 1059.0,1281.9 1060.0,1281.6 1061.0,1286.5 1062.0,1279.6 1063.0,1275.2 1064.0,1277.3 1065.0,1279.2 1066.0,1276.7 1067.0,1285.6 1068.0,1290.8 1069.0,1295.6 1070.0,1300.9 1071.0,1303.6 1072.0,1301.8 1073.0,1308.4 1074.0,1308.6 1075.0,1312.9 1076.0,1312.9 1077.0,1317.4 1078.0,1311.5 1079.0,1311.7 1080.0,1312.2 1081.0,1314.8 1082.0,1322.5 1083.0,1320.5 1084.0,1318.4 1085.0,1322.7 1086.0,1324.4 1087.0,1322.6 1088.0,1320.9 1089.0,1328.4 1090.0,1324.9 1091.0,1318.0 1092.0,1319.7 1093.0,1313.8 1094.0,1314.3 1095.0,1316.3 1096.0,1313.4 1097.0,1308.8 1098.0,1311.2 1099.0,1304.3 1100.0,1305.6 1101.0,1300.1 1102.0,1301.0 1103.0,1298.8 1104.0,1301.5 1105.0,1306.4 1106.0,1308.3 1107.0,1312.5 1108.0,1307.0 1109.0,1318.0 1110.0,1318.3 1111.0,1316.1 1112.0,1317.7 1113.0,1320.7 1114.0,1321.6 1115.0,1322.8 1116.0,1325.8 1117.0,1325.6 1118.0,1326.1 1119.0,1325.7 1120.0,1324.8 1121.0,1324.7 1122.0,1321.5 1123.0,1315.1 1124.0,1318.4 1125.0,1317.5 1126.0,1319.5 1127.0,1315.8 1128.0,1321.6 1129.0,1315.5 1130.0,1316.6 1131.0,1312.8 1132.0,1318.0 1133.0,1315.0 1134.0,1313.7 1135.0,1304.3 1136.0,1303.0 1137.0,1306.5 1138.0,1304.3 1139.0,1298.4 1140.0,1304.0 1141.0,1301.9 1142.0,1310.8 1143.0,1313.2 1144.0,1316.2 1145.0,1316.8 1146.0,1315.6 1147.0,1317.2 1148.0,1321.2 1149.0,1319.9 1150.0,1325.0 1151.0,1319.5 1152.0,1320.0 1153.0,1324.9 1154.0,1318.2 1155.0,1318.8 1156.0,1316.5 1157.0,1323.7 1158.0,1319.6 1159.0,1318.1 1160.0,1321.9 1161.0,1321.7 1162.0,1310.4 1163.0,1299.4 1164.0,1297.2 1165.0,1288.2 1166.0,1274.2 1167.0,1265.4 1168.0,1249.4 1169.0,1269.1 1170.0,1281.3 1171.0,1297.5 1172.0,1311.5 1173.0,1316.2 1174.0,1317.6 1175.0,1315.7 1176.0,1319.2 1177.0,1313.6 1178.0,1315.8 1179.0,1315.5 1180.0,1319.3 1181.0,1321.5 1182.0,1315.6 1183.0,1322.9 1184.0,1317.6 1185.0,1316.4 1186.0,1317.7 1187.0,1323.2 1188.0,1315.2 1189.0,1320.1 1190.0,1319.4 1191.0,1321.0 1192.0,1318.4 1193.0,1315.6 1194.0,1314.5 1195.0,1321.4 1196.0,1316.3 1197.0,1318.3 1198.0,1317.0 1199.0,1312.8 1199.2,1315.2 1199.5,1310.0 1199.8,1308.9 1200.0,1313.4 1200.2,1307.6 1200.5,1306.6 1200.8,1307.9 1201.0,1306.8 1201.2,1312.0 1201.5,1311.6 1201.8,1309.5 1202.0,1310.8 1202.2,1304.0 1202.5,1302.9 1202.8,1302.8 1203.0,1304.2 1203.2,1298.5 1203.5,1298.3 1203.8,1299.5 1204.0,1296.9 1204.2,1298.0 1204.5,1295.7 1204.8,1296.7 1205.0,1297.7 1205.2,1298.3 1205.5,1299.4 1205.8,1293.0 1206.0,1292.7 1206.2,1295.5 1206.5,1286.4 1206.8,1290.1 1207.0,1285.5 1207.2,1283.1 1207.5,1290.2 1207.8,1286.4 1208.0,1282.3 1208.2,1282.2 1208.5,1280.4 1208.8,1272.2 1209.0,1265.2 1209.2,1254.5 1209.5,1256.8 1209.8,1247.8 1210.0,1234.3 1210.2,1230.6 1210.5,1223.4 1210.8,1226.7 1211.0,1219.3 1211.2,1219.1 1211.5,1230.0 1211.8,1230.0 1212.0,1235.1 1212.2,1241.0 1212.5,1248.4 1212.8,1257.9 1213.0,1262.4 1213.2,1271.9 1213.5,1278.6 1213.8,1276.5 1214.0,1278.6 1214.2,1288.2 1214.5,1289.1 1214.8,1293.5 1215.0,1287.5 1215.2,1294.7 1215.5,1291.9 1215.8,1292.1 1216.0,1294.5 1216.2,1299.6 1216.5,1299.9 1216.8,1301.0 1217.0,1296.4 1217.2,1299.2 1217.5,1296.9 1217.8,1298.4 1218.0,1304.7 1218.2,1298.1 1218.5,1306.4 1218.8,1307.6 1219.0,1303.3 1219.2,1305.1 1219.5,1308.8 1219.8,1306.5 1220.0,1307.5 1220.2,1307.0 1220.5,1300.9 1220.8,1308.6 1221.0,1308.6 1221.2,1305.8 1221.5,1303.4 1221.8,1306.8 1222.0,1308.4 1222.2,1307.2 1222.5,1309.8 1222.8,1308.3 1223.0,1311.5 1224.0,1315.4 1225.0,1307.9 1226.0,1314.8 1227.0,1318.6 1228.0,1312.7 1229.0,1317.1 1230.0,1319.8 1231.0,1318.0 1232.0,1314.5 1233.0,1313.5 1234.0,1310.4 1235.0,1314.7 1236.0,1318.2 1237.0,1318.8 1238.0,1318.2 1239.0,1315.5 1240.0,1313.3 1241.0,1313.7 1242.0,1312.9 1243.0,1315.0 1244.0,1312.8 1245.0,1317.1 1246.0,1320.5 1247.0,1316.2 1248.0,1321.5 1249.0,1319.3 1250.0,1321.6 1251.0,1323.9 1252.0,1316.0 1253.0,1319.5 1254.0,1317.2 1255.0,1317.6 1256.0,1323.8 1257.0,1317.4 1258.0,1322.5 1259.0,1326.0 1260.0,1321.3 1261.0,1323.2 1262.0,1317.7 1263.0,1323.6 1264.0,1322.9 1265.0,1321.9 1266.0,1325.1 1267.0,1321.7 1268.0,1322.3 1269.0,1317.8 1270.0,1324.5 1271.0,1320.5 1272.0,1323.1 1273.0,1320.7 1274.0,1316.3 1275.0,1318.9 1276.0,1322.6 1277.0,1320.5 1278.0,1315.6 1279.0,1319.7 1280.0,1322.8 1281.0,1313.7 1282.0,1312.7 1283.0,1319.8 1284.0,1317.2 1285.0,1318.6 1286.0,1314.0 1287.0,1315.9 1288.0,1311.3 1289.0,1310.8 1290.0,1314.3 1291.0,1317.6 1292.0,1314.8 1293.0,1310.2 1294.0,1310.0 1295.0,1316.8 1295.2,1312.3 1295.5,1310.2 1295.8,1309.8 1296.0,1314.7 1296.2,1311.1 1296.5,1308.1 1296.8,1308.6 1297.0,1307.6 1297.2,1316.9 1297.5,1311.6 1297.8,1311.2 1298.0,1307.5 1298.2,1308.8 1298.5,1313.5 1298.8,1312.9 1299.0,1309.1 1299.2,1306.4 1299.5,1312.4 1299.8,1305.1 1300.0,1304.4 1300.2,1302.6 1300.5,1305.5 1300.8,1307.9 1301.0,1303.9 1301.2,1306.7 1301.5,1299.9 1301.8,1301.5 1302.0,1295.5 1302.2,1297.1 1302.5,1293.0 1302.8,1290.2 1303.0,1291.4 1303.2,1282.0 1303.5,1279.0 1303.8,1270.7 1304.0,1267.7 1304.2,1252.0 1304.5,1240.8 1304.8,1230.3 1305.0,1210.1 1305.2,1196.2 1305.5,1177.8 1305.8,1150.6 1306.0,1131.0 1306.2,1105.5 1306.5,1096.1 1306.8,1080.3 1307.0,1077.2 1307.2,1074.4 1307.5,1086.5 1307.8,1096.2 1308.0,1115.4 1308.2,1129.1 1308.5,1139.5 1308.8,1146.9 1309.0,1157.0 1309.2,1165.1 1309.5,1170.9 1309.8,1173.1 1310.0,1173.8 1310.2,1172.8 1310.5,1171.1 1310.8,1176.6 1311.0,1179.7 1311.2,1191.8 1311.5,1200.9 1311.8,1214.9 1312.0,1221.6 1312.2,1234.1 1312.5,1250.7 1312.8,1259.1 1313.0,1265.6 1313.2,1280.4 1313.5,1277.2 1313.8,1291.0 1314.0,1294.3 1314.2,1289.7 1314.5,1300.9 1314.8,1302.5 1315.0,1299.5 1315.2,1305.4 1315.5,1309.9 1315.8,1303.2 1316.0,1306.6 1316.2,1306.6 1316.5,1314.6 1316.8,1307.9 1317.0,1308.3 1317.2,1308.4 1317.5,1316.0 1317.8,1309.9 1318.0,1317.5 1318.2,1308.6 1318.5,1313.1 1318.8,1309.5 1319.0,1310.6 1320.0,1312.0 1321.0,1317.3 1322.0,1313.9 1323.0,1315.0 1324.0,1319.4 1325.0,1315.9 1326.0,1309.0 1327.0,1311.4 1328.0,1313.8 1329.0,1310.2 1330.0,1308.0 1331.0,1307.3 1332.0,1308.9 1333.0,1310.2 1334.0,1308.2 1335.0,1304.2 1336.0,1302.4 1337.0,1302.6 1338.0,1310.2 1339.0,1303.7 1340.0,1305.2 1341.0,1306.7 1342.0,1313.1 1343.0,1309.8 1344.0,1314.7 1345.0,1317.3 1346.0,1321.2 1347.0,1323.0 1348.0,1327.5 1349.0,1322.7 1350.0,1321.0 1351.0,1327.1 1352.0,1322.5 1353.0,1322.0 1354.0,1321.1 1355.0,1331.2 1356.0,1328.5 1357.0,1328.0 1358.0,1323.4 1359.0,1330.8 1360.0,1323.1 1361.0,1329.4 1362.0,1331.1 1363.0,1327.7 1364.0,1324.3 1365.0,1331.8 1366.0,1322.2 1367.0,1324.1 1368.0,1326.7 1369.0,1326.8 1370.0,1322.0 1371.0,1322.8 1372.0,1323.9 1373.0,1329.8 1374.0,1329.7 1375.0,1320.7 1376.0,1327.1 1377.0,1321.7 1378.0,1319.5 1379.0,1320.8 1380.0,1317.1 1381.0,1323.6 1382.0,1323.4 1383.0,1319.1 1384.0,1316.4 1385.0,1322.5 1386.0,1324.2 1387.0,1315.6 1388.0,1323.1 1389.0,1318.2 1390.0,1314.4 1391.0,1318.8 1392.0,1318.7 1393.0,1314.5 1394.0,1316.1 1395.0,1311.8 1396.0,1314.8 1397.0,1309.2 1398.0,1309.7 1399.0,1313.0 1400.0,1311.9 1400.5,1310.5 1400.8,1313.4 1401.0,1311.6 1401.2,1309.9 1401.5,1309.9 1401.8,1303.9 1402.0,1302.1 1402.2,1303.1 1402.5,1307.7 1402.8,1310.6 1403.0,1302.7 1403.2,1309.6 1403.5,1308.4 1403.8,1301.2 1404.0,1303.5 1404.2,1300.4 1404.5,1304.6 1404.8,1299.5 1405.0,1299.4 1405.2,1300.4 1405.5,1297.1 1405.8,1300.5 1406.0,1297.8 1406.2,1291.1 1406.5,1294.1 1406.8,1290.8 1407.0,1293.1 1407.2,1291.0 1407.5,1279.5 1407.8,1283.6 1408.0,1278.3 1408.2,1272.7 1408.5,1263.8 1408.8,1264.8 1409.0,1253.4 1409.2,1243.5 1409.5,1234.7 1409.8,1212.3 1410.0,1198.8 1410.2,1177.7 1410.5,1159.5 1410.8,1144.6 1411.0,1114.6 1411.2,1094.1 1411.5,1069.8 1411.8,1044.9 1412.0,1029.3 1412.2,1010.4 1412.5,1002.5 1412.8,1004.7 1413.0,1011.0 1413.2,1022.8 1413.5,1037.5 1413.8,1053.9 1414.0,1070.5 1414.2,1088.7 1414.5,1098.5 1414.8,1114.2 1415.0,1116.7 1415.2,1123.0 1415.5,1123.0 1415.8,1125.1 1416.0,1126.2 1416.2,1123.1 1416.5,1125.9 1416.8,1131.2 1417.0,1149.3 1417.2,1153.9 1417.5,1174.1 1417.8,1186.4 1418.0,1200.9 1418.2,1207.0 1418.5,1228.2 1418.8,1231.4 1419.0,1247.8 1419.2,1249.5 1419.5,1265.6 1419.8,1263.9 1420.0,1270.8 1420.2,1278.0 1420.5,1279.0 1420.8,1281.9 1421.0,1287.1 1421.2,1286.5 1421.5,1293.0 1421.8,1296.3 1422.0,1295.7 1422.2,1297.0 1422.5,1294.7 1422.8,1298.5 1423.0,1301.1 1423.2,1304.7 1423.5,1301.8 1423.8,1307.3 1424.0,1302.4 1424.2,1305.0 1425.0,1307.1 1426.0,1302.8 1427.0,1310.3 1428.0,1311.4 1429.0,1305.0 1430.0,1311.4 1431.0,1309.4 1432.0,1307.8 1433.0,1308.3 1434.0,1308.0 1435.0,1316.2 1436.0,1315.8 1437.0,1316.1 1438.0,1312.0 1439.0,1318.5 1440.0,1314.2 1441.0,1316.9 1442.0,1313.5 1443.0,1322.5 1444.0,1317.4 1445.0,1320.9 1446.0,1315.7 1447.0,1315.9 1448.0,1321.5 1449.0,1320.8 1450.0,1320.4 1451.0,1318.1 1452.0,1321.3 1453.0,1323.6 1454.0,1322.2 1455.0,1321.5 1456.0,1319.2 1457.0,1319.6 1458.0,1323.5 1459.0,1318.2 1460.0,1321.2 1461.0,1317.8 1462.0,1319.7 1463.0,1318.4 1464.0,1325.2 1465.0,1325.1 1466.0,1320.5 1467.0,1324.7 1468.0,1325.3 1469.0,1326.2 1470.0,1325.6 1471.0,1320.7 1472.0,1325.4 1473.0,1321.2 1474.0,1323.1 1475.0,1318.9 1476.0,1318.4 1477.0,1325.6 1478.0,1321.8 1479.0,1321.9 1480.0,1323.7 1481.0,1317.7 1482.0,1324.6 1483.0,1324.8 1484.0,1318.7 1485.0,1324.3 1486.0,1321.0 1487.0,1320.6 1488.0,1318.4 1489.0,1315.9 1490.0,1318.1 1491.0,1318.7 1492.0,1324.1 1493.0,1322.6 1494.0,1325.5 1495.0,1317.9 1496.0,1323.6 1497.0,1323.3 1498.0,1321.4 1499.0,1323.9 1500.0,1319.1 1501.0,1324.6 1502.0,1320.0 1503.0,1322.8 1504.0,1324.1 1505.0,1320.1 1506.0,1328.0 1507.0,1319.6 1508.0,1327.1 1509.0,1328.0 1510.0,1326.8 1511.0,1322.1 1512.0,1325.0 1513.0,1323.0 1514.0,1324.3 1515.0,1319.8 1516.0,1313.3 1517.0,1315.0 1518.0,1307.8 1519.0,1311.4 1520.0,1305.8 1521.0,1308.0 1522.0,1309.8 1523.0,1301.2 1524.0,1303.4 1525.0,1299.8 1526.0,1304.0 1527.0,1305.9 1528.0,1304.6 1529.0,1308.6 1530.0,1312.9 1531.0,1311.4 1532.0,1309.8 1533.0,1313.2 1534.0,1311.2 1535.0,1313.8 1536.0,1318.7 1537.0,1317.0 1538.0,1320.7 1539.0,1315.8 1540.0,1322.0 1541.0,1322.6 1542.0,1322.5 1543.0,1321.8 1544.0,1320.6 1545.0,1322.6 1546.0,1314.2 1547.0,1312.9 1548.0,1315.7 1549.0,1321.2 1550.0,1316.4 1551.0,1317.5 1552.0,1314.5 1553.0,1317.1 1554.0,1319.1 1555.0,1315.1 1556.0,1301.7 1557.0,1296.9 1558.0,1288.6 1559.0,1277.7 1560.0,1269.4 1561.0,1279.7 1562.0,1276.7 1563.0,1283.0 1564.0,1289.4 1565.0,1294.1 1566.0,1293.0 1567.0,1294.4 1568.0,1306.2 1569.0,1307.6 1570.0,1312.5 1571.0,1314.7 1572.0,1316.6 1573.0,1309.1 1574.0,1307.3 1575.0,1312.6 1576.0,1304.7 1577.0,1306.4 1578.0,1304.3 1579.0,1301.3 1580.0,1294.9 1581.0,1297.6 1582.0,1294.9 1583.0,1290.9 1584.0,1292.6 1585.0,1295.9 1586.0,1293.1 1587.0,1298.3 1588.0,1299.1 1589.0,1303.9 1590.0,1302.8 1591.0,1307.3 1592.0,1309.1 1593.0,1308.4 1594.0,1310.7 1595.0,1313.0 1596.0,1313.2 1597.0,1317.0 1598.0,1314.5 1599.0,1313.5 1600.0,1318.1 1601.0,1318.7 1602.0,1313.4 1603.0,1312.5 1604.0,1317.1 1605.0,1311.1 1606.0,1315.4 1607.0,1309.4 1608.0,1309.0 1609.0,1310.3 1610.0,1312.0 1611.0,1310.0 1612.0,1308.3 1613.0,1307.1 1614.0,1306.6 1615.0,1315.5 1616.0,1314.2 1617.0,1313.9 1618.0,1312.2 1619.0,1311.9 1620.0,1309.8 1621.0,1312.5 1622.0,1310.1 1623.0,1314.1 1624.0,1308.0 1625.0,1310.4 1626.0,1312.4 1627.0,1309.1 1628.0,1310.0 1629.0,1308.7 1630.0,1303.8 1631.0,1302.7 1632.0,1298.3 1633.0,1299.7 1634.0,1303.5 1635.0,1294.3 1636.0,1300.6 1637.0,1298.8 1638.0,1296.8 1639.0,1288.9 1640.0,1293.7 1641.0,1293.6 1642.0,1286.1 1643.0,1282.2 1644.0,1280.8 1645.0,1279.3 1646.0,1277.3 1647.0,1272.8 1648.0,1272.4 1649.0,1273.6 1650.0,1276.1 1651.0,1277.5 1652.0,1267.4 1653.0,1274.2 1654.0,1272.0 1655.0,1270.6 1656.0,1262.7 1656.2,1260.9 1656.5,1258.4 1656.8,1258.4 1657.0,1257.0 1657.2,1256.5 1657.5,1257.0 1657.8,1252.0 1658.0,1251.2 1658.2,1253.4 1658.5,1247.7 1658.8,1253.2 1659.0,1250.5 1659.2,1243.9 1659.5,1246.1 1659.8,1245.8 1660.0,1241.5 1660.2,1233.8 1660.5,1234.0 1660.8,1231.3 1661.0,1228.6 1661.2,1220.3 1661.5,1215.1 1661.8,1211.1 1662.0,1202.2 1662.2,1203.9 1662.5,1194.8 1662.8,1184.8 1663.0,1174.7 1663.2,1166.5 1663.5,1142.0 1663.8,1131.2 1664.0,1100.3 1664.2,1069.5 1664.5,1025.1 1664.8,965.9 1665.0,888.4 1665.2,788.5 1665.5,655.5 1665.8,491.5 1666.0,292.2 1666.2,65.5 1666.5,-50.0 1666.8,-50.0 1667.0,-50.0 1667.2,-50.0 1667.5,-50.0 1667.8,-50.0 1668.0,-50.0 1668.2,-50.0 1668.5,-50.0 1668.8,-50.0 1669.0,-50.0 1669.2,-50.0 1669.5,-50.0 1669.8,-50.0 1670.0,120.2 1670.2,262.0 1670.5,347.2 1670.8,392.5 1671.0,389.4 1671.2,351.6 1671.5,276.5 1671.8,175.5 1672.0,69.3 1672.2,-27.1 1672.5,-50.0 1672.8,-50.0 1673.0,-50.0 1673.2,-50.0 1673.5,0.2 1673.8,127.8 1674.0,269.1 1674.2,408.3 1674.5,547.5 1674.8,680.1 1675.0,792.6 1675.2,882.1 1675.5,964.4 1675.8,1030.0 1676.0,1078.3 1676.2,1117.0 1676.5,1143.1 1676.8,1163.8 1677.0,1181.4 1677.2,1194.8 1677.5,1200.8 1677.8,1212.6 1678.0,1215.7 1678.2,1227.1 1678.5,1225.1 1678.8,1234.2 1679.0,1238.8 1679.2,1242.2 1679.5,1244.2 1679.8,1250.2 1680.0,1245.5 1681.0,1257.8 1682.0,1269.8 1683.0,1270.5 1684.0,1272.7 1685.0,1274.9 1686.0,1277.3 1687.0,1276.1 1688.0,1284.6 1689.0,1278.8 1690.0,1286.7 1691.0,1280.9 1691.5,1282.5 1691.8,1285.1 1692.0,1282.3 1692.2,1281.3 1692.5,1289.6 1692.8,1289.4 1693.0,1286.7 1693.2,1287.5 1693.5,1282.5 1693.8,1281.9 1694.0,1283.4 1694.2,1285.8 1694.5,1287.7 1694.8,1284.2 1695.0,1282.9 1695.2,1279.7 1695.5,1279.8 1695.8,1282.2 1696.0,1280.9 1696.2,1281.9 1696.5,1282.9 1696.8,1279.0 1697.0,1284.0 1697.2,1279.0 1697.5,1281.3 1697.8,1275.3 1698.0,1274.1 1698.2,1275.1 1698.5,1266.1 1698.8,1265.7 1699.0,1262.1 1699.2,1252.3 1699.5,1247.8 1699.8,1240.6 1700.0,1230.6 1700.2,1223.4 1700.5,1212.1 1700.8,1204.8 1701.0,1194.2 1701.2,1171.2 1701.5,1161.4 1701.8,1147.1 1702.0,1128.7 1702.2,1118.6 1702.5,1101.4 1702.8,1086.9 1703.0,1076.9 1703.2,1076.9 1703.5,1077.7 1703.8,1075.8 1704.0,1085.9 1704.2,1088.8 1704.5,1100.8 1704.8,1119.9 1705.0,1130.0 1705.2,1148.4 1705.5,1162.4 1705.8,1174.9 1706.0,1191.9 1706.2,1204.5 1706.5,1218.5 1706.8,1228.0 1707.0,1236.5 1707.2,1241.5 1707.5,1251.6 1707.8,1254.5 1708.0,1266.3 1708.2,1267.7 1708.5,1267.0 1708.8,1274.9 1709.0,1277.7 1709.2,1281.5 1709.5,1283.7 1709.8,1280.4 1710.0,1279.4 1710.2,1279.6 1710.5,1280.1 1710.8,1281.9 1711.0,1288.1 1711.2,1281.4 1711.5,1286.9 1711.8,1288.5 1712.0,1284.5 1712.2,1288.6 1712.5,1289.7 1712.8,1288.7 1713.0,1284.4 1713.2,1290.4 1713.5,1286.8 1713.8,1286.5 1714.0,1294.0 1714.2,1293.9 1714.5,1295.1 1714.8,1287.6 1715.0,1289.0 1715.2,1287.7 1716.0,1288.6 1717.0,1286.6 1718.0,1289.6 1719.0,1291.9 1720.0,1293.4 1721.0,1291.5 1722.0,1287.5 1723.0,1285.2 1724.0,1282.8 1725.0,1282.8 1726.0,1280.7 1726.2,1276.4 1726.5,1278.0 1726.8,1272.8 1727.0,1270.3 1727.2,1275.4 1727.5,1269.2 1727.8,1273.1 1728.0,1272.1 1728.2,1264.4 1728.5,1263.0 1728.8,1263.3 1729.0,1259.2 1729.2,1254.9 1729.5,1256.2 1729.8,1250.4 1730.0,1251.3 1730.2,1245.2 1730.5,1246.3 1730.8,1244.5 1731.0,1234.4 1731.2,1236.8 1731.5,1229.5 1731.8,1223.6 1732.0,1217.0 1732.2,1206.2 1732.5,1196.1 1732.8,1191.7 1733.0,1177.5 1733.2,1169.0 1733.5,1148.1 1733.8,1135.1 1734.0,1114.7 1734.2,1092.1 1734.5,1063.3 1734.8,1029.2 1735.0,998.3 1735.2,950.8 1735.5,903.5 1735.8,856.0 1736.0,797.9 1736.2,731.0 1736.5,660.0 1736.8,596.1 1737.0,532.7 1737.2,473.3 1737.5,419.5 1737.8,393.1 1738.0,381.6 1738.2,392.7 1738.5,423.9 1738.8,470.5 1739.0,529.4 1739.2,595.8 1739.5,667.6 1739.8,730.9 1740.0,797.0 1740.2,850.7 1740.5,904.8 1740.8,949.3 1741.0,991.7 1741.2,1028.4 1741.5,1059.6 1741.8,1087.7 1742.0,1112.1 1742.2,1138.8 1742.5,1153.2 1742.8,1164.3 1743.0,1178.9 1743.2,1194.9 1743.5,1202.6 1743.8,1207.7 1744.0,1212.3 1744.2,1221.8 1744.5,1227.3 1744.8,1232.2 1745.0,1243.9 1745.2,1247.4 1745.5,1250.8 1745.8,1252.5 1746.0,1258.2 1746.2,1260.8 1746.5,1261.4 1746.8,1262.1 1747.0,1263.4 1747.2,1267.8 1747.5,1267.5 1747.8,1268.3 1748.0,1275.5 1748.2,1270.8 1748.5,1273.8 1748.8,1280.3 1749.0,1279.4 1749.2,1279.9 1749.5,1276.6 1749.8,1277.7 1750.0,1278.4 1751.0,1283.6 1752.0,1286.7 1753.0,1287.8 1754.0,1289.8 1755.0,1298.1 1756.0,1299.8 1757.0,1298.1 1758.0,1300.3 1759.0,1297.1 1760.0,1300.0 1761.0,1300.3 1762.0,1304.0 1763.0,1301.1 1764.0,1302.6 1765.0,1301.5 1766.0,1306.5 1767.0,1309.6 1768.0,1307.2 1769.0,1303.0 1770.0,1303.7 1771.0,1307.3 1772.0,1307.2 1773.0,1305.9 1774.0,1302.9 1775.0,1305.3 1776.0,1306.7 1777.0,1310.5 1778.0,1312.8 1779.0,1314.0 1780.0,1314.8 1781.0,1310.1 1782.0,1315.4 1783.0,1309.9 1784.0,1310.7 1785.0,1310.8 1786.0,1311.9 1787.0,1314.1 1788.0,1317.1 1789.0,1313.7 1790.0,1314.2 1791.0,1318.0 1792.0,1316.6 1793.0,1320.1 1794.0,1309.1 1795.0,1307.8 1796.0,1309.5 1797.0,1303.9 1798.0,1306.7 1799.0,1303.1 1800.0,1301.7 1801.0,1300.8 1802.0,1299.5 1803.0,1295.7 1804.0,1292.6 1805.0,1294.2 1806.0,1291.1 1807.0,1295.5 1808.0,1300.7 1809.0,1299.8 1810.0,1304.7 1811.0,1306.6 1812.0,1308.4 1813.0,1308.8 1814.0,1309.7 1815.0,1313.3 1816.0,1317.0 1817.0,1319.8 1818.0,1320.6 1819.0,1319.1 1820.0,1319.8 1821.0,1315.0 1822.0,1319.1 1823.0,1323.9 1824.0,1321.8 1825.0,1322.2 1826.0,1324.3 1827.0,1319.7 1828.0,1317.9 1829.0,1324.2 1830.0,1323.0 1831.0,1323.2 1832.0,1321.5 1833.0,1323.2 1834.0,1328.9 1835.0,1330.6 1836.0,1323.1 1837.0,1327.3 1838.0,1324.7 1839.0,1327.3 1840.0,1324.5 1841.0,1330.5 1842.0,1326.3 1843.0,1329.1 1844.0,1327.6 1845.0,1329.4 1846.0,1329.4 1847.0,1326.3 1848.0,1323.7 1849.0,1324.2 1850.0,1326.9 1851.0,1331.1 1852.0,1329.9 1853.0,1329.7 1854.0,1325.4 1855.0,1327.3 1856.0,1328.8 1857.0,1330.2 1858.0,1330.0 1859.0,1327.3 1860.0,1329.7 1861.0,1323.4 1862.0,1326.2 1863.0,1327.1 1864.0,1327.5 1865.0,1327.8 1866.0,1325.8 1867.0,1324.9 1868.0,1322.4 1869.0,1322.2 1870.0,1320.5 1871.0,1324.8 1872.0,1319.7 1873.0,1318.4 1874.0,1322.1 1875.0,1318.7 1876.0,1316.9 1877.0,1319.8 1878.0,1311.5 1879.0,1310.4 1880.0,1313.7 1881.0,1308.7 1882.0,1314.7 1883.0,1314.3 1884.0,1307.8 1885.0,1313.0 1886.0,1311.0 1887.0,1313.1 1888.0,1313.3 1889.0,1319.0 1890.0,1316.1 1891.0,1322.8 1892.0,1320.0 1893.0,1320.4 1894.0,1327.6 1895.0,1321.9 1896.0,1323.7 1897.0,1326.6 1898.0,1330.1 1899.0,1329.5 1900.0,1327.9 1901.0,1321.9 1902.0,1322.6 1903.0,1327.4 1904.0,1327.3 1905.0,1328.7 1906.0,1324.0 1907.0,1325.6 1908.0,1324.3 1909.0,1323.2 1910.0,1328.0 1911.0,1328.0 1912.0,1322.5 1913.0,1326.3 1914.0,1327.4 1915.0,1327.2 1916.0,1323.7 1917.0,1321.8 1918.0,1324.0 1919.0,1323.6 1920.0,1325.1 1921.0,1325.7 1922.0,1325.5 1923.0,1322.7 1924.0,1324.3 1925.0,1323.4 1926.0,1328.2 1927.0,1327.6 1928.0,1329.2 1929.0,1325.3 1930.0,1328.4 1931.0,1324.0 1932.0,1325.4 1933.0,1323.1 1934.0,1319.1 1935.0,1315.7 1936.0,1318.5 1937.0,1312.3 1938.0,1311.6 1939.0,1305.3 1940.0,1306.5 1941.0,1303.8 1942.0,1305.7 1943.0,1302.6 1944.0,1310.6 1945.0,1311.5 1946.0,1308.3 1947.0,1312.8 1948.0,1315.6 1949.0,1322.5 1950.0,1322.7 1951.0,1319.2 1952.0,1321.9 1953.0,1323.8 1954.0,1317.9 1955.0,1322.1 1956.0,1322.1 1957.0,1323.0 1958.0,1317.5 1959.0,1323.7 1960.0,1320.2 1961.0,1321.8 1962.0,1318.7 1963.0,1317.8 1964.0,1318.0 1965.0,1322.2 1966.0,1325.5 1967.0,1324.2 1968.0,1319.5 1969.0,1320.4 1970.0,1328.1 1971.0,1324.4 1972.0,1327.7 1973.0,1327.5 1974.0,1328.1 1975.0,1330.2 1976.0,1326.8 1977.0,1326.5 1978.0,1325.1 1979.0,1332.3 1980.0,1325.8 1981.0,1332.5 1982.0,1327.6 1983.0,1331.9 1984.0,1333.8 1985.0,1331.1 1986.0,1330.9 1987.0,1331.3 1988.0,1328.3 1989.0,1335.0 1990.0,1333.3 1991.0,1335.0 1992.0,1333.8 1993.0,1329.1 1994.0,1332.8 1995.0,1331.3 1996.0,1328.9 1997.0,1332.1 1998.0,1334.7 1999.0,1328.3 2000.0,1332.6 2001.0,1331.1 2002.0,1330.9 2003.0,1332.4 2004.0,1328.5 2005.0,1327.1 2006.0,1327.6 2007.0,1329.9 2008.0,1331.7 2009.0,1330.5 2010.0,1333.0 2011.0,1329.1 2012.0,1328.3 2013.0,1332.1 2014.0,1333.7 2015.0,1332.5 2016.0,1330.0 2017.0,1332.3 2018.0,1333.9 2019.0,1330.9 2020.0,1333.8 2021.0,1328.9 2022.0,1332.0 2023.0,1329.9 2024.0,1327.6 2025.0,1329.0 2026.0,1327.3 2027.0,1330.1 2028.0,1331.9 2029.0,1330.8 2030.0,1329.3 2031.0,1325.4 2032.0,1329.4 2033.0,1330.3 2034.0,1327.2 2035.0,1328.3 2036.0,1328.1 2037.0,1328.3 2038.0,1325.5 2039.0,1328.1 2040.0,1325.7 2041.0,1327.6 2042.0,1323.6 2043.0,1325.3 2044.0,1324.0 2045.0,1329.5 2046.0,1330.3 2047.0,1328.9 2048.0,1325.8 2049.0,1326.2 2050.0,1326.9 2051.0,1324.0 2052.0,1322.6 2053.0,1329.5 2054.0,1326.8 2055.0,1328.7 2056.0,1327.0 2057.0,1325.8 2058.0,1324.1 2059.0,1328.0 2060.0,1327.6 2061.0,1323.9 2062.0,1325.3 2063.0,1330.5 2064.0,1328.9 2065.0,1325.1 2066.0,1326.1 2067.0,1327.6 2068.0,1329.0 2069.0,1324.6 2070.0,1328.2 2071.0,1328.1 2072.0,1329.4 2073.0,1325.3 2074.0,1326.9 2075.0,1329.6 2076.0,1326.0 2077.0,1327.6 2078.0,1326.7 2079.0,1327.8 2080.0,1329.4 2081.0,1329.9 2082.0,1325.7 2083.0,1330.1 2084.0,1325.5 2085.0,1327.7 2086.0,1330.7 2087.0,1330.8 2088.0,1332.0 2089.0,1326.9 2090.0,1328.7 2091.0,1329.0 2092.0,1330.3 2093.0,1330.6 2094.0,1327.3 2095.0,1325.9 2096.0,1326.7 2097.0,1330.3 2098.0,1326.6 2099.0,1328.0 2100.0,1332.5 2101.0,1334.0 2102.0,1330.7 2103.0,1332.1 2104.0,1328.3 2105.0,1325.6 2106.0,1325.6 2107.0,1320.6 2108.0,1321.0 2109.0,1321.5 2110.0,1324.7 2111.0,1325.0 2112.0,1320.8 2113.0,1323.4 2114.0,1321.7 2115.0,1321.5 2116.0,1327.3 2117.0,1323.0 2118.0,1324.7 2119.0,1327.8 2120.0,1325.4 2121.0,1328.3 2122.0,1326.7 2123.0,1332.8 2124.0,1330.6 2125.0,1329.8 2126.0,1330.7 2127.0,1333.1 2128.0,1331.6 2129.0,1330.1 2130.0,1330.4 2131.0,1331.2 2132.0,1331.8 2133.0,1330.5 2134.0,1333.6 2135.0,1330.9 2136.0,1328.4 2137.0,1327.8 2138.0,1330.5 2139.0,1333.9 2140.0,1330.1 2141.0,1329.8 2142.0,1327.7 2143.0,1330.1 2144.0,1327.3 2145.0,1328.6 2146.0,1329.1 2147.0,1329.7 2148.0,1328.8 2149.0,1329.0 2150.0,1328.2 2151.0,1330.1 2152.0,1328.9 2153.0,1332.6 2154.0,1332.1 2155.0,1329.7 2156.0,1333.4 2157.0,1330.0 2158.0,1328.0 2159.0,1332.6 2160.0,1333.2 2161.0,1326.9 2162.0,1329.1 2163.0,1326.4 2164.0,1330.6 2165.0,1331.1 2166.0,1325.8 2167.0,1329.9 2168.0,1329.6 2169.0,1327.6 2170.0,1328.6 2171.0,1328.4 2172.0,1327.5 2173.0,1328.3 2174.0,1324.0 2175.0,1328.2 2176.0,1323.6 2177.0,1322.1 2178.0,1323.4 2179.0,1317.9 2180.0,1317.7 2181.0,1320.0 2182.0,1318.7 2183.0,1316.2 2184.0,1316.4 2185.0,1314.8 2186.0,1313.9 2187.0,1314.0 2188.0,1312.7 2189.0,1314.6 2190.0,1312.7 2191.0,1316.2 2192.0,1316.8 2193.0,1313.2 2194.0,1317.7 2195.0,1320.9 2196.0,1318.5 2197.0,1318.1 2198.0,1318.6 2199.0,1322.4 2200.0,1320.7 2201.0,1321.6 2202.0,1325.6 2203.0,1328.6 2204.0,1327.0 2205.0,1324.0 2206.0,1324.4 2207.0,1326.7 2208.0,1329.6 2209.0,1330.2 2210.0,1329.8 2211.0,1326.6 2212.0,1330.3 2213.0,1330.7 2214.0,1329.1 2215.0,1327.4 2216.0,1329.4 2217.0,1329.2 2218.0,1328.8 2219.0,1326.8 2220.0,1328.3 2221.0,1330.9 2222.0,1327.4 2223.0,1328.9 2224.0,1327.4 2225.0,1325.6 2226.0,1328.7 2227.0,1330.1 2228.0,1329.0 2229.0,1329.0 2230.0,1327.2 2231.0,1330.7 2232.0,1330.7 2233.0,1328.2 2234.0,1328.4 2235.0,1324.9 2236.0,1324.2 2237.0,1328.8 2238.0,1326.7 2239.0,1326.8 2240.0,1328.2 2241.0,1324.3 2242.0,1326.9 2243.0,1327.3 2244.0,1327.1 2245.0,1322.7 2246.0,1322.9 2247.0,1327.2 2248.0,1327.5 2249.0,1327.4 2250.0,1324.9 2251.0,1322.7 2252.0,1324.8 2253.0,1322.2 2254.0,1325.1 2255.0,1322.4 2256.0,1320.0 2257.0,1320.2"/>
</g>
<g stroke="#000" stroke-width="5" fill="none">
<path d="M198.4,147 V1807.5 H2260"/>
<path d="M454.6,1775 V1807"/>
<path d="M712.4,1775 V1807"/>
<path d="M969.8,1775 V1807"/>
<path d="M1226.8,1775 V1807"/>
<path d="M1484.2,1775 V1807"/>
<path d="M1741.8,1775 V1807"/>
<path d="M1998.4,1775 V1807"/>
<path d="M2257.5,1775 V1807"/>
</g>
<g font-size="110" text-anchor="middle">
<text x="197.4" y="1928">10</text>
<text x="454.6" y="1928">20</text>
<text x="711.9" y="1928">30</text>
<text x="969.1" y="1928">40</text>
<text x="1226.4" y="1928">50</text>
<text x="1483.7" y="1928">60</text>
<text x="1740.9" y="1928">70</text>
<text x="1998.2" y="1928">80</text>
<text x="2255.4" y="1928">90</text>
</g>
<text x="1226" y="2074" font-size="110" text-anchor="middle">2θ(°)</text>
<text transform="translate(107,1257) rotate(-90)" font-size="109.3" text-anchor="middle">Intensity(a.u.)</text>
<g font-size="92">
<text x="2114.5" y="1081.7">(d)</text>
<text x="2121.7" y="1285">(c)</text>
<text x="2127" y="1495">(b)</text>
<text x="2129" y="1685">(a)</text>
</g>
<g fill="#000">
<path d="M484.2,1025.0 L542.8,1025.0 L513.5,1082.5 Z"/>
<ellipse cx="607.5" cy="105.1" rx="10.9" ry="9.6"/><ellipse cx="592.3" cy="123.8" rx="9.6" ry="10.6"/><ellipse cx="622.7" cy="123.8" rx="9.6" ry="10.6"/><rect x="592.5" y="115.5" width="30" height="13.5"/><path d="M604.7,111.5 H610.3 L610.5,140.0 H612.7 V142.8 H602.3 V140.0 H604.5 Z"/>
<path d="M633.8,955.6 L692.2,955.6 L663.0,1013.1 Z"/>
<ellipse cx="765.8" cy="36.1" rx="10.9" ry="9.6"/><ellipse cx="750.6" cy="54.8" rx="9.6" ry="10.6"/><ellipse cx="781.0" cy="54.8" rx="9.6" ry="10.6"/><rect x="750.8" y="46.5" width="30" height="13.5"/><path d="M763.0,42.5 H768.6 L768.8,71.0 H771.0 V73.8 H760.6 V71.0 H762.8 Z"/>
<path d="M757.4,87.1 L776.7,111.8 L757.4,136.5 L738.1,111.8 Z"/>
<path d="M797.8,512.8 L856.2,512.8 L827.0,570.3 Z"/>
<path d="M823.5,571.8 L842.8,596.5 L823.5,621.2 L804.2,596.5 Z"/>
<circle cx="881.6" cy="62.9" r="18.5"/>
<path d="M880.2,95.6 L899.5,120.3 L880.2,145.0 L860.9,120.3 Z"/>
<circle cx="1101.0" cy="1085.0" r="16.5"/>
<circle cx="1145.0" cy="1017.0" r="18.5"/>
<ellipse cx="1147.2" cy="1054.6" rx="10.9" ry="9.6"/><ellipse cx="1132.0" cy="1073.3" rx="9.6" ry="10.6"/><ellipse cx="1162.4" cy="1073.3" rx="9.6" ry="10.6"/><rect x="1132.2" y="1065.0" width="30" height="13.5"/><path d="M1144.4,1061.0 H1150.0 L1150.2,1089.5 H1152.4 V1092.3 H1142.0 V1089.5 H1144.2 Z"/>
<ellipse cx="1215.6" cy="1005.1" rx="10.9" ry="9.6"/><ellipse cx="1200.4" cy="1023.8" rx="9.6" ry="10.6"/><ellipse cx="1230.8" cy="1023.8" rx="9.6" ry="10.6"/><rect x="1200.6" y="1015.5" width="30" height="13.5"/><path d="M1212.8,1011.5 H1218.4 L1218.6,1040.0 H1220.8 V1042.8 H1210.4 V1040.0 H1212.6 Z"/>
<ellipse cx="1311.3" cy="925.6" rx="10.9" ry="9.6"/><ellipse cx="1296.1" cy="944.3" rx="9.6" ry="10.6"/><ellipse cx="1326.5" cy="944.3" rx="9.6" ry="10.6"/><rect x="1296.3" y="936.0" width="30" height="13.5"/><path d="M1308.5,932.0 H1314.1 L1314.3,960.5 H1316.5 V963.3 H1306.1 V960.5 H1308.3 Z"/>
<circle cx="1413.9" cy="234.7" r="18.5"/>
<path d="M1412.2,261.7 L1431.5,286.4 L1412.2,311.1 L1392.9,286.4 Z"/>
<ellipse cx="1564.7" cy="955.5" rx="10.9" ry="9.6"/><ellipse cx="1549.5" cy="974.2" rx="9.6" ry="10.6"/><ellipse cx="1579.9" cy="974.2" rx="9.6" ry="10.6"/><rect x="1549.7" y="965.9" width="30" height="13.5"/><path d="M1561.9,961.9 H1567.5 L1567.7,990.4 H1569.9 V993.2 H1559.5 V990.4 H1561.7 Z"/>
<path d="M1562.0,1005.8 L1581.3,1030.5 L1562.0,1055.2 L1542.7,1030.5 Z"/>
<path d="M1668.3,97.8 L1687.6,122.5 L1668.3,147.2 L1649.0,122.5 Z"/>
<path d="M1705.8,605.3 L1725.1,630.0 L1705.8,654.7 L1686.5,630.0 Z"/>
<path d="M1739.2,94.3 L1758.5,119.0 L1739.2,143.7 L1719.9,119.0 Z"/>
<path d="M1804.8,1045.0 L1824.1,1069.7 L1804.8,1094.4 L1785.5,1069.7 Z"/>
<path d="M1943.9,1013.5 L1963.2,1038.2 L1943.9,1062.9 L1924.6,1038.2 Z"/>
<path d="M1930.8,97.8 L1950.1,122.5 L1930.8,147.2 L1911.5,122.5 Z"/>
<ellipse cx="2203.0" cy="106.6" rx="10.9" ry="9.6"/><ellipse cx="2187.8" cy="125.3" rx="9.6" ry="10.6"/><ellipse cx="2218.2" cy="125.3" rx="9.6" ry="10.6"/><rect x="2188.0" y="117.0" width="30" height="13.5"/><path d="M2200.2,113.0 H2205.8 L2206.0,141.5 H2208.2 V144.3 H2197.8 V141.5 H2200.0 Z"/>
<circle cx="1924.8" cy="227.7" r="18.5"/>
<path d="M1912.2,319.4 L1970.7,319.4 L1941.4,376.9 Z"/>
</g>
<g font-size="86">
<text x="1988" y="145.4">Mg</text>
<text x="2259.5" y="145.4" transform="translate(2261,0) scale(0.963,1) translate(-2261,0)">HA</text>
<text x="1972" y="250.9" transform="translate(1974,0) scale(1.0136,1) translate(-1974,0)">Mg<tspan font-size="58" dy="24">3</tspan><tspan dy="-24">(PO</tspan><tspan font-size="58" dy="24">4</tspan><tspan dy="-24">)</tspan><tspan font-size="58" dy="24">2</tspan></text>
<text x="2004" y="378.1">Ca<tspan font-size="58" dy="24">3</tspan><tspan dy="-24">(PO</tspan><tspan font-size="58" dy="24">4</tspan><tspan dy="-24">)</tspan><tspan font-size="58" dy="24">2</tspan></text>
</g>
</svg></body></html>
